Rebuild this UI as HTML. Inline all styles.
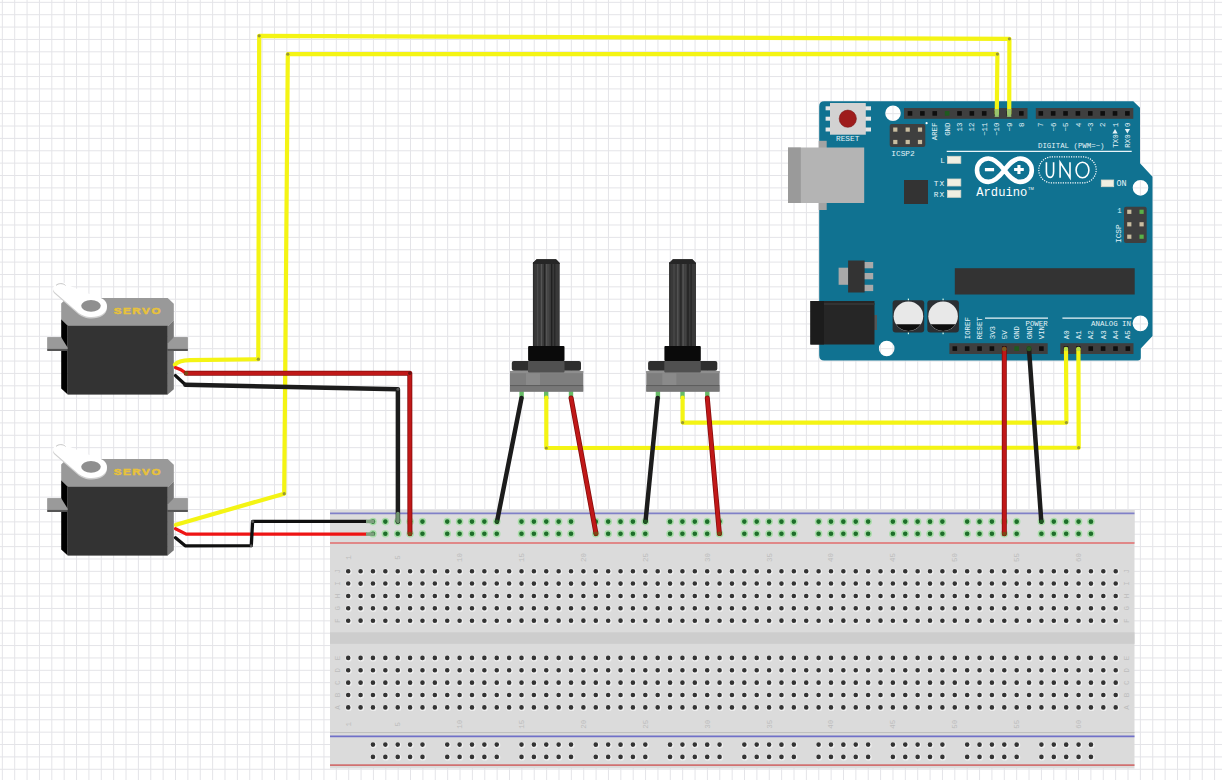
<!DOCTYPE html>
<html><head><meta charset="utf-8"><style>
html,body{margin:0;padding:0;background:#fff;overflow:hidden;}
svg{display:block;font-family:"Liberation Sans",sans-serif;}
</style></head><body>
<svg width="1222" height="780" viewBox="0 0 1222 780">
<rect width="1222" height="780" fill="#ffffff"/>
<path d="M2.33 0V780M14.7 0V780M27.07 0V780M39.44 0V780M51.81 0V780M64.18 0V780M76.55 0V780M88.92 0V780M101.29 0V780M113.66 0V780M126.03 0V780M138.4 0V780M150.77 0V780M163.14 0V780M175.51 0V780M187.88 0V780M200.25 0V780M212.62 0V780M224.99 0V780M237.36 0V780M249.73 0V780M262.1 0V780M274.47 0V780M286.84 0V780M299.21 0V780M311.58 0V780M323.95 0V780M336.32 0V780M348.69 0V780M361.06 0V780M373.43 0V780M385.8 0V780M398.17 0V780M410.54 0V780M422.91 0V780M435.28 0V780M447.65 0V780M460.02 0V780M472.39 0V780M484.76 0V780M497.13 0V780M509.5 0V780M521.87 0V780M534.24 0V780M546.61 0V780M558.98 0V780M571.35 0V780M583.72 0V780M596.09 0V780M608.46 0V780M620.83 0V780M633.2 0V780M645.57 0V780M657.94 0V780M670.31 0V780M682.68 0V780M695.05 0V780M707.42 0V780M719.79 0V780M732.16 0V780M744.53 0V780M756.9 0V780M769.27 0V780M781.64 0V780M794.01 0V780M806.38 0V780M818.75 0V780M831.12 0V780M843.49 0V780M855.86 0V780M868.23 0V780M880.6 0V780M892.97 0V780M905.34 0V780M917.71 0V780M930.08 0V780M942.45 0V780M954.82 0V780M967.19 0V780M979.56 0V780M991.93 0V780M1004.3 0V780M1016.67 0V780M1029.04 0V780M1041.41 0V780M1053.78 0V780M1066.15 0V780M1078.52 0V780M1090.89 0V780M1103.26 0V780M1115.63 0V780M1128 0V780M1140.37 0V780M1152.74 0V780M1165.11 0V780M1177.48 0V780M1189.85 0V780M1202.22 0V780M1214.59 0V780M0 2.33H1222M0 14.7H1222M0 27.07H1222M0 39.44H1222M0 51.81H1222M0 64.18H1222M0 76.55H1222M0 88.92H1222M0 101.29H1222M0 113.66H1222M0 126.03H1222M0 138.4H1222M0 150.77H1222M0 163.14H1222M0 175.51H1222M0 187.88H1222M0 200.25H1222M0 212.62H1222M0 224.99H1222M0 237.36H1222M0 249.73H1222M0 262.1H1222M0 274.47H1222M0 286.84H1222M0 299.21H1222M0 311.58H1222M0 323.95H1222M0 336.32H1222M0 348.69H1222M0 361.06H1222M0 373.43H1222M0 385.8H1222M0 398.17H1222M0 410.54H1222M0 422.91H1222M0 435.28H1222M0 447.65H1222M0 460.02H1222M0 472.39H1222M0 484.76H1222M0 497.13H1222M0 509.5H1222M0 521.87H1222M0 534.24H1222M0 546.61H1222M0 558.98H1222M0 571.35H1222M0 583.72H1222M0 596.09H1222M0 608.46H1222M0 620.83H1222M0 633.2H1222M0 645.57H1222M0 657.94H1222M0 670.31H1222M0 682.68H1222M0 695.05H1222M0 707.42H1222M0 719.79H1222M0 732.16H1222M0 744.53H1222M0 756.9H1222M0 769.27H1222" stroke="#e4e4e8" stroke-width="1" fill="none"/>
<g id="bb">
<rect x="330" y="510" width="804.5" height="258.5" fill="#dbdbdb"/>
<rect x="330" y="510" width="804.5" height="33" fill="#dcdcdc"/>
<path d="M330 513.4H1134.5" stroke="#8080c8" stroke-width="1.6"/>
<path d="M330 543H1134.5" stroke="#e08888" stroke-width="1.8"/>
<rect x="330" y="632.3" width="804.5" height="11.5" fill="#cdcdcd"/>
<path d="M330 732.6H1134.5" stroke="#bcbcbc" stroke-width="1"/>
<path d="M330 736.4H1134.5" stroke="#7070c8" stroke-width="1.6"/>
<path d="M330 765.2H1134.5" stroke="#d07070" stroke-width="1.8"/>
<path d="M345.4 571.7a3.2 3.2 0 1 0 6.4 0a3.2 3.2 0 1 0 -6.4 0zM357.78 571.7a3.2 3.2 0 1 0 6.4 0a3.2 3.2 0 1 0 -6.4 0zM370.16 571.7a3.2 3.2 0 1 0 6.4 0a3.2 3.2 0 1 0 -6.4 0zM382.54 571.7a3.2 3.2 0 1 0 6.4 0a3.2 3.2 0 1 0 -6.4 0zM394.92 571.7a3.2 3.2 0 1 0 6.4 0a3.2 3.2 0 1 0 -6.4 0zM407.29 571.7a3.2 3.2 0 1 0 6.4 0a3.2 3.2 0 1 0 -6.4 0zM419.67 571.7a3.2 3.2 0 1 0 6.4 0a3.2 3.2 0 1 0 -6.4 0zM432.05 571.7a3.2 3.2 0 1 0 6.4 0a3.2 3.2 0 1 0 -6.4 0zM444.43 571.7a3.2 3.2 0 1 0 6.4 0a3.2 3.2 0 1 0 -6.4 0zM456.81 571.7a3.2 3.2 0 1 0 6.4 0a3.2 3.2 0 1 0 -6.4 0zM469.19 571.7a3.2 3.2 0 1 0 6.4 0a3.2 3.2 0 1 0 -6.4 0zM481.57 571.7a3.2 3.2 0 1 0 6.4 0a3.2 3.2 0 1 0 -6.4 0zM493.95 571.7a3.2 3.2 0 1 0 6.4 0a3.2 3.2 0 1 0 -6.4 0zM506.33 571.7a3.2 3.2 0 1 0 6.4 0a3.2 3.2 0 1 0 -6.4 0zM518.71 571.7a3.2 3.2 0 1 0 6.4 0a3.2 3.2 0 1 0 -6.4 0zM531.08 571.7a3.2 3.2 0 1 0 6.4 0a3.2 3.2 0 1 0 -6.4 0zM543.46 571.7a3.2 3.2 0 1 0 6.4 0a3.2 3.2 0 1 0 -6.4 0zM555.84 571.7a3.2 3.2 0 1 0 6.4 0a3.2 3.2 0 1 0 -6.4 0zM568.22 571.7a3.2 3.2 0 1 0 6.4 0a3.2 3.2 0 1 0 -6.4 0zM580.6 571.7a3.2 3.2 0 1 0 6.4 0a3.2 3.2 0 1 0 -6.4 0zM592.98 571.7a3.2 3.2 0 1 0 6.4 0a3.2 3.2 0 1 0 -6.4 0zM605.36 571.7a3.2 3.2 0 1 0 6.4 0a3.2 3.2 0 1 0 -6.4 0zM617.74 571.7a3.2 3.2 0 1 0 6.4 0a3.2 3.2 0 1 0 -6.4 0zM630.12 571.7a3.2 3.2 0 1 0 6.4 0a3.2 3.2 0 1 0 -6.4 0zM642.5 571.7a3.2 3.2 0 1 0 6.4 0a3.2 3.2 0 1 0 -6.4 0zM654.87 571.7a3.2 3.2 0 1 0 6.4 0a3.2 3.2 0 1 0 -6.4 0zM667.25 571.7a3.2 3.2 0 1 0 6.4 0a3.2 3.2 0 1 0 -6.4 0zM679.63 571.7a3.2 3.2 0 1 0 6.4 0a3.2 3.2 0 1 0 -6.4 0zM692.01 571.7a3.2 3.2 0 1 0 6.4 0a3.2 3.2 0 1 0 -6.4 0zM704.39 571.7a3.2 3.2 0 1 0 6.4 0a3.2 3.2 0 1 0 -6.4 0zM716.77 571.7a3.2 3.2 0 1 0 6.4 0a3.2 3.2 0 1 0 -6.4 0zM729.15 571.7a3.2 3.2 0 1 0 6.4 0a3.2 3.2 0 1 0 -6.4 0zM741.53 571.7a3.2 3.2 0 1 0 6.4 0a3.2 3.2 0 1 0 -6.4 0zM753.91 571.7a3.2 3.2 0 1 0 6.4 0a3.2 3.2 0 1 0 -6.4 0zM766.29 571.7a3.2 3.2 0 1 0 6.4 0a3.2 3.2 0 1 0 -6.4 0zM778.66 571.7a3.2 3.2 0 1 0 6.4 0a3.2 3.2 0 1 0 -6.4 0zM791.04 571.7a3.2 3.2 0 1 0 6.4 0a3.2 3.2 0 1 0 -6.4 0zM803.42 571.7a3.2 3.2 0 1 0 6.4 0a3.2 3.2 0 1 0 -6.4 0zM815.8 571.7a3.2 3.2 0 1 0 6.4 0a3.2 3.2 0 1 0 -6.4 0zM828.18 571.7a3.2 3.2 0 1 0 6.4 0a3.2 3.2 0 1 0 -6.4 0zM840.56 571.7a3.2 3.2 0 1 0 6.4 0a3.2 3.2 0 1 0 -6.4 0zM852.94 571.7a3.2 3.2 0 1 0 6.4 0a3.2 3.2 0 1 0 -6.4 0zM865.32 571.7a3.2 3.2 0 1 0 6.4 0a3.2 3.2 0 1 0 -6.4 0zM877.7 571.7a3.2 3.2 0 1 0 6.4 0a3.2 3.2 0 1 0 -6.4 0zM890.08 571.7a3.2 3.2 0 1 0 6.4 0a3.2 3.2 0 1 0 -6.4 0zM902.45 571.7a3.2 3.2 0 1 0 6.4 0a3.2 3.2 0 1 0 -6.4 0zM914.83 571.7a3.2 3.2 0 1 0 6.4 0a3.2 3.2 0 1 0 -6.4 0zM927.21 571.7a3.2 3.2 0 1 0 6.4 0a3.2 3.2 0 1 0 -6.4 0zM939.59 571.7a3.2 3.2 0 1 0 6.4 0a3.2 3.2 0 1 0 -6.4 0zM951.97 571.7a3.2 3.2 0 1 0 6.4 0a3.2 3.2 0 1 0 -6.4 0zM964.35 571.7a3.2 3.2 0 1 0 6.4 0a3.2 3.2 0 1 0 -6.4 0zM976.73 571.7a3.2 3.2 0 1 0 6.4 0a3.2 3.2 0 1 0 -6.4 0zM989.11 571.7a3.2 3.2 0 1 0 6.4 0a3.2 3.2 0 1 0 -6.4 0zM1001.49 571.7a3.2 3.2 0 1 0 6.4 0a3.2 3.2 0 1 0 -6.4 0zM1013.87 571.7a3.2 3.2 0 1 0 6.4 0a3.2 3.2 0 1 0 -6.4 0zM1026.25 571.7a3.2 3.2 0 1 0 6.4 0a3.2 3.2 0 1 0 -6.4 0zM1038.62 571.7a3.2 3.2 0 1 0 6.4 0a3.2 3.2 0 1 0 -6.4 0zM1051 571.7a3.2 3.2 0 1 0 6.4 0a3.2 3.2 0 1 0 -6.4 0zM1063.38 571.7a3.2 3.2 0 1 0 6.4 0a3.2 3.2 0 1 0 -6.4 0zM1075.76 571.7a3.2 3.2 0 1 0 6.4 0a3.2 3.2 0 1 0 -6.4 0zM1088.14 571.7a3.2 3.2 0 1 0 6.4 0a3.2 3.2 0 1 0 -6.4 0zM1100.52 571.7a3.2 3.2 0 1 0 6.4 0a3.2 3.2 0 1 0 -6.4 0zM1112.9 571.7a3.2 3.2 0 1 0 6.4 0a3.2 3.2 0 1 0 -6.4 0zM345.4 584.07a3.2 3.2 0 1 0 6.4 0a3.2 3.2 0 1 0 -6.4 0zM357.78 584.07a3.2 3.2 0 1 0 6.4 0a3.2 3.2 0 1 0 -6.4 0zM370.16 584.07a3.2 3.2 0 1 0 6.4 0a3.2 3.2 0 1 0 -6.4 0zM382.54 584.07a3.2 3.2 0 1 0 6.4 0a3.2 3.2 0 1 0 -6.4 0zM394.92 584.07a3.2 3.2 0 1 0 6.4 0a3.2 3.2 0 1 0 -6.4 0zM407.29 584.07a3.2 3.2 0 1 0 6.4 0a3.2 3.2 0 1 0 -6.4 0zM419.67 584.07a3.2 3.2 0 1 0 6.4 0a3.2 3.2 0 1 0 -6.4 0zM432.05 584.07a3.2 3.2 0 1 0 6.4 0a3.2 3.2 0 1 0 -6.4 0zM444.43 584.07a3.2 3.2 0 1 0 6.4 0a3.2 3.2 0 1 0 -6.4 0zM456.81 584.07a3.2 3.2 0 1 0 6.4 0a3.2 3.2 0 1 0 -6.4 0zM469.19 584.07a3.2 3.2 0 1 0 6.4 0a3.2 3.2 0 1 0 -6.4 0zM481.57 584.07a3.2 3.2 0 1 0 6.4 0a3.2 3.2 0 1 0 -6.4 0zM493.95 584.07a3.2 3.2 0 1 0 6.4 0a3.2 3.2 0 1 0 -6.4 0zM506.33 584.07a3.2 3.2 0 1 0 6.4 0a3.2 3.2 0 1 0 -6.4 0zM518.71 584.07a3.2 3.2 0 1 0 6.4 0a3.2 3.2 0 1 0 -6.4 0zM531.08 584.07a3.2 3.2 0 1 0 6.4 0a3.2 3.2 0 1 0 -6.4 0zM543.46 584.07a3.2 3.2 0 1 0 6.4 0a3.2 3.2 0 1 0 -6.4 0zM555.84 584.07a3.2 3.2 0 1 0 6.4 0a3.2 3.2 0 1 0 -6.4 0zM568.22 584.07a3.2 3.2 0 1 0 6.4 0a3.2 3.2 0 1 0 -6.4 0zM580.6 584.07a3.2 3.2 0 1 0 6.4 0a3.2 3.2 0 1 0 -6.4 0zM592.98 584.07a3.2 3.2 0 1 0 6.4 0a3.2 3.2 0 1 0 -6.4 0zM605.36 584.07a3.2 3.2 0 1 0 6.4 0a3.2 3.2 0 1 0 -6.4 0zM617.74 584.07a3.2 3.2 0 1 0 6.4 0a3.2 3.2 0 1 0 -6.4 0zM630.12 584.07a3.2 3.2 0 1 0 6.4 0a3.2 3.2 0 1 0 -6.4 0zM642.5 584.07a3.2 3.2 0 1 0 6.4 0a3.2 3.2 0 1 0 -6.4 0zM654.87 584.07a3.2 3.2 0 1 0 6.4 0a3.2 3.2 0 1 0 -6.4 0zM667.25 584.07a3.2 3.2 0 1 0 6.4 0a3.2 3.2 0 1 0 -6.4 0zM679.63 584.07a3.2 3.2 0 1 0 6.4 0a3.2 3.2 0 1 0 -6.4 0zM692.01 584.07a3.2 3.2 0 1 0 6.4 0a3.2 3.2 0 1 0 -6.4 0zM704.39 584.07a3.2 3.2 0 1 0 6.4 0a3.2 3.2 0 1 0 -6.4 0zM716.77 584.07a3.2 3.2 0 1 0 6.4 0a3.2 3.2 0 1 0 -6.4 0zM729.15 584.07a3.2 3.2 0 1 0 6.4 0a3.2 3.2 0 1 0 -6.4 0zM741.53 584.07a3.2 3.2 0 1 0 6.4 0a3.2 3.2 0 1 0 -6.4 0zM753.91 584.07a3.2 3.2 0 1 0 6.4 0a3.2 3.2 0 1 0 -6.4 0zM766.29 584.07a3.2 3.2 0 1 0 6.4 0a3.2 3.2 0 1 0 -6.4 0zM778.66 584.07a3.2 3.2 0 1 0 6.4 0a3.2 3.2 0 1 0 -6.4 0zM791.04 584.07a3.2 3.2 0 1 0 6.4 0a3.2 3.2 0 1 0 -6.4 0zM803.42 584.07a3.2 3.2 0 1 0 6.4 0a3.2 3.2 0 1 0 -6.4 0zM815.8 584.07a3.2 3.2 0 1 0 6.4 0a3.2 3.2 0 1 0 -6.4 0zM828.18 584.07a3.2 3.2 0 1 0 6.4 0a3.2 3.2 0 1 0 -6.4 0zM840.56 584.07a3.2 3.2 0 1 0 6.4 0a3.2 3.2 0 1 0 -6.4 0zM852.94 584.07a3.2 3.2 0 1 0 6.4 0a3.2 3.2 0 1 0 -6.4 0zM865.32 584.07a3.2 3.2 0 1 0 6.4 0a3.2 3.2 0 1 0 -6.4 0zM877.7 584.07a3.2 3.2 0 1 0 6.4 0a3.2 3.2 0 1 0 -6.4 0zM890.08 584.07a3.2 3.2 0 1 0 6.4 0a3.2 3.2 0 1 0 -6.4 0zM902.45 584.07a3.2 3.2 0 1 0 6.4 0a3.2 3.2 0 1 0 -6.4 0zM914.83 584.07a3.2 3.2 0 1 0 6.4 0a3.2 3.2 0 1 0 -6.4 0zM927.21 584.07a3.2 3.2 0 1 0 6.4 0a3.2 3.2 0 1 0 -6.4 0zM939.59 584.07a3.2 3.2 0 1 0 6.4 0a3.2 3.2 0 1 0 -6.4 0zM951.97 584.07a3.2 3.2 0 1 0 6.4 0a3.2 3.2 0 1 0 -6.4 0zM964.35 584.07a3.2 3.2 0 1 0 6.4 0a3.2 3.2 0 1 0 -6.4 0zM976.73 584.07a3.2 3.2 0 1 0 6.4 0a3.2 3.2 0 1 0 -6.4 0zM989.11 584.07a3.2 3.2 0 1 0 6.4 0a3.2 3.2 0 1 0 -6.4 0zM1001.49 584.07a3.2 3.2 0 1 0 6.4 0a3.2 3.2 0 1 0 -6.4 0zM1013.87 584.07a3.2 3.2 0 1 0 6.4 0a3.2 3.2 0 1 0 -6.4 0zM1026.25 584.07a3.2 3.2 0 1 0 6.4 0a3.2 3.2 0 1 0 -6.4 0zM1038.62 584.07a3.2 3.2 0 1 0 6.4 0a3.2 3.2 0 1 0 -6.4 0zM1051 584.07a3.2 3.2 0 1 0 6.4 0a3.2 3.2 0 1 0 -6.4 0zM1063.38 584.07a3.2 3.2 0 1 0 6.4 0a3.2 3.2 0 1 0 -6.4 0zM1075.76 584.07a3.2 3.2 0 1 0 6.4 0a3.2 3.2 0 1 0 -6.4 0zM1088.14 584.07a3.2 3.2 0 1 0 6.4 0a3.2 3.2 0 1 0 -6.4 0zM1100.52 584.07a3.2 3.2 0 1 0 6.4 0a3.2 3.2 0 1 0 -6.4 0zM1112.9 584.07a3.2 3.2 0 1 0 6.4 0a3.2 3.2 0 1 0 -6.4 0zM345.4 596.44a3.2 3.2 0 1 0 6.4 0a3.2 3.2 0 1 0 -6.4 0zM357.78 596.44a3.2 3.2 0 1 0 6.4 0a3.2 3.2 0 1 0 -6.4 0zM370.16 596.44a3.2 3.2 0 1 0 6.4 0a3.2 3.2 0 1 0 -6.4 0zM382.54 596.44a3.2 3.2 0 1 0 6.4 0a3.2 3.2 0 1 0 -6.4 0zM394.92 596.44a3.2 3.2 0 1 0 6.4 0a3.2 3.2 0 1 0 -6.4 0zM407.29 596.44a3.2 3.2 0 1 0 6.4 0a3.2 3.2 0 1 0 -6.4 0zM419.67 596.44a3.2 3.2 0 1 0 6.4 0a3.2 3.2 0 1 0 -6.4 0zM432.05 596.44a3.2 3.2 0 1 0 6.4 0a3.2 3.2 0 1 0 -6.4 0zM444.43 596.44a3.2 3.2 0 1 0 6.4 0a3.2 3.2 0 1 0 -6.4 0zM456.81 596.44a3.2 3.2 0 1 0 6.4 0a3.2 3.2 0 1 0 -6.4 0zM469.19 596.44a3.2 3.2 0 1 0 6.4 0a3.2 3.2 0 1 0 -6.4 0zM481.57 596.44a3.2 3.2 0 1 0 6.4 0a3.2 3.2 0 1 0 -6.4 0zM493.95 596.44a3.2 3.2 0 1 0 6.4 0a3.2 3.2 0 1 0 -6.4 0zM506.33 596.44a3.2 3.2 0 1 0 6.4 0a3.2 3.2 0 1 0 -6.4 0zM518.71 596.44a3.2 3.2 0 1 0 6.4 0a3.2 3.2 0 1 0 -6.4 0zM531.08 596.44a3.2 3.2 0 1 0 6.4 0a3.2 3.2 0 1 0 -6.4 0zM543.46 596.44a3.2 3.2 0 1 0 6.4 0a3.2 3.2 0 1 0 -6.4 0zM555.84 596.44a3.2 3.2 0 1 0 6.4 0a3.2 3.2 0 1 0 -6.4 0zM568.22 596.44a3.2 3.2 0 1 0 6.4 0a3.2 3.2 0 1 0 -6.4 0zM580.6 596.44a3.2 3.2 0 1 0 6.4 0a3.2 3.2 0 1 0 -6.4 0zM592.98 596.44a3.2 3.2 0 1 0 6.4 0a3.2 3.2 0 1 0 -6.4 0zM605.36 596.44a3.2 3.2 0 1 0 6.4 0a3.2 3.2 0 1 0 -6.4 0zM617.74 596.44a3.2 3.2 0 1 0 6.4 0a3.2 3.2 0 1 0 -6.4 0zM630.12 596.44a3.2 3.2 0 1 0 6.4 0a3.2 3.2 0 1 0 -6.4 0zM642.5 596.44a3.2 3.2 0 1 0 6.4 0a3.2 3.2 0 1 0 -6.4 0zM654.87 596.44a3.2 3.2 0 1 0 6.4 0a3.2 3.2 0 1 0 -6.4 0zM667.25 596.44a3.2 3.2 0 1 0 6.4 0a3.2 3.2 0 1 0 -6.4 0zM679.63 596.44a3.2 3.2 0 1 0 6.4 0a3.2 3.2 0 1 0 -6.4 0zM692.01 596.44a3.2 3.2 0 1 0 6.4 0a3.2 3.2 0 1 0 -6.4 0zM704.39 596.44a3.2 3.2 0 1 0 6.4 0a3.2 3.2 0 1 0 -6.4 0zM716.77 596.44a3.2 3.2 0 1 0 6.4 0a3.2 3.2 0 1 0 -6.4 0zM729.15 596.44a3.2 3.2 0 1 0 6.4 0a3.2 3.2 0 1 0 -6.4 0zM741.53 596.44a3.2 3.2 0 1 0 6.4 0a3.2 3.2 0 1 0 -6.4 0zM753.91 596.44a3.2 3.2 0 1 0 6.4 0a3.2 3.2 0 1 0 -6.4 0zM766.29 596.44a3.2 3.2 0 1 0 6.4 0a3.2 3.2 0 1 0 -6.4 0zM778.66 596.44a3.2 3.2 0 1 0 6.4 0a3.2 3.2 0 1 0 -6.4 0zM791.04 596.44a3.2 3.2 0 1 0 6.4 0a3.2 3.2 0 1 0 -6.4 0zM803.42 596.44a3.2 3.2 0 1 0 6.4 0a3.2 3.2 0 1 0 -6.4 0zM815.8 596.44a3.2 3.2 0 1 0 6.4 0a3.2 3.2 0 1 0 -6.4 0zM828.18 596.44a3.2 3.2 0 1 0 6.4 0a3.2 3.2 0 1 0 -6.4 0zM840.56 596.44a3.2 3.2 0 1 0 6.4 0a3.2 3.2 0 1 0 -6.4 0zM852.94 596.44a3.2 3.2 0 1 0 6.4 0a3.2 3.2 0 1 0 -6.4 0zM865.32 596.44a3.2 3.2 0 1 0 6.4 0a3.2 3.2 0 1 0 -6.4 0zM877.7 596.44a3.2 3.2 0 1 0 6.4 0a3.2 3.2 0 1 0 -6.4 0zM890.08 596.44a3.2 3.2 0 1 0 6.4 0a3.2 3.2 0 1 0 -6.4 0zM902.45 596.44a3.2 3.2 0 1 0 6.4 0a3.2 3.2 0 1 0 -6.4 0zM914.83 596.44a3.2 3.2 0 1 0 6.4 0a3.2 3.2 0 1 0 -6.4 0zM927.21 596.44a3.2 3.2 0 1 0 6.4 0a3.2 3.2 0 1 0 -6.4 0zM939.59 596.44a3.2 3.2 0 1 0 6.4 0a3.2 3.2 0 1 0 -6.4 0zM951.97 596.44a3.2 3.2 0 1 0 6.4 0a3.2 3.2 0 1 0 -6.4 0zM964.35 596.44a3.2 3.2 0 1 0 6.4 0a3.2 3.2 0 1 0 -6.4 0zM976.73 596.44a3.2 3.2 0 1 0 6.4 0a3.2 3.2 0 1 0 -6.4 0zM989.11 596.44a3.2 3.2 0 1 0 6.4 0a3.2 3.2 0 1 0 -6.4 0zM1001.49 596.44a3.2 3.2 0 1 0 6.4 0a3.2 3.2 0 1 0 -6.4 0zM1013.87 596.44a3.2 3.2 0 1 0 6.4 0a3.2 3.2 0 1 0 -6.4 0zM1026.25 596.44a3.2 3.2 0 1 0 6.4 0a3.2 3.2 0 1 0 -6.4 0zM1038.62 596.44a3.2 3.2 0 1 0 6.4 0a3.2 3.2 0 1 0 -6.4 0zM1051 596.44a3.2 3.2 0 1 0 6.4 0a3.2 3.2 0 1 0 -6.4 0zM1063.38 596.44a3.2 3.2 0 1 0 6.4 0a3.2 3.2 0 1 0 -6.4 0zM1075.76 596.44a3.2 3.2 0 1 0 6.4 0a3.2 3.2 0 1 0 -6.4 0zM1088.14 596.44a3.2 3.2 0 1 0 6.4 0a3.2 3.2 0 1 0 -6.4 0zM1100.52 596.44a3.2 3.2 0 1 0 6.4 0a3.2 3.2 0 1 0 -6.4 0zM1112.9 596.44a3.2 3.2 0 1 0 6.4 0a3.2 3.2 0 1 0 -6.4 0zM345.4 608.81a3.2 3.2 0 1 0 6.4 0a3.2 3.2 0 1 0 -6.4 0zM357.78 608.81a3.2 3.2 0 1 0 6.4 0a3.2 3.2 0 1 0 -6.4 0zM370.16 608.81a3.2 3.2 0 1 0 6.4 0a3.2 3.2 0 1 0 -6.4 0zM382.54 608.81a3.2 3.2 0 1 0 6.4 0a3.2 3.2 0 1 0 -6.4 0zM394.92 608.81a3.2 3.2 0 1 0 6.4 0a3.2 3.2 0 1 0 -6.4 0zM407.29 608.81a3.2 3.2 0 1 0 6.4 0a3.2 3.2 0 1 0 -6.4 0zM419.67 608.81a3.2 3.2 0 1 0 6.4 0a3.2 3.2 0 1 0 -6.4 0zM432.05 608.81a3.2 3.2 0 1 0 6.4 0a3.2 3.2 0 1 0 -6.4 0zM444.43 608.81a3.2 3.2 0 1 0 6.4 0a3.2 3.2 0 1 0 -6.4 0zM456.81 608.81a3.2 3.2 0 1 0 6.4 0a3.2 3.2 0 1 0 -6.4 0zM469.19 608.81a3.2 3.2 0 1 0 6.4 0a3.2 3.2 0 1 0 -6.4 0zM481.57 608.81a3.2 3.2 0 1 0 6.4 0a3.2 3.2 0 1 0 -6.4 0zM493.95 608.81a3.2 3.2 0 1 0 6.4 0a3.2 3.2 0 1 0 -6.4 0zM506.33 608.81a3.2 3.2 0 1 0 6.4 0a3.2 3.2 0 1 0 -6.4 0zM518.71 608.81a3.2 3.2 0 1 0 6.4 0a3.2 3.2 0 1 0 -6.4 0zM531.08 608.81a3.2 3.2 0 1 0 6.4 0a3.2 3.2 0 1 0 -6.4 0zM543.46 608.81a3.2 3.2 0 1 0 6.4 0a3.2 3.2 0 1 0 -6.4 0zM555.84 608.81a3.2 3.2 0 1 0 6.4 0a3.2 3.2 0 1 0 -6.4 0zM568.22 608.81a3.2 3.2 0 1 0 6.4 0a3.2 3.2 0 1 0 -6.4 0zM580.6 608.81a3.2 3.2 0 1 0 6.4 0a3.2 3.2 0 1 0 -6.4 0zM592.98 608.81a3.2 3.2 0 1 0 6.4 0a3.2 3.2 0 1 0 -6.4 0zM605.36 608.81a3.2 3.2 0 1 0 6.4 0a3.2 3.2 0 1 0 -6.4 0zM617.74 608.81a3.2 3.2 0 1 0 6.4 0a3.2 3.2 0 1 0 -6.4 0zM630.12 608.81a3.2 3.2 0 1 0 6.4 0a3.2 3.2 0 1 0 -6.4 0zM642.5 608.81a3.2 3.2 0 1 0 6.4 0a3.2 3.2 0 1 0 -6.4 0zM654.87 608.81a3.2 3.2 0 1 0 6.4 0a3.2 3.2 0 1 0 -6.4 0zM667.25 608.81a3.2 3.2 0 1 0 6.4 0a3.2 3.2 0 1 0 -6.4 0zM679.63 608.81a3.2 3.2 0 1 0 6.4 0a3.2 3.2 0 1 0 -6.4 0zM692.01 608.81a3.2 3.2 0 1 0 6.4 0a3.2 3.2 0 1 0 -6.4 0zM704.39 608.81a3.2 3.2 0 1 0 6.4 0a3.2 3.2 0 1 0 -6.4 0zM716.77 608.81a3.2 3.2 0 1 0 6.4 0a3.2 3.2 0 1 0 -6.4 0zM729.15 608.81a3.2 3.2 0 1 0 6.4 0a3.2 3.2 0 1 0 -6.4 0zM741.53 608.81a3.2 3.2 0 1 0 6.4 0a3.2 3.2 0 1 0 -6.4 0zM753.91 608.81a3.2 3.2 0 1 0 6.4 0a3.2 3.2 0 1 0 -6.4 0zM766.29 608.81a3.2 3.2 0 1 0 6.4 0a3.2 3.2 0 1 0 -6.4 0zM778.66 608.81a3.2 3.2 0 1 0 6.4 0a3.2 3.2 0 1 0 -6.4 0zM791.04 608.81a3.2 3.2 0 1 0 6.4 0a3.2 3.2 0 1 0 -6.4 0zM803.42 608.81a3.2 3.2 0 1 0 6.4 0a3.2 3.2 0 1 0 -6.4 0zM815.8 608.81a3.2 3.2 0 1 0 6.4 0a3.2 3.2 0 1 0 -6.4 0zM828.18 608.81a3.2 3.2 0 1 0 6.4 0a3.2 3.2 0 1 0 -6.4 0zM840.56 608.81a3.2 3.2 0 1 0 6.4 0a3.2 3.2 0 1 0 -6.4 0zM852.94 608.81a3.2 3.2 0 1 0 6.4 0a3.2 3.2 0 1 0 -6.4 0zM865.32 608.81a3.2 3.2 0 1 0 6.4 0a3.2 3.2 0 1 0 -6.4 0zM877.7 608.81a3.2 3.2 0 1 0 6.4 0a3.2 3.2 0 1 0 -6.4 0zM890.08 608.81a3.2 3.2 0 1 0 6.4 0a3.2 3.2 0 1 0 -6.4 0zM902.45 608.81a3.2 3.2 0 1 0 6.4 0a3.2 3.2 0 1 0 -6.4 0zM914.83 608.81a3.2 3.2 0 1 0 6.4 0a3.2 3.2 0 1 0 -6.4 0zM927.21 608.81a3.2 3.2 0 1 0 6.4 0a3.2 3.2 0 1 0 -6.4 0zM939.59 608.81a3.2 3.2 0 1 0 6.4 0a3.2 3.2 0 1 0 -6.4 0zM951.97 608.81a3.2 3.2 0 1 0 6.4 0a3.2 3.2 0 1 0 -6.4 0zM964.35 608.81a3.2 3.2 0 1 0 6.4 0a3.2 3.2 0 1 0 -6.4 0zM976.73 608.81a3.2 3.2 0 1 0 6.4 0a3.2 3.2 0 1 0 -6.4 0zM989.11 608.81a3.2 3.2 0 1 0 6.4 0a3.2 3.2 0 1 0 -6.4 0zM1001.49 608.81a3.2 3.2 0 1 0 6.4 0a3.2 3.2 0 1 0 -6.4 0zM1013.87 608.81a3.2 3.2 0 1 0 6.4 0a3.2 3.2 0 1 0 -6.4 0zM1026.25 608.81a3.2 3.2 0 1 0 6.4 0a3.2 3.2 0 1 0 -6.4 0zM1038.62 608.81a3.2 3.2 0 1 0 6.4 0a3.2 3.2 0 1 0 -6.4 0zM1051 608.81a3.2 3.2 0 1 0 6.4 0a3.2 3.2 0 1 0 -6.4 0zM1063.38 608.81a3.2 3.2 0 1 0 6.4 0a3.2 3.2 0 1 0 -6.4 0zM1075.76 608.81a3.2 3.2 0 1 0 6.4 0a3.2 3.2 0 1 0 -6.4 0zM1088.14 608.81a3.2 3.2 0 1 0 6.4 0a3.2 3.2 0 1 0 -6.4 0zM1100.52 608.81a3.2 3.2 0 1 0 6.4 0a3.2 3.2 0 1 0 -6.4 0zM1112.9 608.81a3.2 3.2 0 1 0 6.4 0a3.2 3.2 0 1 0 -6.4 0zM345.4 621.18a3.2 3.2 0 1 0 6.4 0a3.2 3.2 0 1 0 -6.4 0zM357.78 621.18a3.2 3.2 0 1 0 6.4 0a3.2 3.2 0 1 0 -6.4 0zM370.16 621.18a3.2 3.2 0 1 0 6.4 0a3.2 3.2 0 1 0 -6.4 0zM382.54 621.18a3.2 3.2 0 1 0 6.4 0a3.2 3.2 0 1 0 -6.4 0zM394.92 621.18a3.2 3.2 0 1 0 6.4 0a3.2 3.2 0 1 0 -6.4 0zM407.29 621.18a3.2 3.2 0 1 0 6.4 0a3.2 3.2 0 1 0 -6.4 0zM419.67 621.18a3.2 3.2 0 1 0 6.4 0a3.2 3.2 0 1 0 -6.4 0zM432.05 621.18a3.2 3.2 0 1 0 6.4 0a3.2 3.2 0 1 0 -6.4 0zM444.43 621.18a3.2 3.2 0 1 0 6.4 0a3.2 3.2 0 1 0 -6.4 0zM456.81 621.18a3.2 3.2 0 1 0 6.4 0a3.2 3.2 0 1 0 -6.4 0zM469.19 621.18a3.2 3.2 0 1 0 6.4 0a3.2 3.2 0 1 0 -6.4 0zM481.57 621.18a3.2 3.2 0 1 0 6.4 0a3.2 3.2 0 1 0 -6.4 0zM493.95 621.18a3.2 3.2 0 1 0 6.4 0a3.2 3.2 0 1 0 -6.4 0zM506.33 621.18a3.2 3.2 0 1 0 6.4 0a3.2 3.2 0 1 0 -6.4 0zM518.71 621.18a3.2 3.2 0 1 0 6.4 0a3.2 3.2 0 1 0 -6.4 0zM531.08 621.18a3.2 3.2 0 1 0 6.4 0a3.2 3.2 0 1 0 -6.4 0zM543.46 621.18a3.2 3.2 0 1 0 6.4 0a3.2 3.2 0 1 0 -6.4 0zM555.84 621.18a3.2 3.2 0 1 0 6.4 0a3.2 3.2 0 1 0 -6.4 0zM568.22 621.18a3.2 3.2 0 1 0 6.4 0a3.2 3.2 0 1 0 -6.4 0zM580.6 621.18a3.2 3.2 0 1 0 6.4 0a3.2 3.2 0 1 0 -6.4 0zM592.98 621.18a3.2 3.2 0 1 0 6.4 0a3.2 3.2 0 1 0 -6.4 0zM605.36 621.18a3.2 3.2 0 1 0 6.4 0a3.2 3.2 0 1 0 -6.4 0zM617.74 621.18a3.2 3.2 0 1 0 6.4 0a3.2 3.2 0 1 0 -6.4 0zM630.12 621.18a3.2 3.2 0 1 0 6.4 0a3.2 3.2 0 1 0 -6.4 0zM642.5 621.18a3.2 3.2 0 1 0 6.4 0a3.2 3.2 0 1 0 -6.4 0zM654.87 621.18a3.2 3.2 0 1 0 6.4 0a3.2 3.2 0 1 0 -6.4 0zM667.25 621.18a3.2 3.2 0 1 0 6.4 0a3.2 3.2 0 1 0 -6.4 0zM679.63 621.18a3.2 3.2 0 1 0 6.4 0a3.2 3.2 0 1 0 -6.4 0zM692.01 621.18a3.2 3.2 0 1 0 6.4 0a3.2 3.2 0 1 0 -6.4 0zM704.39 621.18a3.2 3.2 0 1 0 6.4 0a3.2 3.2 0 1 0 -6.4 0zM716.77 621.18a3.2 3.2 0 1 0 6.4 0a3.2 3.2 0 1 0 -6.4 0zM729.15 621.18a3.2 3.2 0 1 0 6.4 0a3.2 3.2 0 1 0 -6.4 0zM741.53 621.18a3.2 3.2 0 1 0 6.4 0a3.2 3.2 0 1 0 -6.4 0zM753.91 621.18a3.2 3.2 0 1 0 6.4 0a3.2 3.2 0 1 0 -6.4 0zM766.29 621.18a3.2 3.2 0 1 0 6.4 0a3.2 3.2 0 1 0 -6.4 0zM778.66 621.18a3.2 3.2 0 1 0 6.4 0a3.2 3.2 0 1 0 -6.4 0zM791.04 621.18a3.2 3.2 0 1 0 6.4 0a3.2 3.2 0 1 0 -6.4 0zM803.42 621.18a3.2 3.2 0 1 0 6.4 0a3.2 3.2 0 1 0 -6.4 0zM815.8 621.18a3.2 3.2 0 1 0 6.4 0a3.2 3.2 0 1 0 -6.4 0zM828.18 621.18a3.2 3.2 0 1 0 6.4 0a3.2 3.2 0 1 0 -6.4 0zM840.56 621.18a3.2 3.2 0 1 0 6.4 0a3.2 3.2 0 1 0 -6.4 0zM852.94 621.18a3.2 3.2 0 1 0 6.4 0a3.2 3.2 0 1 0 -6.4 0zM865.32 621.18a3.2 3.2 0 1 0 6.4 0a3.2 3.2 0 1 0 -6.4 0zM877.7 621.18a3.2 3.2 0 1 0 6.4 0a3.2 3.2 0 1 0 -6.4 0zM890.08 621.18a3.2 3.2 0 1 0 6.4 0a3.2 3.2 0 1 0 -6.4 0zM902.45 621.18a3.2 3.2 0 1 0 6.4 0a3.2 3.2 0 1 0 -6.4 0zM914.83 621.18a3.2 3.2 0 1 0 6.4 0a3.2 3.2 0 1 0 -6.4 0zM927.21 621.18a3.2 3.2 0 1 0 6.4 0a3.2 3.2 0 1 0 -6.4 0zM939.59 621.18a3.2 3.2 0 1 0 6.4 0a3.2 3.2 0 1 0 -6.4 0zM951.97 621.18a3.2 3.2 0 1 0 6.4 0a3.2 3.2 0 1 0 -6.4 0zM964.35 621.18a3.2 3.2 0 1 0 6.4 0a3.2 3.2 0 1 0 -6.4 0zM976.73 621.18a3.2 3.2 0 1 0 6.4 0a3.2 3.2 0 1 0 -6.4 0zM989.11 621.18a3.2 3.2 0 1 0 6.4 0a3.2 3.2 0 1 0 -6.4 0zM1001.49 621.18a3.2 3.2 0 1 0 6.4 0a3.2 3.2 0 1 0 -6.4 0zM1013.87 621.18a3.2 3.2 0 1 0 6.4 0a3.2 3.2 0 1 0 -6.4 0zM1026.25 621.18a3.2 3.2 0 1 0 6.4 0a3.2 3.2 0 1 0 -6.4 0zM1038.62 621.18a3.2 3.2 0 1 0 6.4 0a3.2 3.2 0 1 0 -6.4 0zM1051 621.18a3.2 3.2 0 1 0 6.4 0a3.2 3.2 0 1 0 -6.4 0zM1063.38 621.18a3.2 3.2 0 1 0 6.4 0a3.2 3.2 0 1 0 -6.4 0zM1075.76 621.18a3.2 3.2 0 1 0 6.4 0a3.2 3.2 0 1 0 -6.4 0zM1088.14 621.18a3.2 3.2 0 1 0 6.4 0a3.2 3.2 0 1 0 -6.4 0zM1100.52 621.18a3.2 3.2 0 1 0 6.4 0a3.2 3.2 0 1 0 -6.4 0zM1112.9 621.18a3.2 3.2 0 1 0 6.4 0a3.2 3.2 0 1 0 -6.4 0zM345.4 658.4a3.2 3.2 0 1 0 6.4 0a3.2 3.2 0 1 0 -6.4 0zM357.78 658.4a3.2 3.2 0 1 0 6.4 0a3.2 3.2 0 1 0 -6.4 0zM370.16 658.4a3.2 3.2 0 1 0 6.4 0a3.2 3.2 0 1 0 -6.4 0zM382.54 658.4a3.2 3.2 0 1 0 6.4 0a3.2 3.2 0 1 0 -6.4 0zM394.92 658.4a3.2 3.2 0 1 0 6.4 0a3.2 3.2 0 1 0 -6.4 0zM407.29 658.4a3.2 3.2 0 1 0 6.4 0a3.2 3.2 0 1 0 -6.4 0zM419.67 658.4a3.2 3.2 0 1 0 6.4 0a3.2 3.2 0 1 0 -6.4 0zM432.05 658.4a3.2 3.2 0 1 0 6.4 0a3.2 3.2 0 1 0 -6.4 0zM444.43 658.4a3.2 3.2 0 1 0 6.4 0a3.2 3.2 0 1 0 -6.4 0zM456.81 658.4a3.2 3.2 0 1 0 6.4 0a3.2 3.2 0 1 0 -6.4 0zM469.19 658.4a3.2 3.2 0 1 0 6.4 0a3.2 3.2 0 1 0 -6.4 0zM481.57 658.4a3.2 3.2 0 1 0 6.4 0a3.2 3.2 0 1 0 -6.4 0zM493.95 658.4a3.2 3.2 0 1 0 6.4 0a3.2 3.2 0 1 0 -6.4 0zM506.33 658.4a3.2 3.2 0 1 0 6.4 0a3.2 3.2 0 1 0 -6.4 0zM518.71 658.4a3.2 3.2 0 1 0 6.4 0a3.2 3.2 0 1 0 -6.4 0zM531.08 658.4a3.2 3.2 0 1 0 6.4 0a3.2 3.2 0 1 0 -6.4 0zM543.46 658.4a3.2 3.2 0 1 0 6.4 0a3.2 3.2 0 1 0 -6.4 0zM555.84 658.4a3.2 3.2 0 1 0 6.4 0a3.2 3.2 0 1 0 -6.4 0zM568.22 658.4a3.2 3.2 0 1 0 6.4 0a3.2 3.2 0 1 0 -6.4 0zM580.6 658.4a3.2 3.2 0 1 0 6.4 0a3.2 3.2 0 1 0 -6.4 0zM592.98 658.4a3.2 3.2 0 1 0 6.4 0a3.2 3.2 0 1 0 -6.4 0zM605.36 658.4a3.2 3.2 0 1 0 6.4 0a3.2 3.2 0 1 0 -6.4 0zM617.74 658.4a3.2 3.2 0 1 0 6.4 0a3.2 3.2 0 1 0 -6.4 0zM630.12 658.4a3.2 3.2 0 1 0 6.4 0a3.2 3.2 0 1 0 -6.4 0zM642.5 658.4a3.2 3.2 0 1 0 6.4 0a3.2 3.2 0 1 0 -6.4 0zM654.87 658.4a3.2 3.2 0 1 0 6.4 0a3.2 3.2 0 1 0 -6.4 0zM667.25 658.4a3.2 3.2 0 1 0 6.4 0a3.2 3.2 0 1 0 -6.4 0zM679.63 658.4a3.2 3.2 0 1 0 6.4 0a3.2 3.2 0 1 0 -6.4 0zM692.01 658.4a3.2 3.2 0 1 0 6.4 0a3.2 3.2 0 1 0 -6.4 0zM704.39 658.4a3.2 3.2 0 1 0 6.4 0a3.2 3.2 0 1 0 -6.4 0zM716.77 658.4a3.2 3.2 0 1 0 6.4 0a3.2 3.2 0 1 0 -6.4 0zM729.15 658.4a3.2 3.2 0 1 0 6.4 0a3.2 3.2 0 1 0 -6.4 0zM741.53 658.4a3.2 3.2 0 1 0 6.4 0a3.2 3.2 0 1 0 -6.4 0zM753.91 658.4a3.2 3.2 0 1 0 6.4 0a3.2 3.2 0 1 0 -6.4 0zM766.29 658.4a3.2 3.2 0 1 0 6.4 0a3.2 3.2 0 1 0 -6.4 0zM778.66 658.4a3.2 3.2 0 1 0 6.4 0a3.2 3.2 0 1 0 -6.4 0zM791.04 658.4a3.2 3.2 0 1 0 6.4 0a3.2 3.2 0 1 0 -6.4 0zM803.42 658.4a3.2 3.2 0 1 0 6.4 0a3.2 3.2 0 1 0 -6.4 0zM815.8 658.4a3.2 3.2 0 1 0 6.4 0a3.2 3.2 0 1 0 -6.4 0zM828.18 658.4a3.2 3.2 0 1 0 6.4 0a3.2 3.2 0 1 0 -6.4 0zM840.56 658.4a3.2 3.2 0 1 0 6.4 0a3.2 3.2 0 1 0 -6.4 0zM852.94 658.4a3.2 3.2 0 1 0 6.4 0a3.2 3.2 0 1 0 -6.4 0zM865.32 658.4a3.2 3.2 0 1 0 6.4 0a3.2 3.2 0 1 0 -6.4 0zM877.7 658.4a3.2 3.2 0 1 0 6.4 0a3.2 3.2 0 1 0 -6.4 0zM890.08 658.4a3.2 3.2 0 1 0 6.4 0a3.2 3.2 0 1 0 -6.4 0zM902.45 658.4a3.2 3.2 0 1 0 6.4 0a3.2 3.2 0 1 0 -6.4 0zM914.83 658.4a3.2 3.2 0 1 0 6.4 0a3.2 3.2 0 1 0 -6.4 0zM927.21 658.4a3.2 3.2 0 1 0 6.4 0a3.2 3.2 0 1 0 -6.4 0zM939.59 658.4a3.2 3.2 0 1 0 6.4 0a3.2 3.2 0 1 0 -6.4 0zM951.97 658.4a3.2 3.2 0 1 0 6.4 0a3.2 3.2 0 1 0 -6.4 0zM964.35 658.4a3.2 3.2 0 1 0 6.4 0a3.2 3.2 0 1 0 -6.4 0zM976.73 658.4a3.2 3.2 0 1 0 6.4 0a3.2 3.2 0 1 0 -6.4 0zM989.11 658.4a3.2 3.2 0 1 0 6.4 0a3.2 3.2 0 1 0 -6.4 0zM1001.49 658.4a3.2 3.2 0 1 0 6.4 0a3.2 3.2 0 1 0 -6.4 0zM1013.87 658.4a3.2 3.2 0 1 0 6.4 0a3.2 3.2 0 1 0 -6.4 0zM1026.25 658.4a3.2 3.2 0 1 0 6.4 0a3.2 3.2 0 1 0 -6.4 0zM1038.62 658.4a3.2 3.2 0 1 0 6.4 0a3.2 3.2 0 1 0 -6.4 0zM1051 658.4a3.2 3.2 0 1 0 6.4 0a3.2 3.2 0 1 0 -6.4 0zM1063.38 658.4a3.2 3.2 0 1 0 6.4 0a3.2 3.2 0 1 0 -6.4 0zM1075.76 658.4a3.2 3.2 0 1 0 6.4 0a3.2 3.2 0 1 0 -6.4 0zM1088.14 658.4a3.2 3.2 0 1 0 6.4 0a3.2 3.2 0 1 0 -6.4 0zM1100.52 658.4a3.2 3.2 0 1 0 6.4 0a3.2 3.2 0 1 0 -6.4 0zM1112.9 658.4a3.2 3.2 0 1 0 6.4 0a3.2 3.2 0 1 0 -6.4 0zM345.4 670.77a3.2 3.2 0 1 0 6.4 0a3.2 3.2 0 1 0 -6.4 0zM357.78 670.77a3.2 3.2 0 1 0 6.4 0a3.2 3.2 0 1 0 -6.4 0zM370.16 670.77a3.2 3.2 0 1 0 6.4 0a3.2 3.2 0 1 0 -6.4 0zM382.54 670.77a3.2 3.2 0 1 0 6.4 0a3.2 3.2 0 1 0 -6.4 0zM394.92 670.77a3.2 3.2 0 1 0 6.4 0a3.2 3.2 0 1 0 -6.4 0zM407.29 670.77a3.2 3.2 0 1 0 6.4 0a3.2 3.2 0 1 0 -6.4 0zM419.67 670.77a3.2 3.2 0 1 0 6.4 0a3.2 3.2 0 1 0 -6.4 0zM432.05 670.77a3.2 3.2 0 1 0 6.4 0a3.2 3.2 0 1 0 -6.4 0zM444.43 670.77a3.2 3.2 0 1 0 6.4 0a3.2 3.2 0 1 0 -6.4 0zM456.81 670.77a3.2 3.2 0 1 0 6.4 0a3.2 3.2 0 1 0 -6.4 0zM469.19 670.77a3.2 3.2 0 1 0 6.4 0a3.2 3.2 0 1 0 -6.4 0zM481.57 670.77a3.2 3.2 0 1 0 6.4 0a3.2 3.2 0 1 0 -6.4 0zM493.95 670.77a3.2 3.2 0 1 0 6.4 0a3.2 3.2 0 1 0 -6.4 0zM506.33 670.77a3.2 3.2 0 1 0 6.4 0a3.2 3.2 0 1 0 -6.4 0zM518.71 670.77a3.2 3.2 0 1 0 6.4 0a3.2 3.2 0 1 0 -6.4 0zM531.08 670.77a3.2 3.2 0 1 0 6.4 0a3.2 3.2 0 1 0 -6.4 0zM543.46 670.77a3.2 3.2 0 1 0 6.4 0a3.2 3.2 0 1 0 -6.4 0zM555.84 670.77a3.2 3.2 0 1 0 6.4 0a3.2 3.2 0 1 0 -6.4 0zM568.22 670.77a3.2 3.2 0 1 0 6.4 0a3.2 3.2 0 1 0 -6.4 0zM580.6 670.77a3.2 3.2 0 1 0 6.4 0a3.2 3.2 0 1 0 -6.4 0zM592.98 670.77a3.2 3.2 0 1 0 6.4 0a3.2 3.2 0 1 0 -6.4 0zM605.36 670.77a3.2 3.2 0 1 0 6.4 0a3.2 3.2 0 1 0 -6.4 0zM617.74 670.77a3.2 3.2 0 1 0 6.4 0a3.2 3.2 0 1 0 -6.4 0zM630.12 670.77a3.2 3.2 0 1 0 6.4 0a3.2 3.2 0 1 0 -6.4 0zM642.5 670.77a3.2 3.2 0 1 0 6.4 0a3.2 3.2 0 1 0 -6.4 0zM654.87 670.77a3.2 3.2 0 1 0 6.4 0a3.2 3.2 0 1 0 -6.4 0zM667.25 670.77a3.2 3.2 0 1 0 6.4 0a3.2 3.2 0 1 0 -6.4 0zM679.63 670.77a3.2 3.2 0 1 0 6.4 0a3.2 3.2 0 1 0 -6.4 0zM692.01 670.77a3.2 3.2 0 1 0 6.4 0a3.2 3.2 0 1 0 -6.4 0zM704.39 670.77a3.2 3.2 0 1 0 6.4 0a3.2 3.2 0 1 0 -6.4 0zM716.77 670.77a3.2 3.2 0 1 0 6.4 0a3.2 3.2 0 1 0 -6.4 0zM729.15 670.77a3.2 3.2 0 1 0 6.4 0a3.2 3.2 0 1 0 -6.4 0zM741.53 670.77a3.2 3.2 0 1 0 6.4 0a3.2 3.2 0 1 0 -6.4 0zM753.91 670.77a3.2 3.2 0 1 0 6.4 0a3.2 3.2 0 1 0 -6.4 0zM766.29 670.77a3.2 3.2 0 1 0 6.4 0a3.2 3.2 0 1 0 -6.4 0zM778.66 670.77a3.2 3.2 0 1 0 6.4 0a3.2 3.2 0 1 0 -6.4 0zM791.04 670.77a3.2 3.2 0 1 0 6.4 0a3.2 3.2 0 1 0 -6.4 0zM803.42 670.77a3.2 3.2 0 1 0 6.4 0a3.2 3.2 0 1 0 -6.4 0zM815.8 670.77a3.2 3.2 0 1 0 6.4 0a3.2 3.2 0 1 0 -6.4 0zM828.18 670.77a3.2 3.2 0 1 0 6.4 0a3.2 3.2 0 1 0 -6.4 0zM840.56 670.77a3.2 3.2 0 1 0 6.4 0a3.2 3.2 0 1 0 -6.4 0zM852.94 670.77a3.2 3.2 0 1 0 6.4 0a3.2 3.2 0 1 0 -6.4 0zM865.32 670.77a3.2 3.2 0 1 0 6.4 0a3.2 3.2 0 1 0 -6.4 0zM877.7 670.77a3.2 3.2 0 1 0 6.4 0a3.2 3.2 0 1 0 -6.4 0zM890.08 670.77a3.2 3.2 0 1 0 6.4 0a3.2 3.2 0 1 0 -6.4 0zM902.45 670.77a3.2 3.2 0 1 0 6.4 0a3.2 3.2 0 1 0 -6.4 0zM914.83 670.77a3.2 3.2 0 1 0 6.4 0a3.2 3.2 0 1 0 -6.4 0zM927.21 670.77a3.2 3.2 0 1 0 6.4 0a3.2 3.2 0 1 0 -6.4 0zM939.59 670.77a3.2 3.2 0 1 0 6.4 0a3.2 3.2 0 1 0 -6.4 0zM951.97 670.77a3.2 3.2 0 1 0 6.4 0a3.2 3.2 0 1 0 -6.4 0zM964.35 670.77a3.2 3.2 0 1 0 6.4 0a3.2 3.2 0 1 0 -6.4 0zM976.73 670.77a3.2 3.2 0 1 0 6.4 0a3.2 3.2 0 1 0 -6.4 0zM989.11 670.77a3.2 3.2 0 1 0 6.4 0a3.2 3.2 0 1 0 -6.4 0zM1001.49 670.77a3.2 3.2 0 1 0 6.4 0a3.2 3.2 0 1 0 -6.4 0zM1013.87 670.77a3.2 3.2 0 1 0 6.4 0a3.2 3.2 0 1 0 -6.4 0zM1026.25 670.77a3.2 3.2 0 1 0 6.4 0a3.2 3.2 0 1 0 -6.4 0zM1038.62 670.77a3.2 3.2 0 1 0 6.4 0a3.2 3.2 0 1 0 -6.4 0zM1051 670.77a3.2 3.2 0 1 0 6.4 0a3.2 3.2 0 1 0 -6.4 0zM1063.38 670.77a3.2 3.2 0 1 0 6.4 0a3.2 3.2 0 1 0 -6.4 0zM1075.76 670.77a3.2 3.2 0 1 0 6.4 0a3.2 3.2 0 1 0 -6.4 0zM1088.14 670.77a3.2 3.2 0 1 0 6.4 0a3.2 3.2 0 1 0 -6.4 0zM1100.52 670.77a3.2 3.2 0 1 0 6.4 0a3.2 3.2 0 1 0 -6.4 0zM1112.9 670.77a3.2 3.2 0 1 0 6.4 0a3.2 3.2 0 1 0 -6.4 0zM345.4 683.14a3.2 3.2 0 1 0 6.4 0a3.2 3.2 0 1 0 -6.4 0zM357.78 683.14a3.2 3.2 0 1 0 6.4 0a3.2 3.2 0 1 0 -6.4 0zM370.16 683.14a3.2 3.2 0 1 0 6.4 0a3.2 3.2 0 1 0 -6.4 0zM382.54 683.14a3.2 3.2 0 1 0 6.4 0a3.2 3.2 0 1 0 -6.4 0zM394.92 683.14a3.2 3.2 0 1 0 6.4 0a3.2 3.2 0 1 0 -6.4 0zM407.29 683.14a3.2 3.2 0 1 0 6.4 0a3.2 3.2 0 1 0 -6.4 0zM419.67 683.14a3.2 3.2 0 1 0 6.4 0a3.2 3.2 0 1 0 -6.4 0zM432.05 683.14a3.2 3.2 0 1 0 6.4 0a3.2 3.2 0 1 0 -6.4 0zM444.43 683.14a3.2 3.2 0 1 0 6.4 0a3.2 3.2 0 1 0 -6.4 0zM456.81 683.14a3.2 3.2 0 1 0 6.4 0a3.2 3.2 0 1 0 -6.4 0zM469.19 683.14a3.2 3.2 0 1 0 6.4 0a3.2 3.2 0 1 0 -6.4 0zM481.57 683.14a3.2 3.2 0 1 0 6.4 0a3.2 3.2 0 1 0 -6.4 0zM493.95 683.14a3.2 3.2 0 1 0 6.4 0a3.2 3.2 0 1 0 -6.4 0zM506.33 683.14a3.2 3.2 0 1 0 6.4 0a3.2 3.2 0 1 0 -6.4 0zM518.71 683.14a3.2 3.2 0 1 0 6.4 0a3.2 3.2 0 1 0 -6.4 0zM531.08 683.14a3.2 3.2 0 1 0 6.4 0a3.2 3.2 0 1 0 -6.4 0zM543.46 683.14a3.2 3.2 0 1 0 6.4 0a3.2 3.2 0 1 0 -6.4 0zM555.84 683.14a3.2 3.2 0 1 0 6.4 0a3.2 3.2 0 1 0 -6.4 0zM568.22 683.14a3.2 3.2 0 1 0 6.4 0a3.2 3.2 0 1 0 -6.4 0zM580.6 683.14a3.2 3.2 0 1 0 6.4 0a3.2 3.2 0 1 0 -6.4 0zM592.98 683.14a3.2 3.2 0 1 0 6.4 0a3.2 3.2 0 1 0 -6.4 0zM605.36 683.14a3.2 3.2 0 1 0 6.4 0a3.2 3.2 0 1 0 -6.4 0zM617.74 683.14a3.2 3.2 0 1 0 6.4 0a3.2 3.2 0 1 0 -6.4 0zM630.12 683.14a3.2 3.2 0 1 0 6.4 0a3.2 3.2 0 1 0 -6.4 0zM642.5 683.14a3.2 3.2 0 1 0 6.4 0a3.2 3.2 0 1 0 -6.4 0zM654.87 683.14a3.2 3.2 0 1 0 6.4 0a3.2 3.2 0 1 0 -6.4 0zM667.25 683.14a3.2 3.2 0 1 0 6.4 0a3.2 3.2 0 1 0 -6.4 0zM679.63 683.14a3.2 3.2 0 1 0 6.4 0a3.2 3.2 0 1 0 -6.4 0zM692.01 683.14a3.2 3.2 0 1 0 6.4 0a3.2 3.2 0 1 0 -6.4 0zM704.39 683.14a3.2 3.2 0 1 0 6.4 0a3.2 3.2 0 1 0 -6.4 0zM716.77 683.14a3.2 3.2 0 1 0 6.4 0a3.2 3.2 0 1 0 -6.4 0zM729.15 683.14a3.2 3.2 0 1 0 6.4 0a3.2 3.2 0 1 0 -6.4 0zM741.53 683.14a3.2 3.2 0 1 0 6.4 0a3.2 3.2 0 1 0 -6.4 0zM753.91 683.14a3.2 3.2 0 1 0 6.4 0a3.2 3.2 0 1 0 -6.4 0zM766.29 683.14a3.2 3.2 0 1 0 6.4 0a3.2 3.2 0 1 0 -6.4 0zM778.66 683.14a3.2 3.2 0 1 0 6.4 0a3.2 3.2 0 1 0 -6.4 0zM791.04 683.14a3.2 3.2 0 1 0 6.4 0a3.2 3.2 0 1 0 -6.4 0zM803.42 683.14a3.2 3.2 0 1 0 6.4 0a3.2 3.2 0 1 0 -6.4 0zM815.8 683.14a3.2 3.2 0 1 0 6.4 0a3.2 3.2 0 1 0 -6.4 0zM828.18 683.14a3.2 3.2 0 1 0 6.4 0a3.2 3.2 0 1 0 -6.4 0zM840.56 683.14a3.2 3.2 0 1 0 6.4 0a3.2 3.2 0 1 0 -6.4 0zM852.94 683.14a3.2 3.2 0 1 0 6.4 0a3.2 3.2 0 1 0 -6.4 0zM865.32 683.14a3.2 3.2 0 1 0 6.4 0a3.2 3.2 0 1 0 -6.4 0zM877.7 683.14a3.2 3.2 0 1 0 6.4 0a3.2 3.2 0 1 0 -6.4 0zM890.08 683.14a3.2 3.2 0 1 0 6.4 0a3.2 3.2 0 1 0 -6.4 0zM902.45 683.14a3.2 3.2 0 1 0 6.4 0a3.2 3.2 0 1 0 -6.4 0zM914.83 683.14a3.2 3.2 0 1 0 6.4 0a3.2 3.2 0 1 0 -6.4 0zM927.21 683.14a3.2 3.2 0 1 0 6.4 0a3.2 3.2 0 1 0 -6.4 0zM939.59 683.14a3.2 3.2 0 1 0 6.4 0a3.2 3.2 0 1 0 -6.4 0zM951.97 683.14a3.2 3.2 0 1 0 6.4 0a3.2 3.2 0 1 0 -6.4 0zM964.35 683.14a3.2 3.2 0 1 0 6.4 0a3.2 3.2 0 1 0 -6.4 0zM976.73 683.14a3.2 3.2 0 1 0 6.4 0a3.2 3.2 0 1 0 -6.4 0zM989.11 683.14a3.2 3.2 0 1 0 6.4 0a3.2 3.2 0 1 0 -6.4 0zM1001.49 683.14a3.2 3.2 0 1 0 6.4 0a3.2 3.2 0 1 0 -6.4 0zM1013.87 683.14a3.2 3.2 0 1 0 6.4 0a3.2 3.2 0 1 0 -6.4 0zM1026.25 683.14a3.2 3.2 0 1 0 6.4 0a3.2 3.2 0 1 0 -6.4 0zM1038.62 683.14a3.2 3.2 0 1 0 6.4 0a3.2 3.2 0 1 0 -6.4 0zM1051 683.14a3.2 3.2 0 1 0 6.4 0a3.2 3.2 0 1 0 -6.4 0zM1063.38 683.14a3.2 3.2 0 1 0 6.4 0a3.2 3.2 0 1 0 -6.4 0zM1075.76 683.14a3.2 3.2 0 1 0 6.4 0a3.2 3.2 0 1 0 -6.4 0zM1088.14 683.14a3.2 3.2 0 1 0 6.4 0a3.2 3.2 0 1 0 -6.4 0zM1100.52 683.14a3.2 3.2 0 1 0 6.4 0a3.2 3.2 0 1 0 -6.4 0zM1112.9 683.14a3.2 3.2 0 1 0 6.4 0a3.2 3.2 0 1 0 -6.4 0zM345.4 695.51a3.2 3.2 0 1 0 6.4 0a3.2 3.2 0 1 0 -6.4 0zM357.78 695.51a3.2 3.2 0 1 0 6.4 0a3.2 3.2 0 1 0 -6.4 0zM370.16 695.51a3.2 3.2 0 1 0 6.4 0a3.2 3.2 0 1 0 -6.4 0zM382.54 695.51a3.2 3.2 0 1 0 6.4 0a3.2 3.2 0 1 0 -6.4 0zM394.92 695.51a3.2 3.2 0 1 0 6.4 0a3.2 3.2 0 1 0 -6.4 0zM407.29 695.51a3.2 3.2 0 1 0 6.4 0a3.2 3.2 0 1 0 -6.4 0zM419.67 695.51a3.2 3.2 0 1 0 6.4 0a3.2 3.2 0 1 0 -6.4 0zM432.05 695.51a3.2 3.2 0 1 0 6.4 0a3.2 3.2 0 1 0 -6.4 0zM444.43 695.51a3.2 3.2 0 1 0 6.4 0a3.2 3.2 0 1 0 -6.4 0zM456.81 695.51a3.2 3.2 0 1 0 6.4 0a3.2 3.2 0 1 0 -6.4 0zM469.19 695.51a3.2 3.2 0 1 0 6.4 0a3.2 3.2 0 1 0 -6.4 0zM481.57 695.51a3.2 3.2 0 1 0 6.4 0a3.2 3.2 0 1 0 -6.4 0zM493.95 695.51a3.2 3.2 0 1 0 6.4 0a3.2 3.2 0 1 0 -6.4 0zM506.33 695.51a3.2 3.2 0 1 0 6.4 0a3.2 3.2 0 1 0 -6.4 0zM518.71 695.51a3.2 3.2 0 1 0 6.4 0a3.2 3.2 0 1 0 -6.4 0zM531.08 695.51a3.2 3.2 0 1 0 6.4 0a3.2 3.2 0 1 0 -6.4 0zM543.46 695.51a3.2 3.2 0 1 0 6.4 0a3.2 3.2 0 1 0 -6.4 0zM555.84 695.51a3.2 3.2 0 1 0 6.4 0a3.2 3.2 0 1 0 -6.4 0zM568.22 695.51a3.2 3.2 0 1 0 6.4 0a3.2 3.2 0 1 0 -6.4 0zM580.6 695.51a3.2 3.2 0 1 0 6.4 0a3.2 3.2 0 1 0 -6.4 0zM592.98 695.51a3.2 3.2 0 1 0 6.4 0a3.2 3.2 0 1 0 -6.4 0zM605.36 695.51a3.2 3.2 0 1 0 6.4 0a3.2 3.2 0 1 0 -6.4 0zM617.74 695.51a3.2 3.2 0 1 0 6.4 0a3.2 3.2 0 1 0 -6.4 0zM630.12 695.51a3.2 3.2 0 1 0 6.4 0a3.2 3.2 0 1 0 -6.4 0zM642.5 695.51a3.2 3.2 0 1 0 6.4 0a3.2 3.2 0 1 0 -6.4 0zM654.87 695.51a3.2 3.2 0 1 0 6.4 0a3.2 3.2 0 1 0 -6.4 0zM667.25 695.51a3.2 3.2 0 1 0 6.4 0a3.2 3.2 0 1 0 -6.4 0zM679.63 695.51a3.2 3.2 0 1 0 6.4 0a3.2 3.2 0 1 0 -6.4 0zM692.01 695.51a3.2 3.2 0 1 0 6.4 0a3.2 3.2 0 1 0 -6.4 0zM704.39 695.51a3.2 3.2 0 1 0 6.4 0a3.2 3.2 0 1 0 -6.4 0zM716.77 695.51a3.2 3.2 0 1 0 6.4 0a3.2 3.2 0 1 0 -6.4 0zM729.15 695.51a3.2 3.2 0 1 0 6.4 0a3.2 3.2 0 1 0 -6.4 0zM741.53 695.51a3.2 3.2 0 1 0 6.4 0a3.2 3.2 0 1 0 -6.4 0zM753.91 695.51a3.2 3.2 0 1 0 6.4 0a3.2 3.2 0 1 0 -6.4 0zM766.29 695.51a3.2 3.2 0 1 0 6.4 0a3.2 3.2 0 1 0 -6.4 0zM778.66 695.51a3.2 3.2 0 1 0 6.4 0a3.2 3.2 0 1 0 -6.4 0zM791.04 695.51a3.2 3.2 0 1 0 6.4 0a3.2 3.2 0 1 0 -6.4 0zM803.42 695.51a3.2 3.2 0 1 0 6.4 0a3.2 3.2 0 1 0 -6.4 0zM815.8 695.51a3.2 3.2 0 1 0 6.4 0a3.2 3.2 0 1 0 -6.4 0zM828.18 695.51a3.2 3.2 0 1 0 6.4 0a3.2 3.2 0 1 0 -6.4 0zM840.56 695.51a3.2 3.2 0 1 0 6.4 0a3.2 3.2 0 1 0 -6.4 0zM852.94 695.51a3.2 3.2 0 1 0 6.4 0a3.2 3.2 0 1 0 -6.4 0zM865.32 695.51a3.2 3.2 0 1 0 6.4 0a3.2 3.2 0 1 0 -6.4 0zM877.7 695.51a3.2 3.2 0 1 0 6.4 0a3.2 3.2 0 1 0 -6.4 0zM890.08 695.51a3.2 3.2 0 1 0 6.4 0a3.2 3.2 0 1 0 -6.4 0zM902.45 695.51a3.2 3.2 0 1 0 6.4 0a3.2 3.2 0 1 0 -6.4 0zM914.83 695.51a3.2 3.2 0 1 0 6.4 0a3.2 3.2 0 1 0 -6.4 0zM927.21 695.51a3.2 3.2 0 1 0 6.4 0a3.2 3.2 0 1 0 -6.4 0zM939.59 695.51a3.2 3.2 0 1 0 6.4 0a3.2 3.2 0 1 0 -6.4 0zM951.97 695.51a3.2 3.2 0 1 0 6.4 0a3.2 3.2 0 1 0 -6.4 0zM964.35 695.51a3.2 3.2 0 1 0 6.4 0a3.2 3.2 0 1 0 -6.4 0zM976.73 695.51a3.2 3.2 0 1 0 6.4 0a3.2 3.2 0 1 0 -6.4 0zM989.11 695.51a3.2 3.2 0 1 0 6.4 0a3.2 3.2 0 1 0 -6.4 0zM1001.49 695.51a3.2 3.2 0 1 0 6.4 0a3.2 3.2 0 1 0 -6.4 0zM1013.87 695.51a3.2 3.2 0 1 0 6.4 0a3.2 3.2 0 1 0 -6.4 0zM1026.25 695.51a3.2 3.2 0 1 0 6.4 0a3.2 3.2 0 1 0 -6.4 0zM1038.62 695.51a3.2 3.2 0 1 0 6.4 0a3.2 3.2 0 1 0 -6.4 0zM1051 695.51a3.2 3.2 0 1 0 6.4 0a3.2 3.2 0 1 0 -6.4 0zM1063.38 695.51a3.2 3.2 0 1 0 6.4 0a3.2 3.2 0 1 0 -6.4 0zM1075.76 695.51a3.2 3.2 0 1 0 6.4 0a3.2 3.2 0 1 0 -6.4 0zM1088.14 695.51a3.2 3.2 0 1 0 6.4 0a3.2 3.2 0 1 0 -6.4 0zM1100.52 695.51a3.2 3.2 0 1 0 6.4 0a3.2 3.2 0 1 0 -6.4 0zM1112.9 695.51a3.2 3.2 0 1 0 6.4 0a3.2 3.2 0 1 0 -6.4 0zM345.4 707.88a3.2 3.2 0 1 0 6.4 0a3.2 3.2 0 1 0 -6.4 0zM357.78 707.88a3.2 3.2 0 1 0 6.4 0a3.2 3.2 0 1 0 -6.4 0zM370.16 707.88a3.2 3.2 0 1 0 6.4 0a3.2 3.2 0 1 0 -6.4 0zM382.54 707.88a3.2 3.2 0 1 0 6.4 0a3.2 3.2 0 1 0 -6.4 0zM394.92 707.88a3.2 3.2 0 1 0 6.4 0a3.2 3.2 0 1 0 -6.4 0zM407.29 707.88a3.2 3.2 0 1 0 6.4 0a3.2 3.2 0 1 0 -6.4 0zM419.67 707.88a3.2 3.2 0 1 0 6.4 0a3.2 3.2 0 1 0 -6.4 0zM432.05 707.88a3.2 3.2 0 1 0 6.4 0a3.2 3.2 0 1 0 -6.4 0zM444.43 707.88a3.2 3.2 0 1 0 6.4 0a3.2 3.2 0 1 0 -6.4 0zM456.81 707.88a3.2 3.2 0 1 0 6.4 0a3.2 3.2 0 1 0 -6.4 0zM469.19 707.88a3.2 3.2 0 1 0 6.4 0a3.2 3.2 0 1 0 -6.4 0zM481.57 707.88a3.2 3.2 0 1 0 6.4 0a3.2 3.2 0 1 0 -6.4 0zM493.95 707.88a3.2 3.2 0 1 0 6.4 0a3.2 3.2 0 1 0 -6.4 0zM506.33 707.88a3.2 3.2 0 1 0 6.4 0a3.2 3.2 0 1 0 -6.4 0zM518.71 707.88a3.2 3.2 0 1 0 6.4 0a3.2 3.2 0 1 0 -6.4 0zM531.08 707.88a3.2 3.2 0 1 0 6.4 0a3.2 3.2 0 1 0 -6.4 0zM543.46 707.88a3.2 3.2 0 1 0 6.4 0a3.2 3.2 0 1 0 -6.4 0zM555.84 707.88a3.2 3.2 0 1 0 6.4 0a3.2 3.2 0 1 0 -6.4 0zM568.22 707.88a3.2 3.2 0 1 0 6.4 0a3.2 3.2 0 1 0 -6.4 0zM580.6 707.88a3.2 3.2 0 1 0 6.4 0a3.2 3.2 0 1 0 -6.4 0zM592.98 707.88a3.2 3.2 0 1 0 6.4 0a3.2 3.2 0 1 0 -6.4 0zM605.36 707.88a3.2 3.2 0 1 0 6.4 0a3.2 3.2 0 1 0 -6.4 0zM617.74 707.88a3.2 3.2 0 1 0 6.4 0a3.2 3.2 0 1 0 -6.4 0zM630.12 707.88a3.2 3.2 0 1 0 6.4 0a3.2 3.2 0 1 0 -6.4 0zM642.5 707.88a3.2 3.2 0 1 0 6.4 0a3.2 3.2 0 1 0 -6.4 0zM654.87 707.88a3.2 3.2 0 1 0 6.4 0a3.2 3.2 0 1 0 -6.4 0zM667.25 707.88a3.2 3.2 0 1 0 6.4 0a3.2 3.2 0 1 0 -6.4 0zM679.63 707.88a3.2 3.2 0 1 0 6.4 0a3.2 3.2 0 1 0 -6.4 0zM692.01 707.88a3.2 3.2 0 1 0 6.4 0a3.2 3.2 0 1 0 -6.4 0zM704.39 707.88a3.2 3.2 0 1 0 6.4 0a3.2 3.2 0 1 0 -6.4 0zM716.77 707.88a3.2 3.2 0 1 0 6.4 0a3.2 3.2 0 1 0 -6.4 0zM729.15 707.88a3.2 3.2 0 1 0 6.4 0a3.2 3.2 0 1 0 -6.4 0zM741.53 707.88a3.2 3.2 0 1 0 6.4 0a3.2 3.2 0 1 0 -6.4 0zM753.91 707.88a3.2 3.2 0 1 0 6.4 0a3.2 3.2 0 1 0 -6.4 0zM766.29 707.88a3.2 3.2 0 1 0 6.4 0a3.2 3.2 0 1 0 -6.4 0zM778.66 707.88a3.2 3.2 0 1 0 6.4 0a3.2 3.2 0 1 0 -6.4 0zM791.04 707.88a3.2 3.2 0 1 0 6.4 0a3.2 3.2 0 1 0 -6.4 0zM803.42 707.88a3.2 3.2 0 1 0 6.4 0a3.2 3.2 0 1 0 -6.4 0zM815.8 707.88a3.2 3.2 0 1 0 6.4 0a3.2 3.2 0 1 0 -6.4 0zM828.18 707.88a3.2 3.2 0 1 0 6.4 0a3.2 3.2 0 1 0 -6.4 0zM840.56 707.88a3.2 3.2 0 1 0 6.4 0a3.2 3.2 0 1 0 -6.4 0zM852.94 707.88a3.2 3.2 0 1 0 6.4 0a3.2 3.2 0 1 0 -6.4 0zM865.32 707.88a3.2 3.2 0 1 0 6.4 0a3.2 3.2 0 1 0 -6.4 0zM877.7 707.88a3.2 3.2 0 1 0 6.4 0a3.2 3.2 0 1 0 -6.4 0zM890.08 707.88a3.2 3.2 0 1 0 6.4 0a3.2 3.2 0 1 0 -6.4 0zM902.45 707.88a3.2 3.2 0 1 0 6.4 0a3.2 3.2 0 1 0 -6.4 0zM914.83 707.88a3.2 3.2 0 1 0 6.4 0a3.2 3.2 0 1 0 -6.4 0zM927.21 707.88a3.2 3.2 0 1 0 6.4 0a3.2 3.2 0 1 0 -6.4 0zM939.59 707.88a3.2 3.2 0 1 0 6.4 0a3.2 3.2 0 1 0 -6.4 0zM951.97 707.88a3.2 3.2 0 1 0 6.4 0a3.2 3.2 0 1 0 -6.4 0zM964.35 707.88a3.2 3.2 0 1 0 6.4 0a3.2 3.2 0 1 0 -6.4 0zM976.73 707.88a3.2 3.2 0 1 0 6.4 0a3.2 3.2 0 1 0 -6.4 0zM989.11 707.88a3.2 3.2 0 1 0 6.4 0a3.2 3.2 0 1 0 -6.4 0zM1001.49 707.88a3.2 3.2 0 1 0 6.4 0a3.2 3.2 0 1 0 -6.4 0zM1013.87 707.88a3.2 3.2 0 1 0 6.4 0a3.2 3.2 0 1 0 -6.4 0zM1026.25 707.88a3.2 3.2 0 1 0 6.4 0a3.2 3.2 0 1 0 -6.4 0zM1038.62 707.88a3.2 3.2 0 1 0 6.4 0a3.2 3.2 0 1 0 -6.4 0zM1051 707.88a3.2 3.2 0 1 0 6.4 0a3.2 3.2 0 1 0 -6.4 0zM1063.38 707.88a3.2 3.2 0 1 0 6.4 0a3.2 3.2 0 1 0 -6.4 0zM1075.76 707.88a3.2 3.2 0 1 0 6.4 0a3.2 3.2 0 1 0 -6.4 0zM1088.14 707.88a3.2 3.2 0 1 0 6.4 0a3.2 3.2 0 1 0 -6.4 0zM1100.52 707.88a3.2 3.2 0 1 0 6.4 0a3.2 3.2 0 1 0 -6.4 0zM1112.9 707.88a3.2 3.2 0 1 0 6.4 0a3.2 3.2 0 1 0 -6.4 0zM370.16 745.1a3.2 3.2 0 1 0 6.4 0a3.2 3.2 0 1 0 -6.4 0zM382.54 745.1a3.2 3.2 0 1 0 6.4 0a3.2 3.2 0 1 0 -6.4 0zM394.92 745.1a3.2 3.2 0 1 0 6.4 0a3.2 3.2 0 1 0 -6.4 0zM407.29 745.1a3.2 3.2 0 1 0 6.4 0a3.2 3.2 0 1 0 -6.4 0zM419.67 745.1a3.2 3.2 0 1 0 6.4 0a3.2 3.2 0 1 0 -6.4 0zM444.43 745.1a3.2 3.2 0 1 0 6.4 0a3.2 3.2 0 1 0 -6.4 0zM456.81 745.1a3.2 3.2 0 1 0 6.4 0a3.2 3.2 0 1 0 -6.4 0zM469.19 745.1a3.2 3.2 0 1 0 6.4 0a3.2 3.2 0 1 0 -6.4 0zM481.57 745.1a3.2 3.2 0 1 0 6.4 0a3.2 3.2 0 1 0 -6.4 0zM493.95 745.1a3.2 3.2 0 1 0 6.4 0a3.2 3.2 0 1 0 -6.4 0zM518.71 745.1a3.2 3.2 0 1 0 6.4 0a3.2 3.2 0 1 0 -6.4 0zM531.08 745.1a3.2 3.2 0 1 0 6.4 0a3.2 3.2 0 1 0 -6.4 0zM543.46 745.1a3.2 3.2 0 1 0 6.4 0a3.2 3.2 0 1 0 -6.4 0zM555.84 745.1a3.2 3.2 0 1 0 6.4 0a3.2 3.2 0 1 0 -6.4 0zM568.22 745.1a3.2 3.2 0 1 0 6.4 0a3.2 3.2 0 1 0 -6.4 0zM592.98 745.1a3.2 3.2 0 1 0 6.4 0a3.2 3.2 0 1 0 -6.4 0zM605.36 745.1a3.2 3.2 0 1 0 6.4 0a3.2 3.2 0 1 0 -6.4 0zM617.74 745.1a3.2 3.2 0 1 0 6.4 0a3.2 3.2 0 1 0 -6.4 0zM630.12 745.1a3.2 3.2 0 1 0 6.4 0a3.2 3.2 0 1 0 -6.4 0zM642.5 745.1a3.2 3.2 0 1 0 6.4 0a3.2 3.2 0 1 0 -6.4 0zM667.25 745.1a3.2 3.2 0 1 0 6.4 0a3.2 3.2 0 1 0 -6.4 0zM679.63 745.1a3.2 3.2 0 1 0 6.4 0a3.2 3.2 0 1 0 -6.4 0zM692.01 745.1a3.2 3.2 0 1 0 6.4 0a3.2 3.2 0 1 0 -6.4 0zM704.39 745.1a3.2 3.2 0 1 0 6.4 0a3.2 3.2 0 1 0 -6.4 0zM716.77 745.1a3.2 3.2 0 1 0 6.4 0a3.2 3.2 0 1 0 -6.4 0zM741.53 745.1a3.2 3.2 0 1 0 6.4 0a3.2 3.2 0 1 0 -6.4 0zM753.91 745.1a3.2 3.2 0 1 0 6.4 0a3.2 3.2 0 1 0 -6.4 0zM766.29 745.1a3.2 3.2 0 1 0 6.4 0a3.2 3.2 0 1 0 -6.4 0zM778.66 745.1a3.2 3.2 0 1 0 6.4 0a3.2 3.2 0 1 0 -6.4 0zM791.04 745.1a3.2 3.2 0 1 0 6.4 0a3.2 3.2 0 1 0 -6.4 0zM815.8 745.1a3.2 3.2 0 1 0 6.4 0a3.2 3.2 0 1 0 -6.4 0zM828.18 745.1a3.2 3.2 0 1 0 6.4 0a3.2 3.2 0 1 0 -6.4 0zM840.56 745.1a3.2 3.2 0 1 0 6.4 0a3.2 3.2 0 1 0 -6.4 0zM852.94 745.1a3.2 3.2 0 1 0 6.4 0a3.2 3.2 0 1 0 -6.4 0zM865.32 745.1a3.2 3.2 0 1 0 6.4 0a3.2 3.2 0 1 0 -6.4 0zM890.08 745.1a3.2 3.2 0 1 0 6.4 0a3.2 3.2 0 1 0 -6.4 0zM902.45 745.1a3.2 3.2 0 1 0 6.4 0a3.2 3.2 0 1 0 -6.4 0zM914.83 745.1a3.2 3.2 0 1 0 6.4 0a3.2 3.2 0 1 0 -6.4 0zM927.21 745.1a3.2 3.2 0 1 0 6.4 0a3.2 3.2 0 1 0 -6.4 0zM939.59 745.1a3.2 3.2 0 1 0 6.4 0a3.2 3.2 0 1 0 -6.4 0zM964.35 745.1a3.2 3.2 0 1 0 6.4 0a3.2 3.2 0 1 0 -6.4 0zM976.73 745.1a3.2 3.2 0 1 0 6.4 0a3.2 3.2 0 1 0 -6.4 0zM989.11 745.1a3.2 3.2 0 1 0 6.4 0a3.2 3.2 0 1 0 -6.4 0zM1001.49 745.1a3.2 3.2 0 1 0 6.4 0a3.2 3.2 0 1 0 -6.4 0zM1013.87 745.1a3.2 3.2 0 1 0 6.4 0a3.2 3.2 0 1 0 -6.4 0zM1038.62 745.1a3.2 3.2 0 1 0 6.4 0a3.2 3.2 0 1 0 -6.4 0zM1051 745.1a3.2 3.2 0 1 0 6.4 0a3.2 3.2 0 1 0 -6.4 0zM1063.38 745.1a3.2 3.2 0 1 0 6.4 0a3.2 3.2 0 1 0 -6.4 0zM1075.76 745.1a3.2 3.2 0 1 0 6.4 0a3.2 3.2 0 1 0 -6.4 0zM1088.14 745.1a3.2 3.2 0 1 0 6.4 0a3.2 3.2 0 1 0 -6.4 0zM370.16 757.4a3.2 3.2 0 1 0 6.4 0a3.2 3.2 0 1 0 -6.4 0zM382.54 757.4a3.2 3.2 0 1 0 6.4 0a3.2 3.2 0 1 0 -6.4 0zM394.92 757.4a3.2 3.2 0 1 0 6.4 0a3.2 3.2 0 1 0 -6.4 0zM407.29 757.4a3.2 3.2 0 1 0 6.4 0a3.2 3.2 0 1 0 -6.4 0zM419.67 757.4a3.2 3.2 0 1 0 6.4 0a3.2 3.2 0 1 0 -6.4 0zM444.43 757.4a3.2 3.2 0 1 0 6.4 0a3.2 3.2 0 1 0 -6.4 0zM456.81 757.4a3.2 3.2 0 1 0 6.4 0a3.2 3.2 0 1 0 -6.4 0zM469.19 757.4a3.2 3.2 0 1 0 6.4 0a3.2 3.2 0 1 0 -6.4 0zM481.57 757.4a3.2 3.2 0 1 0 6.4 0a3.2 3.2 0 1 0 -6.4 0zM493.95 757.4a3.2 3.2 0 1 0 6.4 0a3.2 3.2 0 1 0 -6.4 0zM518.71 757.4a3.2 3.2 0 1 0 6.4 0a3.2 3.2 0 1 0 -6.4 0zM531.08 757.4a3.2 3.2 0 1 0 6.4 0a3.2 3.2 0 1 0 -6.4 0zM543.46 757.4a3.2 3.2 0 1 0 6.4 0a3.2 3.2 0 1 0 -6.4 0zM555.84 757.4a3.2 3.2 0 1 0 6.4 0a3.2 3.2 0 1 0 -6.4 0zM568.22 757.4a3.2 3.2 0 1 0 6.4 0a3.2 3.2 0 1 0 -6.4 0zM592.98 757.4a3.2 3.2 0 1 0 6.4 0a3.2 3.2 0 1 0 -6.4 0zM605.36 757.4a3.2 3.2 0 1 0 6.4 0a3.2 3.2 0 1 0 -6.4 0zM617.74 757.4a3.2 3.2 0 1 0 6.4 0a3.2 3.2 0 1 0 -6.4 0zM630.12 757.4a3.2 3.2 0 1 0 6.4 0a3.2 3.2 0 1 0 -6.4 0zM642.5 757.4a3.2 3.2 0 1 0 6.4 0a3.2 3.2 0 1 0 -6.4 0zM667.25 757.4a3.2 3.2 0 1 0 6.4 0a3.2 3.2 0 1 0 -6.4 0zM679.63 757.4a3.2 3.2 0 1 0 6.4 0a3.2 3.2 0 1 0 -6.4 0zM692.01 757.4a3.2 3.2 0 1 0 6.4 0a3.2 3.2 0 1 0 -6.4 0zM704.39 757.4a3.2 3.2 0 1 0 6.4 0a3.2 3.2 0 1 0 -6.4 0zM716.77 757.4a3.2 3.2 0 1 0 6.4 0a3.2 3.2 0 1 0 -6.4 0zM741.53 757.4a3.2 3.2 0 1 0 6.4 0a3.2 3.2 0 1 0 -6.4 0zM753.91 757.4a3.2 3.2 0 1 0 6.4 0a3.2 3.2 0 1 0 -6.4 0zM766.29 757.4a3.2 3.2 0 1 0 6.4 0a3.2 3.2 0 1 0 -6.4 0zM778.66 757.4a3.2 3.2 0 1 0 6.4 0a3.2 3.2 0 1 0 -6.4 0zM791.04 757.4a3.2 3.2 0 1 0 6.4 0a3.2 3.2 0 1 0 -6.4 0zM815.8 757.4a3.2 3.2 0 1 0 6.4 0a3.2 3.2 0 1 0 -6.4 0zM828.18 757.4a3.2 3.2 0 1 0 6.4 0a3.2 3.2 0 1 0 -6.4 0zM840.56 757.4a3.2 3.2 0 1 0 6.4 0a3.2 3.2 0 1 0 -6.4 0zM852.94 757.4a3.2 3.2 0 1 0 6.4 0a3.2 3.2 0 1 0 -6.4 0zM865.32 757.4a3.2 3.2 0 1 0 6.4 0a3.2 3.2 0 1 0 -6.4 0zM890.08 757.4a3.2 3.2 0 1 0 6.4 0a3.2 3.2 0 1 0 -6.4 0zM902.45 757.4a3.2 3.2 0 1 0 6.4 0a3.2 3.2 0 1 0 -6.4 0zM914.83 757.4a3.2 3.2 0 1 0 6.4 0a3.2 3.2 0 1 0 -6.4 0zM927.21 757.4a3.2 3.2 0 1 0 6.4 0a3.2 3.2 0 1 0 -6.4 0zM939.59 757.4a3.2 3.2 0 1 0 6.4 0a3.2 3.2 0 1 0 -6.4 0zM964.35 757.4a3.2 3.2 0 1 0 6.4 0a3.2 3.2 0 1 0 -6.4 0zM976.73 757.4a3.2 3.2 0 1 0 6.4 0a3.2 3.2 0 1 0 -6.4 0zM989.11 757.4a3.2 3.2 0 1 0 6.4 0a3.2 3.2 0 1 0 -6.4 0zM1001.49 757.4a3.2 3.2 0 1 0 6.4 0a3.2 3.2 0 1 0 -6.4 0zM1013.87 757.4a3.2 3.2 0 1 0 6.4 0a3.2 3.2 0 1 0 -6.4 0zM1038.62 757.4a3.2 3.2 0 1 0 6.4 0a3.2 3.2 0 1 0 -6.4 0zM1051 757.4a3.2 3.2 0 1 0 6.4 0a3.2 3.2 0 1 0 -6.4 0zM1063.38 757.4a3.2 3.2 0 1 0 6.4 0a3.2 3.2 0 1 0 -6.4 0zM1075.76 757.4a3.2 3.2 0 1 0 6.4 0a3.2 3.2 0 1 0 -6.4 0zM1088.14 757.4a3.2 3.2 0 1 0 6.4 0a3.2 3.2 0 1 0 -6.4 0z" fill="#efefef"/>
<path d="M345.9 571.2a2.3 2.3 0 1 0 4.6 0a2.3 2.3 0 1 0 -4.6 0zM358.28 571.2a2.3 2.3 0 1 0 4.6 0a2.3 2.3 0 1 0 -4.6 0zM370.66 571.2a2.3 2.3 0 1 0 4.6 0a2.3 2.3 0 1 0 -4.6 0zM383.04 571.2a2.3 2.3 0 1 0 4.6 0a2.3 2.3 0 1 0 -4.6 0zM395.42 571.2a2.3 2.3 0 1 0 4.6 0a2.3 2.3 0 1 0 -4.6 0zM407.79 571.2a2.3 2.3 0 1 0 4.6 0a2.3 2.3 0 1 0 -4.6 0zM420.17 571.2a2.3 2.3 0 1 0 4.6 0a2.3 2.3 0 1 0 -4.6 0zM432.55 571.2a2.3 2.3 0 1 0 4.6 0a2.3 2.3 0 1 0 -4.6 0zM444.93 571.2a2.3 2.3 0 1 0 4.6 0a2.3 2.3 0 1 0 -4.6 0zM457.31 571.2a2.3 2.3 0 1 0 4.6 0a2.3 2.3 0 1 0 -4.6 0zM469.69 571.2a2.3 2.3 0 1 0 4.6 0a2.3 2.3 0 1 0 -4.6 0zM482.07 571.2a2.3 2.3 0 1 0 4.6 0a2.3 2.3 0 1 0 -4.6 0zM494.45 571.2a2.3 2.3 0 1 0 4.6 0a2.3 2.3 0 1 0 -4.6 0zM506.83 571.2a2.3 2.3 0 1 0 4.6 0a2.3 2.3 0 1 0 -4.6 0zM519.21 571.2a2.3 2.3 0 1 0 4.6 0a2.3 2.3 0 1 0 -4.6 0zM531.59 571.2a2.3 2.3 0 1 0 4.6 0a2.3 2.3 0 1 0 -4.6 0zM543.96 571.2a2.3 2.3 0 1 0 4.6 0a2.3 2.3 0 1 0 -4.6 0zM556.34 571.2a2.3 2.3 0 1 0 4.6 0a2.3 2.3 0 1 0 -4.6 0zM568.72 571.2a2.3 2.3 0 1 0 4.6 0a2.3 2.3 0 1 0 -4.6 0zM581.1 571.2a2.3 2.3 0 1 0 4.6 0a2.3 2.3 0 1 0 -4.6 0zM593.48 571.2a2.3 2.3 0 1 0 4.6 0a2.3 2.3 0 1 0 -4.6 0zM605.86 571.2a2.3 2.3 0 1 0 4.6 0a2.3 2.3 0 1 0 -4.6 0zM618.24 571.2a2.3 2.3 0 1 0 4.6 0a2.3 2.3 0 1 0 -4.6 0zM630.62 571.2a2.3 2.3 0 1 0 4.6 0a2.3 2.3 0 1 0 -4.6 0zM643 571.2a2.3 2.3 0 1 0 4.6 0a2.3 2.3 0 1 0 -4.6 0zM655.38 571.2a2.3 2.3 0 1 0 4.6 0a2.3 2.3 0 1 0 -4.6 0zM667.75 571.2a2.3 2.3 0 1 0 4.6 0a2.3 2.3 0 1 0 -4.6 0zM680.13 571.2a2.3 2.3 0 1 0 4.6 0a2.3 2.3 0 1 0 -4.6 0zM692.51 571.2a2.3 2.3 0 1 0 4.6 0a2.3 2.3 0 1 0 -4.6 0zM704.89 571.2a2.3 2.3 0 1 0 4.6 0a2.3 2.3 0 1 0 -4.6 0zM717.27 571.2a2.3 2.3 0 1 0 4.6 0a2.3 2.3 0 1 0 -4.6 0zM729.65 571.2a2.3 2.3 0 1 0 4.6 0a2.3 2.3 0 1 0 -4.6 0zM742.03 571.2a2.3 2.3 0 1 0 4.6 0a2.3 2.3 0 1 0 -4.6 0zM754.41 571.2a2.3 2.3 0 1 0 4.6 0a2.3 2.3 0 1 0 -4.6 0zM766.79 571.2a2.3 2.3 0 1 0 4.6 0a2.3 2.3 0 1 0 -4.6 0zM779.16 571.2a2.3 2.3 0 1 0 4.6 0a2.3 2.3 0 1 0 -4.6 0zM791.54 571.2a2.3 2.3 0 1 0 4.6 0a2.3 2.3 0 1 0 -4.6 0zM803.92 571.2a2.3 2.3 0 1 0 4.6 0a2.3 2.3 0 1 0 -4.6 0zM816.3 571.2a2.3 2.3 0 1 0 4.6 0a2.3 2.3 0 1 0 -4.6 0zM828.68 571.2a2.3 2.3 0 1 0 4.6 0a2.3 2.3 0 1 0 -4.6 0zM841.06 571.2a2.3 2.3 0 1 0 4.6 0a2.3 2.3 0 1 0 -4.6 0zM853.44 571.2a2.3 2.3 0 1 0 4.6 0a2.3 2.3 0 1 0 -4.6 0zM865.82 571.2a2.3 2.3 0 1 0 4.6 0a2.3 2.3 0 1 0 -4.6 0zM878.2 571.2a2.3 2.3 0 1 0 4.6 0a2.3 2.3 0 1 0 -4.6 0zM890.58 571.2a2.3 2.3 0 1 0 4.6 0a2.3 2.3 0 1 0 -4.6 0zM902.95 571.2a2.3 2.3 0 1 0 4.6 0a2.3 2.3 0 1 0 -4.6 0zM915.33 571.2a2.3 2.3 0 1 0 4.6 0a2.3 2.3 0 1 0 -4.6 0zM927.71 571.2a2.3 2.3 0 1 0 4.6 0a2.3 2.3 0 1 0 -4.6 0zM940.09 571.2a2.3 2.3 0 1 0 4.6 0a2.3 2.3 0 1 0 -4.6 0zM952.47 571.2a2.3 2.3 0 1 0 4.6 0a2.3 2.3 0 1 0 -4.6 0zM964.85 571.2a2.3 2.3 0 1 0 4.6 0a2.3 2.3 0 1 0 -4.6 0zM977.23 571.2a2.3 2.3 0 1 0 4.6 0a2.3 2.3 0 1 0 -4.6 0zM989.61 571.2a2.3 2.3 0 1 0 4.6 0a2.3 2.3 0 1 0 -4.6 0zM1001.99 571.2a2.3 2.3 0 1 0 4.6 0a2.3 2.3 0 1 0 -4.6 0zM1014.37 571.2a2.3 2.3 0 1 0 4.6 0a2.3 2.3 0 1 0 -4.6 0zM1026.75 571.2a2.3 2.3 0 1 0 4.6 0a2.3 2.3 0 1 0 -4.6 0zM1039.12 571.2a2.3 2.3 0 1 0 4.6 0a2.3 2.3 0 1 0 -4.6 0zM1051.5 571.2a2.3 2.3 0 1 0 4.6 0a2.3 2.3 0 1 0 -4.6 0zM1063.88 571.2a2.3 2.3 0 1 0 4.6 0a2.3 2.3 0 1 0 -4.6 0zM1076.26 571.2a2.3 2.3 0 1 0 4.6 0a2.3 2.3 0 1 0 -4.6 0zM1088.64 571.2a2.3 2.3 0 1 0 4.6 0a2.3 2.3 0 1 0 -4.6 0zM1101.02 571.2a2.3 2.3 0 1 0 4.6 0a2.3 2.3 0 1 0 -4.6 0zM1113.4 571.2a2.3 2.3 0 1 0 4.6 0a2.3 2.3 0 1 0 -4.6 0zM345.9 583.57a2.3 2.3 0 1 0 4.6 0a2.3 2.3 0 1 0 -4.6 0zM358.28 583.57a2.3 2.3 0 1 0 4.6 0a2.3 2.3 0 1 0 -4.6 0zM370.66 583.57a2.3 2.3 0 1 0 4.6 0a2.3 2.3 0 1 0 -4.6 0zM383.04 583.57a2.3 2.3 0 1 0 4.6 0a2.3 2.3 0 1 0 -4.6 0zM395.42 583.57a2.3 2.3 0 1 0 4.6 0a2.3 2.3 0 1 0 -4.6 0zM407.79 583.57a2.3 2.3 0 1 0 4.6 0a2.3 2.3 0 1 0 -4.6 0zM420.17 583.57a2.3 2.3 0 1 0 4.6 0a2.3 2.3 0 1 0 -4.6 0zM432.55 583.57a2.3 2.3 0 1 0 4.6 0a2.3 2.3 0 1 0 -4.6 0zM444.93 583.57a2.3 2.3 0 1 0 4.6 0a2.3 2.3 0 1 0 -4.6 0zM457.31 583.57a2.3 2.3 0 1 0 4.6 0a2.3 2.3 0 1 0 -4.6 0zM469.69 583.57a2.3 2.3 0 1 0 4.6 0a2.3 2.3 0 1 0 -4.6 0zM482.07 583.57a2.3 2.3 0 1 0 4.6 0a2.3 2.3 0 1 0 -4.6 0zM494.45 583.57a2.3 2.3 0 1 0 4.6 0a2.3 2.3 0 1 0 -4.6 0zM506.83 583.57a2.3 2.3 0 1 0 4.6 0a2.3 2.3 0 1 0 -4.6 0zM519.21 583.57a2.3 2.3 0 1 0 4.6 0a2.3 2.3 0 1 0 -4.6 0zM531.59 583.57a2.3 2.3 0 1 0 4.6 0a2.3 2.3 0 1 0 -4.6 0zM543.96 583.57a2.3 2.3 0 1 0 4.6 0a2.3 2.3 0 1 0 -4.6 0zM556.34 583.57a2.3 2.3 0 1 0 4.6 0a2.3 2.3 0 1 0 -4.6 0zM568.72 583.57a2.3 2.3 0 1 0 4.6 0a2.3 2.3 0 1 0 -4.6 0zM581.1 583.57a2.3 2.3 0 1 0 4.6 0a2.3 2.3 0 1 0 -4.6 0zM593.48 583.57a2.3 2.3 0 1 0 4.6 0a2.3 2.3 0 1 0 -4.6 0zM605.86 583.57a2.3 2.3 0 1 0 4.6 0a2.3 2.3 0 1 0 -4.6 0zM618.24 583.57a2.3 2.3 0 1 0 4.6 0a2.3 2.3 0 1 0 -4.6 0zM630.62 583.57a2.3 2.3 0 1 0 4.6 0a2.3 2.3 0 1 0 -4.6 0zM643 583.57a2.3 2.3 0 1 0 4.6 0a2.3 2.3 0 1 0 -4.6 0zM655.38 583.57a2.3 2.3 0 1 0 4.6 0a2.3 2.3 0 1 0 -4.6 0zM667.75 583.57a2.3 2.3 0 1 0 4.6 0a2.3 2.3 0 1 0 -4.6 0zM680.13 583.57a2.3 2.3 0 1 0 4.6 0a2.3 2.3 0 1 0 -4.6 0zM692.51 583.57a2.3 2.3 0 1 0 4.6 0a2.3 2.3 0 1 0 -4.6 0zM704.89 583.57a2.3 2.3 0 1 0 4.6 0a2.3 2.3 0 1 0 -4.6 0zM717.27 583.57a2.3 2.3 0 1 0 4.6 0a2.3 2.3 0 1 0 -4.6 0zM729.65 583.57a2.3 2.3 0 1 0 4.6 0a2.3 2.3 0 1 0 -4.6 0zM742.03 583.57a2.3 2.3 0 1 0 4.6 0a2.3 2.3 0 1 0 -4.6 0zM754.41 583.57a2.3 2.3 0 1 0 4.6 0a2.3 2.3 0 1 0 -4.6 0zM766.79 583.57a2.3 2.3 0 1 0 4.6 0a2.3 2.3 0 1 0 -4.6 0zM779.16 583.57a2.3 2.3 0 1 0 4.6 0a2.3 2.3 0 1 0 -4.6 0zM791.54 583.57a2.3 2.3 0 1 0 4.6 0a2.3 2.3 0 1 0 -4.6 0zM803.92 583.57a2.3 2.3 0 1 0 4.6 0a2.3 2.3 0 1 0 -4.6 0zM816.3 583.57a2.3 2.3 0 1 0 4.6 0a2.3 2.3 0 1 0 -4.6 0zM828.68 583.57a2.3 2.3 0 1 0 4.6 0a2.3 2.3 0 1 0 -4.6 0zM841.06 583.57a2.3 2.3 0 1 0 4.6 0a2.3 2.3 0 1 0 -4.6 0zM853.44 583.57a2.3 2.3 0 1 0 4.6 0a2.3 2.3 0 1 0 -4.6 0zM865.82 583.57a2.3 2.3 0 1 0 4.6 0a2.3 2.3 0 1 0 -4.6 0zM878.2 583.57a2.3 2.3 0 1 0 4.6 0a2.3 2.3 0 1 0 -4.6 0zM890.58 583.57a2.3 2.3 0 1 0 4.6 0a2.3 2.3 0 1 0 -4.6 0zM902.95 583.57a2.3 2.3 0 1 0 4.6 0a2.3 2.3 0 1 0 -4.6 0zM915.33 583.57a2.3 2.3 0 1 0 4.6 0a2.3 2.3 0 1 0 -4.6 0zM927.71 583.57a2.3 2.3 0 1 0 4.6 0a2.3 2.3 0 1 0 -4.6 0zM940.09 583.57a2.3 2.3 0 1 0 4.6 0a2.3 2.3 0 1 0 -4.6 0zM952.47 583.57a2.3 2.3 0 1 0 4.6 0a2.3 2.3 0 1 0 -4.6 0zM964.85 583.57a2.3 2.3 0 1 0 4.6 0a2.3 2.3 0 1 0 -4.6 0zM977.23 583.57a2.3 2.3 0 1 0 4.6 0a2.3 2.3 0 1 0 -4.6 0zM989.61 583.57a2.3 2.3 0 1 0 4.6 0a2.3 2.3 0 1 0 -4.6 0zM1001.99 583.57a2.3 2.3 0 1 0 4.6 0a2.3 2.3 0 1 0 -4.6 0zM1014.37 583.57a2.3 2.3 0 1 0 4.6 0a2.3 2.3 0 1 0 -4.6 0zM1026.75 583.57a2.3 2.3 0 1 0 4.6 0a2.3 2.3 0 1 0 -4.6 0zM1039.12 583.57a2.3 2.3 0 1 0 4.6 0a2.3 2.3 0 1 0 -4.6 0zM1051.5 583.57a2.3 2.3 0 1 0 4.6 0a2.3 2.3 0 1 0 -4.6 0zM1063.88 583.57a2.3 2.3 0 1 0 4.6 0a2.3 2.3 0 1 0 -4.6 0zM1076.26 583.57a2.3 2.3 0 1 0 4.6 0a2.3 2.3 0 1 0 -4.6 0zM1088.64 583.57a2.3 2.3 0 1 0 4.6 0a2.3 2.3 0 1 0 -4.6 0zM1101.02 583.57a2.3 2.3 0 1 0 4.6 0a2.3 2.3 0 1 0 -4.6 0zM1113.4 583.57a2.3 2.3 0 1 0 4.6 0a2.3 2.3 0 1 0 -4.6 0zM345.9 595.94a2.3 2.3 0 1 0 4.6 0a2.3 2.3 0 1 0 -4.6 0zM358.28 595.94a2.3 2.3 0 1 0 4.6 0a2.3 2.3 0 1 0 -4.6 0zM370.66 595.94a2.3 2.3 0 1 0 4.6 0a2.3 2.3 0 1 0 -4.6 0zM383.04 595.94a2.3 2.3 0 1 0 4.6 0a2.3 2.3 0 1 0 -4.6 0zM395.42 595.94a2.3 2.3 0 1 0 4.6 0a2.3 2.3 0 1 0 -4.6 0zM407.79 595.94a2.3 2.3 0 1 0 4.6 0a2.3 2.3 0 1 0 -4.6 0zM420.17 595.94a2.3 2.3 0 1 0 4.6 0a2.3 2.3 0 1 0 -4.6 0zM432.55 595.94a2.3 2.3 0 1 0 4.6 0a2.3 2.3 0 1 0 -4.6 0zM444.93 595.94a2.3 2.3 0 1 0 4.6 0a2.3 2.3 0 1 0 -4.6 0zM457.31 595.94a2.3 2.3 0 1 0 4.6 0a2.3 2.3 0 1 0 -4.6 0zM469.69 595.94a2.3 2.3 0 1 0 4.6 0a2.3 2.3 0 1 0 -4.6 0zM482.07 595.94a2.3 2.3 0 1 0 4.6 0a2.3 2.3 0 1 0 -4.6 0zM494.45 595.94a2.3 2.3 0 1 0 4.6 0a2.3 2.3 0 1 0 -4.6 0zM506.83 595.94a2.3 2.3 0 1 0 4.6 0a2.3 2.3 0 1 0 -4.6 0zM519.21 595.94a2.3 2.3 0 1 0 4.6 0a2.3 2.3 0 1 0 -4.6 0zM531.59 595.94a2.3 2.3 0 1 0 4.6 0a2.3 2.3 0 1 0 -4.6 0zM543.96 595.94a2.3 2.3 0 1 0 4.6 0a2.3 2.3 0 1 0 -4.6 0zM556.34 595.94a2.3 2.3 0 1 0 4.6 0a2.3 2.3 0 1 0 -4.6 0zM568.72 595.94a2.3 2.3 0 1 0 4.6 0a2.3 2.3 0 1 0 -4.6 0zM581.1 595.94a2.3 2.3 0 1 0 4.6 0a2.3 2.3 0 1 0 -4.6 0zM593.48 595.94a2.3 2.3 0 1 0 4.6 0a2.3 2.3 0 1 0 -4.6 0zM605.86 595.94a2.3 2.3 0 1 0 4.6 0a2.3 2.3 0 1 0 -4.6 0zM618.24 595.94a2.3 2.3 0 1 0 4.6 0a2.3 2.3 0 1 0 -4.6 0zM630.62 595.94a2.3 2.3 0 1 0 4.6 0a2.3 2.3 0 1 0 -4.6 0zM643 595.94a2.3 2.3 0 1 0 4.6 0a2.3 2.3 0 1 0 -4.6 0zM655.38 595.94a2.3 2.3 0 1 0 4.6 0a2.3 2.3 0 1 0 -4.6 0zM667.75 595.94a2.3 2.3 0 1 0 4.6 0a2.3 2.3 0 1 0 -4.6 0zM680.13 595.94a2.3 2.3 0 1 0 4.6 0a2.3 2.3 0 1 0 -4.6 0zM692.51 595.94a2.3 2.3 0 1 0 4.6 0a2.3 2.3 0 1 0 -4.6 0zM704.89 595.94a2.3 2.3 0 1 0 4.6 0a2.3 2.3 0 1 0 -4.6 0zM717.27 595.94a2.3 2.3 0 1 0 4.6 0a2.3 2.3 0 1 0 -4.6 0zM729.65 595.94a2.3 2.3 0 1 0 4.6 0a2.3 2.3 0 1 0 -4.6 0zM742.03 595.94a2.3 2.3 0 1 0 4.6 0a2.3 2.3 0 1 0 -4.6 0zM754.41 595.94a2.3 2.3 0 1 0 4.6 0a2.3 2.3 0 1 0 -4.6 0zM766.79 595.94a2.3 2.3 0 1 0 4.6 0a2.3 2.3 0 1 0 -4.6 0zM779.16 595.94a2.3 2.3 0 1 0 4.6 0a2.3 2.3 0 1 0 -4.6 0zM791.54 595.94a2.3 2.3 0 1 0 4.6 0a2.3 2.3 0 1 0 -4.6 0zM803.92 595.94a2.3 2.3 0 1 0 4.6 0a2.3 2.3 0 1 0 -4.6 0zM816.3 595.94a2.3 2.3 0 1 0 4.6 0a2.3 2.3 0 1 0 -4.6 0zM828.68 595.94a2.3 2.3 0 1 0 4.6 0a2.3 2.3 0 1 0 -4.6 0zM841.06 595.94a2.3 2.3 0 1 0 4.6 0a2.3 2.3 0 1 0 -4.6 0zM853.44 595.94a2.3 2.3 0 1 0 4.6 0a2.3 2.3 0 1 0 -4.6 0zM865.82 595.94a2.3 2.3 0 1 0 4.6 0a2.3 2.3 0 1 0 -4.6 0zM878.2 595.94a2.3 2.3 0 1 0 4.6 0a2.3 2.3 0 1 0 -4.6 0zM890.58 595.94a2.3 2.3 0 1 0 4.6 0a2.3 2.3 0 1 0 -4.6 0zM902.95 595.94a2.3 2.3 0 1 0 4.6 0a2.3 2.3 0 1 0 -4.6 0zM915.33 595.94a2.3 2.3 0 1 0 4.6 0a2.3 2.3 0 1 0 -4.6 0zM927.71 595.94a2.3 2.3 0 1 0 4.6 0a2.3 2.3 0 1 0 -4.6 0zM940.09 595.94a2.3 2.3 0 1 0 4.6 0a2.3 2.3 0 1 0 -4.6 0zM952.47 595.94a2.3 2.3 0 1 0 4.6 0a2.3 2.3 0 1 0 -4.6 0zM964.85 595.94a2.3 2.3 0 1 0 4.6 0a2.3 2.3 0 1 0 -4.6 0zM977.23 595.94a2.3 2.3 0 1 0 4.6 0a2.3 2.3 0 1 0 -4.6 0zM989.61 595.94a2.3 2.3 0 1 0 4.6 0a2.3 2.3 0 1 0 -4.6 0zM1001.99 595.94a2.3 2.3 0 1 0 4.6 0a2.3 2.3 0 1 0 -4.6 0zM1014.37 595.94a2.3 2.3 0 1 0 4.6 0a2.3 2.3 0 1 0 -4.6 0zM1026.75 595.94a2.3 2.3 0 1 0 4.6 0a2.3 2.3 0 1 0 -4.6 0zM1039.12 595.94a2.3 2.3 0 1 0 4.6 0a2.3 2.3 0 1 0 -4.6 0zM1051.5 595.94a2.3 2.3 0 1 0 4.6 0a2.3 2.3 0 1 0 -4.6 0zM1063.88 595.94a2.3 2.3 0 1 0 4.6 0a2.3 2.3 0 1 0 -4.6 0zM1076.26 595.94a2.3 2.3 0 1 0 4.6 0a2.3 2.3 0 1 0 -4.6 0zM1088.64 595.94a2.3 2.3 0 1 0 4.6 0a2.3 2.3 0 1 0 -4.6 0zM1101.02 595.94a2.3 2.3 0 1 0 4.6 0a2.3 2.3 0 1 0 -4.6 0zM1113.4 595.94a2.3 2.3 0 1 0 4.6 0a2.3 2.3 0 1 0 -4.6 0zM345.9 608.31a2.3 2.3 0 1 0 4.6 0a2.3 2.3 0 1 0 -4.6 0zM358.28 608.31a2.3 2.3 0 1 0 4.6 0a2.3 2.3 0 1 0 -4.6 0zM370.66 608.31a2.3 2.3 0 1 0 4.6 0a2.3 2.3 0 1 0 -4.6 0zM383.04 608.31a2.3 2.3 0 1 0 4.6 0a2.3 2.3 0 1 0 -4.6 0zM395.42 608.31a2.3 2.3 0 1 0 4.6 0a2.3 2.3 0 1 0 -4.6 0zM407.79 608.31a2.3 2.3 0 1 0 4.6 0a2.3 2.3 0 1 0 -4.6 0zM420.17 608.31a2.3 2.3 0 1 0 4.6 0a2.3 2.3 0 1 0 -4.6 0zM432.55 608.31a2.3 2.3 0 1 0 4.6 0a2.3 2.3 0 1 0 -4.6 0zM444.93 608.31a2.3 2.3 0 1 0 4.6 0a2.3 2.3 0 1 0 -4.6 0zM457.31 608.31a2.3 2.3 0 1 0 4.6 0a2.3 2.3 0 1 0 -4.6 0zM469.69 608.31a2.3 2.3 0 1 0 4.6 0a2.3 2.3 0 1 0 -4.6 0zM482.07 608.31a2.3 2.3 0 1 0 4.6 0a2.3 2.3 0 1 0 -4.6 0zM494.45 608.31a2.3 2.3 0 1 0 4.6 0a2.3 2.3 0 1 0 -4.6 0zM506.83 608.31a2.3 2.3 0 1 0 4.6 0a2.3 2.3 0 1 0 -4.6 0zM519.21 608.31a2.3 2.3 0 1 0 4.6 0a2.3 2.3 0 1 0 -4.6 0zM531.59 608.31a2.3 2.3 0 1 0 4.6 0a2.3 2.3 0 1 0 -4.6 0zM543.96 608.31a2.3 2.3 0 1 0 4.6 0a2.3 2.3 0 1 0 -4.6 0zM556.34 608.31a2.3 2.3 0 1 0 4.6 0a2.3 2.3 0 1 0 -4.6 0zM568.72 608.31a2.3 2.3 0 1 0 4.6 0a2.3 2.3 0 1 0 -4.6 0zM581.1 608.31a2.3 2.3 0 1 0 4.6 0a2.3 2.3 0 1 0 -4.6 0zM593.48 608.31a2.3 2.3 0 1 0 4.6 0a2.3 2.3 0 1 0 -4.6 0zM605.86 608.31a2.3 2.3 0 1 0 4.6 0a2.3 2.3 0 1 0 -4.6 0zM618.24 608.31a2.3 2.3 0 1 0 4.6 0a2.3 2.3 0 1 0 -4.6 0zM630.62 608.31a2.3 2.3 0 1 0 4.6 0a2.3 2.3 0 1 0 -4.6 0zM643 608.31a2.3 2.3 0 1 0 4.6 0a2.3 2.3 0 1 0 -4.6 0zM655.38 608.31a2.3 2.3 0 1 0 4.6 0a2.3 2.3 0 1 0 -4.6 0zM667.75 608.31a2.3 2.3 0 1 0 4.6 0a2.3 2.3 0 1 0 -4.6 0zM680.13 608.31a2.3 2.3 0 1 0 4.6 0a2.3 2.3 0 1 0 -4.6 0zM692.51 608.31a2.3 2.3 0 1 0 4.6 0a2.3 2.3 0 1 0 -4.6 0zM704.89 608.31a2.3 2.3 0 1 0 4.6 0a2.3 2.3 0 1 0 -4.6 0zM717.27 608.31a2.3 2.3 0 1 0 4.6 0a2.3 2.3 0 1 0 -4.6 0zM729.65 608.31a2.3 2.3 0 1 0 4.6 0a2.3 2.3 0 1 0 -4.6 0zM742.03 608.31a2.3 2.3 0 1 0 4.6 0a2.3 2.3 0 1 0 -4.6 0zM754.41 608.31a2.3 2.3 0 1 0 4.6 0a2.3 2.3 0 1 0 -4.6 0zM766.79 608.31a2.3 2.3 0 1 0 4.6 0a2.3 2.3 0 1 0 -4.6 0zM779.16 608.31a2.3 2.3 0 1 0 4.6 0a2.3 2.3 0 1 0 -4.6 0zM791.54 608.31a2.3 2.3 0 1 0 4.6 0a2.3 2.3 0 1 0 -4.6 0zM803.92 608.31a2.3 2.3 0 1 0 4.6 0a2.3 2.3 0 1 0 -4.6 0zM816.3 608.31a2.3 2.3 0 1 0 4.6 0a2.3 2.3 0 1 0 -4.6 0zM828.68 608.31a2.3 2.3 0 1 0 4.6 0a2.3 2.3 0 1 0 -4.6 0zM841.06 608.31a2.3 2.3 0 1 0 4.6 0a2.3 2.3 0 1 0 -4.6 0zM853.44 608.31a2.3 2.3 0 1 0 4.6 0a2.3 2.3 0 1 0 -4.6 0zM865.82 608.31a2.3 2.3 0 1 0 4.6 0a2.3 2.3 0 1 0 -4.6 0zM878.2 608.31a2.3 2.3 0 1 0 4.6 0a2.3 2.3 0 1 0 -4.6 0zM890.58 608.31a2.3 2.3 0 1 0 4.6 0a2.3 2.3 0 1 0 -4.6 0zM902.95 608.31a2.3 2.3 0 1 0 4.6 0a2.3 2.3 0 1 0 -4.6 0zM915.33 608.31a2.3 2.3 0 1 0 4.6 0a2.3 2.3 0 1 0 -4.6 0zM927.71 608.31a2.3 2.3 0 1 0 4.6 0a2.3 2.3 0 1 0 -4.6 0zM940.09 608.31a2.3 2.3 0 1 0 4.6 0a2.3 2.3 0 1 0 -4.6 0zM952.47 608.31a2.3 2.3 0 1 0 4.6 0a2.3 2.3 0 1 0 -4.6 0zM964.85 608.31a2.3 2.3 0 1 0 4.6 0a2.3 2.3 0 1 0 -4.6 0zM977.23 608.31a2.3 2.3 0 1 0 4.6 0a2.3 2.3 0 1 0 -4.6 0zM989.61 608.31a2.3 2.3 0 1 0 4.6 0a2.3 2.3 0 1 0 -4.6 0zM1001.99 608.31a2.3 2.3 0 1 0 4.6 0a2.3 2.3 0 1 0 -4.6 0zM1014.37 608.31a2.3 2.3 0 1 0 4.6 0a2.3 2.3 0 1 0 -4.6 0zM1026.75 608.31a2.3 2.3 0 1 0 4.6 0a2.3 2.3 0 1 0 -4.6 0zM1039.12 608.31a2.3 2.3 0 1 0 4.6 0a2.3 2.3 0 1 0 -4.6 0zM1051.5 608.31a2.3 2.3 0 1 0 4.6 0a2.3 2.3 0 1 0 -4.6 0zM1063.88 608.31a2.3 2.3 0 1 0 4.6 0a2.3 2.3 0 1 0 -4.6 0zM1076.26 608.31a2.3 2.3 0 1 0 4.6 0a2.3 2.3 0 1 0 -4.6 0zM1088.64 608.31a2.3 2.3 0 1 0 4.6 0a2.3 2.3 0 1 0 -4.6 0zM1101.02 608.31a2.3 2.3 0 1 0 4.6 0a2.3 2.3 0 1 0 -4.6 0zM1113.4 608.31a2.3 2.3 0 1 0 4.6 0a2.3 2.3 0 1 0 -4.6 0zM345.9 620.68a2.3 2.3 0 1 0 4.6 0a2.3 2.3 0 1 0 -4.6 0zM358.28 620.68a2.3 2.3 0 1 0 4.6 0a2.3 2.3 0 1 0 -4.6 0zM370.66 620.68a2.3 2.3 0 1 0 4.6 0a2.3 2.3 0 1 0 -4.6 0zM383.04 620.68a2.3 2.3 0 1 0 4.6 0a2.3 2.3 0 1 0 -4.6 0zM395.42 620.68a2.3 2.3 0 1 0 4.6 0a2.3 2.3 0 1 0 -4.6 0zM407.79 620.68a2.3 2.3 0 1 0 4.6 0a2.3 2.3 0 1 0 -4.6 0zM420.17 620.68a2.3 2.3 0 1 0 4.6 0a2.3 2.3 0 1 0 -4.6 0zM432.55 620.68a2.3 2.3 0 1 0 4.6 0a2.3 2.3 0 1 0 -4.6 0zM444.93 620.68a2.3 2.3 0 1 0 4.6 0a2.3 2.3 0 1 0 -4.6 0zM457.31 620.68a2.3 2.3 0 1 0 4.6 0a2.3 2.3 0 1 0 -4.6 0zM469.69 620.68a2.3 2.3 0 1 0 4.6 0a2.3 2.3 0 1 0 -4.6 0zM482.07 620.68a2.3 2.3 0 1 0 4.6 0a2.3 2.3 0 1 0 -4.6 0zM494.45 620.68a2.3 2.3 0 1 0 4.6 0a2.3 2.3 0 1 0 -4.6 0zM506.83 620.68a2.3 2.3 0 1 0 4.6 0a2.3 2.3 0 1 0 -4.6 0zM519.21 620.68a2.3 2.3 0 1 0 4.6 0a2.3 2.3 0 1 0 -4.6 0zM531.59 620.68a2.3 2.3 0 1 0 4.6 0a2.3 2.3 0 1 0 -4.6 0zM543.96 620.68a2.3 2.3 0 1 0 4.6 0a2.3 2.3 0 1 0 -4.6 0zM556.34 620.68a2.3 2.3 0 1 0 4.6 0a2.3 2.3 0 1 0 -4.6 0zM568.72 620.68a2.3 2.3 0 1 0 4.6 0a2.3 2.3 0 1 0 -4.6 0zM581.1 620.68a2.3 2.3 0 1 0 4.6 0a2.3 2.3 0 1 0 -4.6 0zM593.48 620.68a2.3 2.3 0 1 0 4.6 0a2.3 2.3 0 1 0 -4.6 0zM605.86 620.68a2.3 2.3 0 1 0 4.6 0a2.3 2.3 0 1 0 -4.6 0zM618.24 620.68a2.3 2.3 0 1 0 4.6 0a2.3 2.3 0 1 0 -4.6 0zM630.62 620.68a2.3 2.3 0 1 0 4.6 0a2.3 2.3 0 1 0 -4.6 0zM643 620.68a2.3 2.3 0 1 0 4.6 0a2.3 2.3 0 1 0 -4.6 0zM655.38 620.68a2.3 2.3 0 1 0 4.6 0a2.3 2.3 0 1 0 -4.6 0zM667.75 620.68a2.3 2.3 0 1 0 4.6 0a2.3 2.3 0 1 0 -4.6 0zM680.13 620.68a2.3 2.3 0 1 0 4.6 0a2.3 2.3 0 1 0 -4.6 0zM692.51 620.68a2.3 2.3 0 1 0 4.6 0a2.3 2.3 0 1 0 -4.6 0zM704.89 620.68a2.3 2.3 0 1 0 4.6 0a2.3 2.3 0 1 0 -4.6 0zM717.27 620.68a2.3 2.3 0 1 0 4.6 0a2.3 2.3 0 1 0 -4.6 0zM729.65 620.68a2.3 2.3 0 1 0 4.6 0a2.3 2.3 0 1 0 -4.6 0zM742.03 620.68a2.3 2.3 0 1 0 4.6 0a2.3 2.3 0 1 0 -4.6 0zM754.41 620.68a2.3 2.3 0 1 0 4.6 0a2.3 2.3 0 1 0 -4.6 0zM766.79 620.68a2.3 2.3 0 1 0 4.6 0a2.3 2.3 0 1 0 -4.6 0zM779.16 620.68a2.3 2.3 0 1 0 4.6 0a2.3 2.3 0 1 0 -4.6 0zM791.54 620.68a2.3 2.3 0 1 0 4.6 0a2.3 2.3 0 1 0 -4.6 0zM803.92 620.68a2.3 2.3 0 1 0 4.6 0a2.3 2.3 0 1 0 -4.6 0zM816.3 620.68a2.3 2.3 0 1 0 4.6 0a2.3 2.3 0 1 0 -4.6 0zM828.68 620.68a2.3 2.3 0 1 0 4.6 0a2.3 2.3 0 1 0 -4.6 0zM841.06 620.68a2.3 2.3 0 1 0 4.6 0a2.3 2.3 0 1 0 -4.6 0zM853.44 620.68a2.3 2.3 0 1 0 4.6 0a2.3 2.3 0 1 0 -4.6 0zM865.82 620.68a2.3 2.3 0 1 0 4.6 0a2.3 2.3 0 1 0 -4.6 0zM878.2 620.68a2.3 2.3 0 1 0 4.6 0a2.3 2.3 0 1 0 -4.6 0zM890.58 620.68a2.3 2.3 0 1 0 4.6 0a2.3 2.3 0 1 0 -4.6 0zM902.95 620.68a2.3 2.3 0 1 0 4.6 0a2.3 2.3 0 1 0 -4.6 0zM915.33 620.68a2.3 2.3 0 1 0 4.6 0a2.3 2.3 0 1 0 -4.6 0zM927.71 620.68a2.3 2.3 0 1 0 4.6 0a2.3 2.3 0 1 0 -4.6 0zM940.09 620.68a2.3 2.3 0 1 0 4.6 0a2.3 2.3 0 1 0 -4.6 0zM952.47 620.68a2.3 2.3 0 1 0 4.6 0a2.3 2.3 0 1 0 -4.6 0zM964.85 620.68a2.3 2.3 0 1 0 4.6 0a2.3 2.3 0 1 0 -4.6 0zM977.23 620.68a2.3 2.3 0 1 0 4.6 0a2.3 2.3 0 1 0 -4.6 0zM989.61 620.68a2.3 2.3 0 1 0 4.6 0a2.3 2.3 0 1 0 -4.6 0zM1001.99 620.68a2.3 2.3 0 1 0 4.6 0a2.3 2.3 0 1 0 -4.6 0zM1014.37 620.68a2.3 2.3 0 1 0 4.6 0a2.3 2.3 0 1 0 -4.6 0zM1026.75 620.68a2.3 2.3 0 1 0 4.6 0a2.3 2.3 0 1 0 -4.6 0zM1039.12 620.68a2.3 2.3 0 1 0 4.6 0a2.3 2.3 0 1 0 -4.6 0zM1051.5 620.68a2.3 2.3 0 1 0 4.6 0a2.3 2.3 0 1 0 -4.6 0zM1063.88 620.68a2.3 2.3 0 1 0 4.6 0a2.3 2.3 0 1 0 -4.6 0zM1076.26 620.68a2.3 2.3 0 1 0 4.6 0a2.3 2.3 0 1 0 -4.6 0zM1088.64 620.68a2.3 2.3 0 1 0 4.6 0a2.3 2.3 0 1 0 -4.6 0zM1101.02 620.68a2.3 2.3 0 1 0 4.6 0a2.3 2.3 0 1 0 -4.6 0zM1113.4 620.68a2.3 2.3 0 1 0 4.6 0a2.3 2.3 0 1 0 -4.6 0zM345.9 657.9a2.3 2.3 0 1 0 4.6 0a2.3 2.3 0 1 0 -4.6 0zM358.28 657.9a2.3 2.3 0 1 0 4.6 0a2.3 2.3 0 1 0 -4.6 0zM370.66 657.9a2.3 2.3 0 1 0 4.6 0a2.3 2.3 0 1 0 -4.6 0zM383.04 657.9a2.3 2.3 0 1 0 4.6 0a2.3 2.3 0 1 0 -4.6 0zM395.42 657.9a2.3 2.3 0 1 0 4.6 0a2.3 2.3 0 1 0 -4.6 0zM407.79 657.9a2.3 2.3 0 1 0 4.6 0a2.3 2.3 0 1 0 -4.6 0zM420.17 657.9a2.3 2.3 0 1 0 4.6 0a2.3 2.3 0 1 0 -4.6 0zM432.55 657.9a2.3 2.3 0 1 0 4.6 0a2.3 2.3 0 1 0 -4.6 0zM444.93 657.9a2.3 2.3 0 1 0 4.6 0a2.3 2.3 0 1 0 -4.6 0zM457.31 657.9a2.3 2.3 0 1 0 4.6 0a2.3 2.3 0 1 0 -4.6 0zM469.69 657.9a2.3 2.3 0 1 0 4.6 0a2.3 2.3 0 1 0 -4.6 0zM482.07 657.9a2.3 2.3 0 1 0 4.6 0a2.3 2.3 0 1 0 -4.6 0zM494.45 657.9a2.3 2.3 0 1 0 4.6 0a2.3 2.3 0 1 0 -4.6 0zM506.83 657.9a2.3 2.3 0 1 0 4.6 0a2.3 2.3 0 1 0 -4.6 0zM519.21 657.9a2.3 2.3 0 1 0 4.6 0a2.3 2.3 0 1 0 -4.6 0zM531.59 657.9a2.3 2.3 0 1 0 4.6 0a2.3 2.3 0 1 0 -4.6 0zM543.96 657.9a2.3 2.3 0 1 0 4.6 0a2.3 2.3 0 1 0 -4.6 0zM556.34 657.9a2.3 2.3 0 1 0 4.6 0a2.3 2.3 0 1 0 -4.6 0zM568.72 657.9a2.3 2.3 0 1 0 4.6 0a2.3 2.3 0 1 0 -4.6 0zM581.1 657.9a2.3 2.3 0 1 0 4.6 0a2.3 2.3 0 1 0 -4.6 0zM593.48 657.9a2.3 2.3 0 1 0 4.6 0a2.3 2.3 0 1 0 -4.6 0zM605.86 657.9a2.3 2.3 0 1 0 4.6 0a2.3 2.3 0 1 0 -4.6 0zM618.24 657.9a2.3 2.3 0 1 0 4.6 0a2.3 2.3 0 1 0 -4.6 0zM630.62 657.9a2.3 2.3 0 1 0 4.6 0a2.3 2.3 0 1 0 -4.6 0zM643 657.9a2.3 2.3 0 1 0 4.6 0a2.3 2.3 0 1 0 -4.6 0zM655.38 657.9a2.3 2.3 0 1 0 4.6 0a2.3 2.3 0 1 0 -4.6 0zM667.75 657.9a2.3 2.3 0 1 0 4.6 0a2.3 2.3 0 1 0 -4.6 0zM680.13 657.9a2.3 2.3 0 1 0 4.6 0a2.3 2.3 0 1 0 -4.6 0zM692.51 657.9a2.3 2.3 0 1 0 4.6 0a2.3 2.3 0 1 0 -4.6 0zM704.89 657.9a2.3 2.3 0 1 0 4.6 0a2.3 2.3 0 1 0 -4.6 0zM717.27 657.9a2.3 2.3 0 1 0 4.6 0a2.3 2.3 0 1 0 -4.6 0zM729.65 657.9a2.3 2.3 0 1 0 4.6 0a2.3 2.3 0 1 0 -4.6 0zM742.03 657.9a2.3 2.3 0 1 0 4.6 0a2.3 2.3 0 1 0 -4.6 0zM754.41 657.9a2.3 2.3 0 1 0 4.6 0a2.3 2.3 0 1 0 -4.6 0zM766.79 657.9a2.3 2.3 0 1 0 4.6 0a2.3 2.3 0 1 0 -4.6 0zM779.16 657.9a2.3 2.3 0 1 0 4.6 0a2.3 2.3 0 1 0 -4.6 0zM791.54 657.9a2.3 2.3 0 1 0 4.6 0a2.3 2.3 0 1 0 -4.6 0zM803.92 657.9a2.3 2.3 0 1 0 4.6 0a2.3 2.3 0 1 0 -4.6 0zM816.3 657.9a2.3 2.3 0 1 0 4.6 0a2.3 2.3 0 1 0 -4.6 0zM828.68 657.9a2.3 2.3 0 1 0 4.6 0a2.3 2.3 0 1 0 -4.6 0zM841.06 657.9a2.3 2.3 0 1 0 4.6 0a2.3 2.3 0 1 0 -4.6 0zM853.44 657.9a2.3 2.3 0 1 0 4.6 0a2.3 2.3 0 1 0 -4.6 0zM865.82 657.9a2.3 2.3 0 1 0 4.6 0a2.3 2.3 0 1 0 -4.6 0zM878.2 657.9a2.3 2.3 0 1 0 4.6 0a2.3 2.3 0 1 0 -4.6 0zM890.58 657.9a2.3 2.3 0 1 0 4.6 0a2.3 2.3 0 1 0 -4.6 0zM902.95 657.9a2.3 2.3 0 1 0 4.6 0a2.3 2.3 0 1 0 -4.6 0zM915.33 657.9a2.3 2.3 0 1 0 4.6 0a2.3 2.3 0 1 0 -4.6 0zM927.71 657.9a2.3 2.3 0 1 0 4.6 0a2.3 2.3 0 1 0 -4.6 0zM940.09 657.9a2.3 2.3 0 1 0 4.6 0a2.3 2.3 0 1 0 -4.6 0zM952.47 657.9a2.3 2.3 0 1 0 4.6 0a2.3 2.3 0 1 0 -4.6 0zM964.85 657.9a2.3 2.3 0 1 0 4.6 0a2.3 2.3 0 1 0 -4.6 0zM977.23 657.9a2.3 2.3 0 1 0 4.6 0a2.3 2.3 0 1 0 -4.6 0zM989.61 657.9a2.3 2.3 0 1 0 4.6 0a2.3 2.3 0 1 0 -4.6 0zM1001.99 657.9a2.3 2.3 0 1 0 4.6 0a2.3 2.3 0 1 0 -4.6 0zM1014.37 657.9a2.3 2.3 0 1 0 4.6 0a2.3 2.3 0 1 0 -4.6 0zM1026.75 657.9a2.3 2.3 0 1 0 4.6 0a2.3 2.3 0 1 0 -4.6 0zM1039.12 657.9a2.3 2.3 0 1 0 4.6 0a2.3 2.3 0 1 0 -4.6 0zM1051.5 657.9a2.3 2.3 0 1 0 4.6 0a2.3 2.3 0 1 0 -4.6 0zM1063.88 657.9a2.3 2.3 0 1 0 4.6 0a2.3 2.3 0 1 0 -4.6 0zM1076.26 657.9a2.3 2.3 0 1 0 4.6 0a2.3 2.3 0 1 0 -4.6 0zM1088.64 657.9a2.3 2.3 0 1 0 4.6 0a2.3 2.3 0 1 0 -4.6 0zM1101.02 657.9a2.3 2.3 0 1 0 4.6 0a2.3 2.3 0 1 0 -4.6 0zM1113.4 657.9a2.3 2.3 0 1 0 4.6 0a2.3 2.3 0 1 0 -4.6 0zM345.9 670.27a2.3 2.3 0 1 0 4.6 0a2.3 2.3 0 1 0 -4.6 0zM358.28 670.27a2.3 2.3 0 1 0 4.6 0a2.3 2.3 0 1 0 -4.6 0zM370.66 670.27a2.3 2.3 0 1 0 4.6 0a2.3 2.3 0 1 0 -4.6 0zM383.04 670.27a2.3 2.3 0 1 0 4.6 0a2.3 2.3 0 1 0 -4.6 0zM395.42 670.27a2.3 2.3 0 1 0 4.6 0a2.3 2.3 0 1 0 -4.6 0zM407.79 670.27a2.3 2.3 0 1 0 4.6 0a2.3 2.3 0 1 0 -4.6 0zM420.17 670.27a2.3 2.3 0 1 0 4.6 0a2.3 2.3 0 1 0 -4.6 0zM432.55 670.27a2.3 2.3 0 1 0 4.6 0a2.3 2.3 0 1 0 -4.6 0zM444.93 670.27a2.3 2.3 0 1 0 4.6 0a2.3 2.3 0 1 0 -4.6 0zM457.31 670.27a2.3 2.3 0 1 0 4.6 0a2.3 2.3 0 1 0 -4.6 0zM469.69 670.27a2.3 2.3 0 1 0 4.6 0a2.3 2.3 0 1 0 -4.6 0zM482.07 670.27a2.3 2.3 0 1 0 4.6 0a2.3 2.3 0 1 0 -4.6 0zM494.45 670.27a2.3 2.3 0 1 0 4.6 0a2.3 2.3 0 1 0 -4.6 0zM506.83 670.27a2.3 2.3 0 1 0 4.6 0a2.3 2.3 0 1 0 -4.6 0zM519.21 670.27a2.3 2.3 0 1 0 4.6 0a2.3 2.3 0 1 0 -4.6 0zM531.59 670.27a2.3 2.3 0 1 0 4.6 0a2.3 2.3 0 1 0 -4.6 0zM543.96 670.27a2.3 2.3 0 1 0 4.6 0a2.3 2.3 0 1 0 -4.6 0zM556.34 670.27a2.3 2.3 0 1 0 4.6 0a2.3 2.3 0 1 0 -4.6 0zM568.72 670.27a2.3 2.3 0 1 0 4.6 0a2.3 2.3 0 1 0 -4.6 0zM581.1 670.27a2.3 2.3 0 1 0 4.6 0a2.3 2.3 0 1 0 -4.6 0zM593.48 670.27a2.3 2.3 0 1 0 4.6 0a2.3 2.3 0 1 0 -4.6 0zM605.86 670.27a2.3 2.3 0 1 0 4.6 0a2.3 2.3 0 1 0 -4.6 0zM618.24 670.27a2.3 2.3 0 1 0 4.6 0a2.3 2.3 0 1 0 -4.6 0zM630.62 670.27a2.3 2.3 0 1 0 4.6 0a2.3 2.3 0 1 0 -4.6 0zM643 670.27a2.3 2.3 0 1 0 4.6 0a2.3 2.3 0 1 0 -4.6 0zM655.38 670.27a2.3 2.3 0 1 0 4.6 0a2.3 2.3 0 1 0 -4.6 0zM667.75 670.27a2.3 2.3 0 1 0 4.6 0a2.3 2.3 0 1 0 -4.6 0zM680.13 670.27a2.3 2.3 0 1 0 4.6 0a2.3 2.3 0 1 0 -4.6 0zM692.51 670.27a2.3 2.3 0 1 0 4.6 0a2.3 2.3 0 1 0 -4.6 0zM704.89 670.27a2.3 2.3 0 1 0 4.6 0a2.3 2.3 0 1 0 -4.6 0zM717.27 670.27a2.3 2.3 0 1 0 4.6 0a2.3 2.3 0 1 0 -4.6 0zM729.65 670.27a2.3 2.3 0 1 0 4.6 0a2.3 2.3 0 1 0 -4.6 0zM742.03 670.27a2.3 2.3 0 1 0 4.6 0a2.3 2.3 0 1 0 -4.6 0zM754.41 670.27a2.3 2.3 0 1 0 4.6 0a2.3 2.3 0 1 0 -4.6 0zM766.79 670.27a2.3 2.3 0 1 0 4.6 0a2.3 2.3 0 1 0 -4.6 0zM779.16 670.27a2.3 2.3 0 1 0 4.6 0a2.3 2.3 0 1 0 -4.6 0zM791.54 670.27a2.3 2.3 0 1 0 4.6 0a2.3 2.3 0 1 0 -4.6 0zM803.92 670.27a2.3 2.3 0 1 0 4.6 0a2.3 2.3 0 1 0 -4.6 0zM816.3 670.27a2.3 2.3 0 1 0 4.6 0a2.3 2.3 0 1 0 -4.6 0zM828.68 670.27a2.3 2.3 0 1 0 4.6 0a2.3 2.3 0 1 0 -4.6 0zM841.06 670.27a2.3 2.3 0 1 0 4.6 0a2.3 2.3 0 1 0 -4.6 0zM853.44 670.27a2.3 2.3 0 1 0 4.6 0a2.3 2.3 0 1 0 -4.6 0zM865.82 670.27a2.3 2.3 0 1 0 4.6 0a2.3 2.3 0 1 0 -4.6 0zM878.2 670.27a2.3 2.3 0 1 0 4.6 0a2.3 2.3 0 1 0 -4.6 0zM890.58 670.27a2.3 2.3 0 1 0 4.6 0a2.3 2.3 0 1 0 -4.6 0zM902.95 670.27a2.3 2.3 0 1 0 4.6 0a2.3 2.3 0 1 0 -4.6 0zM915.33 670.27a2.3 2.3 0 1 0 4.6 0a2.3 2.3 0 1 0 -4.6 0zM927.71 670.27a2.3 2.3 0 1 0 4.6 0a2.3 2.3 0 1 0 -4.6 0zM940.09 670.27a2.3 2.3 0 1 0 4.6 0a2.3 2.3 0 1 0 -4.6 0zM952.47 670.27a2.3 2.3 0 1 0 4.6 0a2.3 2.3 0 1 0 -4.6 0zM964.85 670.27a2.3 2.3 0 1 0 4.6 0a2.3 2.3 0 1 0 -4.6 0zM977.23 670.27a2.3 2.3 0 1 0 4.6 0a2.3 2.3 0 1 0 -4.6 0zM989.61 670.27a2.3 2.3 0 1 0 4.6 0a2.3 2.3 0 1 0 -4.6 0zM1001.99 670.27a2.3 2.3 0 1 0 4.6 0a2.3 2.3 0 1 0 -4.6 0zM1014.37 670.27a2.3 2.3 0 1 0 4.6 0a2.3 2.3 0 1 0 -4.6 0zM1026.75 670.27a2.3 2.3 0 1 0 4.6 0a2.3 2.3 0 1 0 -4.6 0zM1039.12 670.27a2.3 2.3 0 1 0 4.6 0a2.3 2.3 0 1 0 -4.6 0zM1051.5 670.27a2.3 2.3 0 1 0 4.6 0a2.3 2.3 0 1 0 -4.6 0zM1063.88 670.27a2.3 2.3 0 1 0 4.6 0a2.3 2.3 0 1 0 -4.6 0zM1076.26 670.27a2.3 2.3 0 1 0 4.6 0a2.3 2.3 0 1 0 -4.6 0zM1088.64 670.27a2.3 2.3 0 1 0 4.6 0a2.3 2.3 0 1 0 -4.6 0zM1101.02 670.27a2.3 2.3 0 1 0 4.6 0a2.3 2.3 0 1 0 -4.6 0zM1113.4 670.27a2.3 2.3 0 1 0 4.6 0a2.3 2.3 0 1 0 -4.6 0zM345.9 682.64a2.3 2.3 0 1 0 4.6 0a2.3 2.3 0 1 0 -4.6 0zM358.28 682.64a2.3 2.3 0 1 0 4.6 0a2.3 2.3 0 1 0 -4.6 0zM370.66 682.64a2.3 2.3 0 1 0 4.6 0a2.3 2.3 0 1 0 -4.6 0zM383.04 682.64a2.3 2.3 0 1 0 4.6 0a2.3 2.3 0 1 0 -4.6 0zM395.42 682.64a2.3 2.3 0 1 0 4.6 0a2.3 2.3 0 1 0 -4.6 0zM407.79 682.64a2.3 2.3 0 1 0 4.6 0a2.3 2.3 0 1 0 -4.6 0zM420.17 682.64a2.3 2.3 0 1 0 4.6 0a2.3 2.3 0 1 0 -4.6 0zM432.55 682.64a2.3 2.3 0 1 0 4.6 0a2.3 2.3 0 1 0 -4.6 0zM444.93 682.64a2.3 2.3 0 1 0 4.6 0a2.3 2.3 0 1 0 -4.6 0zM457.31 682.64a2.3 2.3 0 1 0 4.6 0a2.3 2.3 0 1 0 -4.6 0zM469.69 682.64a2.3 2.3 0 1 0 4.6 0a2.3 2.3 0 1 0 -4.6 0zM482.07 682.64a2.3 2.3 0 1 0 4.6 0a2.3 2.3 0 1 0 -4.6 0zM494.45 682.64a2.3 2.3 0 1 0 4.6 0a2.3 2.3 0 1 0 -4.6 0zM506.83 682.64a2.3 2.3 0 1 0 4.6 0a2.3 2.3 0 1 0 -4.6 0zM519.21 682.64a2.3 2.3 0 1 0 4.6 0a2.3 2.3 0 1 0 -4.6 0zM531.59 682.64a2.3 2.3 0 1 0 4.6 0a2.3 2.3 0 1 0 -4.6 0zM543.96 682.64a2.3 2.3 0 1 0 4.6 0a2.3 2.3 0 1 0 -4.6 0zM556.34 682.64a2.3 2.3 0 1 0 4.6 0a2.3 2.3 0 1 0 -4.6 0zM568.72 682.64a2.3 2.3 0 1 0 4.6 0a2.3 2.3 0 1 0 -4.6 0zM581.1 682.64a2.3 2.3 0 1 0 4.6 0a2.3 2.3 0 1 0 -4.6 0zM593.48 682.64a2.3 2.3 0 1 0 4.6 0a2.3 2.3 0 1 0 -4.6 0zM605.86 682.64a2.3 2.3 0 1 0 4.6 0a2.3 2.3 0 1 0 -4.6 0zM618.24 682.64a2.3 2.3 0 1 0 4.6 0a2.3 2.3 0 1 0 -4.6 0zM630.62 682.64a2.3 2.3 0 1 0 4.6 0a2.3 2.3 0 1 0 -4.6 0zM643 682.64a2.3 2.3 0 1 0 4.6 0a2.3 2.3 0 1 0 -4.6 0zM655.38 682.64a2.3 2.3 0 1 0 4.6 0a2.3 2.3 0 1 0 -4.6 0zM667.75 682.64a2.3 2.3 0 1 0 4.6 0a2.3 2.3 0 1 0 -4.6 0zM680.13 682.64a2.3 2.3 0 1 0 4.6 0a2.3 2.3 0 1 0 -4.6 0zM692.51 682.64a2.3 2.3 0 1 0 4.6 0a2.3 2.3 0 1 0 -4.6 0zM704.89 682.64a2.3 2.3 0 1 0 4.6 0a2.3 2.3 0 1 0 -4.6 0zM717.27 682.64a2.3 2.3 0 1 0 4.6 0a2.3 2.3 0 1 0 -4.6 0zM729.65 682.64a2.3 2.3 0 1 0 4.6 0a2.3 2.3 0 1 0 -4.6 0zM742.03 682.64a2.3 2.3 0 1 0 4.6 0a2.3 2.3 0 1 0 -4.6 0zM754.41 682.64a2.3 2.3 0 1 0 4.6 0a2.3 2.3 0 1 0 -4.6 0zM766.79 682.64a2.3 2.3 0 1 0 4.6 0a2.3 2.3 0 1 0 -4.6 0zM779.16 682.64a2.3 2.3 0 1 0 4.6 0a2.3 2.3 0 1 0 -4.6 0zM791.54 682.64a2.3 2.3 0 1 0 4.6 0a2.3 2.3 0 1 0 -4.6 0zM803.92 682.64a2.3 2.3 0 1 0 4.6 0a2.3 2.3 0 1 0 -4.6 0zM816.3 682.64a2.3 2.3 0 1 0 4.6 0a2.3 2.3 0 1 0 -4.6 0zM828.68 682.64a2.3 2.3 0 1 0 4.6 0a2.3 2.3 0 1 0 -4.6 0zM841.06 682.64a2.3 2.3 0 1 0 4.6 0a2.3 2.3 0 1 0 -4.6 0zM853.44 682.64a2.3 2.3 0 1 0 4.6 0a2.3 2.3 0 1 0 -4.6 0zM865.82 682.64a2.3 2.3 0 1 0 4.6 0a2.3 2.3 0 1 0 -4.6 0zM878.2 682.64a2.3 2.3 0 1 0 4.6 0a2.3 2.3 0 1 0 -4.6 0zM890.58 682.64a2.3 2.3 0 1 0 4.6 0a2.3 2.3 0 1 0 -4.6 0zM902.95 682.64a2.3 2.3 0 1 0 4.6 0a2.3 2.3 0 1 0 -4.6 0zM915.33 682.64a2.3 2.3 0 1 0 4.6 0a2.3 2.3 0 1 0 -4.6 0zM927.71 682.64a2.3 2.3 0 1 0 4.6 0a2.3 2.3 0 1 0 -4.6 0zM940.09 682.64a2.3 2.3 0 1 0 4.6 0a2.3 2.3 0 1 0 -4.6 0zM952.47 682.64a2.3 2.3 0 1 0 4.6 0a2.3 2.3 0 1 0 -4.6 0zM964.85 682.64a2.3 2.3 0 1 0 4.6 0a2.3 2.3 0 1 0 -4.6 0zM977.23 682.64a2.3 2.3 0 1 0 4.6 0a2.3 2.3 0 1 0 -4.6 0zM989.61 682.64a2.3 2.3 0 1 0 4.6 0a2.3 2.3 0 1 0 -4.6 0zM1001.99 682.64a2.3 2.3 0 1 0 4.6 0a2.3 2.3 0 1 0 -4.6 0zM1014.37 682.64a2.3 2.3 0 1 0 4.6 0a2.3 2.3 0 1 0 -4.6 0zM1026.75 682.64a2.3 2.3 0 1 0 4.6 0a2.3 2.3 0 1 0 -4.6 0zM1039.12 682.64a2.3 2.3 0 1 0 4.6 0a2.3 2.3 0 1 0 -4.6 0zM1051.5 682.64a2.3 2.3 0 1 0 4.6 0a2.3 2.3 0 1 0 -4.6 0zM1063.88 682.64a2.3 2.3 0 1 0 4.6 0a2.3 2.3 0 1 0 -4.6 0zM1076.26 682.64a2.3 2.3 0 1 0 4.6 0a2.3 2.3 0 1 0 -4.6 0zM1088.64 682.64a2.3 2.3 0 1 0 4.6 0a2.3 2.3 0 1 0 -4.6 0zM1101.02 682.64a2.3 2.3 0 1 0 4.6 0a2.3 2.3 0 1 0 -4.6 0zM1113.4 682.64a2.3 2.3 0 1 0 4.6 0a2.3 2.3 0 1 0 -4.6 0zM345.9 695.01a2.3 2.3 0 1 0 4.6 0a2.3 2.3 0 1 0 -4.6 0zM358.28 695.01a2.3 2.3 0 1 0 4.6 0a2.3 2.3 0 1 0 -4.6 0zM370.66 695.01a2.3 2.3 0 1 0 4.6 0a2.3 2.3 0 1 0 -4.6 0zM383.04 695.01a2.3 2.3 0 1 0 4.6 0a2.3 2.3 0 1 0 -4.6 0zM395.42 695.01a2.3 2.3 0 1 0 4.6 0a2.3 2.3 0 1 0 -4.6 0zM407.79 695.01a2.3 2.3 0 1 0 4.6 0a2.3 2.3 0 1 0 -4.6 0zM420.17 695.01a2.3 2.3 0 1 0 4.6 0a2.3 2.3 0 1 0 -4.6 0zM432.55 695.01a2.3 2.3 0 1 0 4.6 0a2.3 2.3 0 1 0 -4.6 0zM444.93 695.01a2.3 2.3 0 1 0 4.6 0a2.3 2.3 0 1 0 -4.6 0zM457.31 695.01a2.3 2.3 0 1 0 4.6 0a2.3 2.3 0 1 0 -4.6 0zM469.69 695.01a2.3 2.3 0 1 0 4.6 0a2.3 2.3 0 1 0 -4.6 0zM482.07 695.01a2.3 2.3 0 1 0 4.6 0a2.3 2.3 0 1 0 -4.6 0zM494.45 695.01a2.3 2.3 0 1 0 4.6 0a2.3 2.3 0 1 0 -4.6 0zM506.83 695.01a2.3 2.3 0 1 0 4.6 0a2.3 2.3 0 1 0 -4.6 0zM519.21 695.01a2.3 2.3 0 1 0 4.6 0a2.3 2.3 0 1 0 -4.6 0zM531.59 695.01a2.3 2.3 0 1 0 4.6 0a2.3 2.3 0 1 0 -4.6 0zM543.96 695.01a2.3 2.3 0 1 0 4.6 0a2.3 2.3 0 1 0 -4.6 0zM556.34 695.01a2.3 2.3 0 1 0 4.6 0a2.3 2.3 0 1 0 -4.6 0zM568.72 695.01a2.3 2.3 0 1 0 4.6 0a2.3 2.3 0 1 0 -4.6 0zM581.1 695.01a2.3 2.3 0 1 0 4.6 0a2.3 2.3 0 1 0 -4.6 0zM593.48 695.01a2.3 2.3 0 1 0 4.6 0a2.3 2.3 0 1 0 -4.6 0zM605.86 695.01a2.3 2.3 0 1 0 4.6 0a2.3 2.3 0 1 0 -4.6 0zM618.24 695.01a2.3 2.3 0 1 0 4.6 0a2.3 2.3 0 1 0 -4.6 0zM630.62 695.01a2.3 2.3 0 1 0 4.6 0a2.3 2.3 0 1 0 -4.6 0zM643 695.01a2.3 2.3 0 1 0 4.6 0a2.3 2.3 0 1 0 -4.6 0zM655.38 695.01a2.3 2.3 0 1 0 4.6 0a2.3 2.3 0 1 0 -4.6 0zM667.75 695.01a2.3 2.3 0 1 0 4.6 0a2.3 2.3 0 1 0 -4.6 0zM680.13 695.01a2.3 2.3 0 1 0 4.6 0a2.3 2.3 0 1 0 -4.6 0zM692.51 695.01a2.3 2.3 0 1 0 4.6 0a2.3 2.3 0 1 0 -4.6 0zM704.89 695.01a2.3 2.3 0 1 0 4.6 0a2.3 2.3 0 1 0 -4.6 0zM717.27 695.01a2.3 2.3 0 1 0 4.6 0a2.3 2.3 0 1 0 -4.6 0zM729.65 695.01a2.3 2.3 0 1 0 4.6 0a2.3 2.3 0 1 0 -4.6 0zM742.03 695.01a2.3 2.3 0 1 0 4.6 0a2.3 2.3 0 1 0 -4.6 0zM754.41 695.01a2.3 2.3 0 1 0 4.6 0a2.3 2.3 0 1 0 -4.6 0zM766.79 695.01a2.3 2.3 0 1 0 4.6 0a2.3 2.3 0 1 0 -4.6 0zM779.16 695.01a2.3 2.3 0 1 0 4.6 0a2.3 2.3 0 1 0 -4.6 0zM791.54 695.01a2.3 2.3 0 1 0 4.6 0a2.3 2.3 0 1 0 -4.6 0zM803.92 695.01a2.3 2.3 0 1 0 4.6 0a2.3 2.3 0 1 0 -4.6 0zM816.3 695.01a2.3 2.3 0 1 0 4.6 0a2.3 2.3 0 1 0 -4.6 0zM828.68 695.01a2.3 2.3 0 1 0 4.6 0a2.3 2.3 0 1 0 -4.6 0zM841.06 695.01a2.3 2.3 0 1 0 4.6 0a2.3 2.3 0 1 0 -4.6 0zM853.44 695.01a2.3 2.3 0 1 0 4.6 0a2.3 2.3 0 1 0 -4.6 0zM865.82 695.01a2.3 2.3 0 1 0 4.6 0a2.3 2.3 0 1 0 -4.6 0zM878.2 695.01a2.3 2.3 0 1 0 4.6 0a2.3 2.3 0 1 0 -4.6 0zM890.58 695.01a2.3 2.3 0 1 0 4.6 0a2.3 2.3 0 1 0 -4.6 0zM902.95 695.01a2.3 2.3 0 1 0 4.6 0a2.3 2.3 0 1 0 -4.6 0zM915.33 695.01a2.3 2.3 0 1 0 4.6 0a2.3 2.3 0 1 0 -4.6 0zM927.71 695.01a2.3 2.3 0 1 0 4.6 0a2.3 2.3 0 1 0 -4.6 0zM940.09 695.01a2.3 2.3 0 1 0 4.6 0a2.3 2.3 0 1 0 -4.6 0zM952.47 695.01a2.3 2.3 0 1 0 4.6 0a2.3 2.3 0 1 0 -4.6 0zM964.85 695.01a2.3 2.3 0 1 0 4.6 0a2.3 2.3 0 1 0 -4.6 0zM977.23 695.01a2.3 2.3 0 1 0 4.6 0a2.3 2.3 0 1 0 -4.6 0zM989.61 695.01a2.3 2.3 0 1 0 4.6 0a2.3 2.3 0 1 0 -4.6 0zM1001.99 695.01a2.3 2.3 0 1 0 4.6 0a2.3 2.3 0 1 0 -4.6 0zM1014.37 695.01a2.3 2.3 0 1 0 4.6 0a2.3 2.3 0 1 0 -4.6 0zM1026.75 695.01a2.3 2.3 0 1 0 4.6 0a2.3 2.3 0 1 0 -4.6 0zM1039.12 695.01a2.3 2.3 0 1 0 4.6 0a2.3 2.3 0 1 0 -4.6 0zM1051.5 695.01a2.3 2.3 0 1 0 4.6 0a2.3 2.3 0 1 0 -4.6 0zM1063.88 695.01a2.3 2.3 0 1 0 4.6 0a2.3 2.3 0 1 0 -4.6 0zM1076.26 695.01a2.3 2.3 0 1 0 4.6 0a2.3 2.3 0 1 0 -4.6 0zM1088.64 695.01a2.3 2.3 0 1 0 4.6 0a2.3 2.3 0 1 0 -4.6 0zM1101.02 695.01a2.3 2.3 0 1 0 4.6 0a2.3 2.3 0 1 0 -4.6 0zM1113.4 695.01a2.3 2.3 0 1 0 4.6 0a2.3 2.3 0 1 0 -4.6 0zM345.9 707.38a2.3 2.3 0 1 0 4.6 0a2.3 2.3 0 1 0 -4.6 0zM358.28 707.38a2.3 2.3 0 1 0 4.6 0a2.3 2.3 0 1 0 -4.6 0zM370.66 707.38a2.3 2.3 0 1 0 4.6 0a2.3 2.3 0 1 0 -4.6 0zM383.04 707.38a2.3 2.3 0 1 0 4.6 0a2.3 2.3 0 1 0 -4.6 0zM395.42 707.38a2.3 2.3 0 1 0 4.6 0a2.3 2.3 0 1 0 -4.6 0zM407.79 707.38a2.3 2.3 0 1 0 4.6 0a2.3 2.3 0 1 0 -4.6 0zM420.17 707.38a2.3 2.3 0 1 0 4.6 0a2.3 2.3 0 1 0 -4.6 0zM432.55 707.38a2.3 2.3 0 1 0 4.6 0a2.3 2.3 0 1 0 -4.6 0zM444.93 707.38a2.3 2.3 0 1 0 4.6 0a2.3 2.3 0 1 0 -4.6 0zM457.31 707.38a2.3 2.3 0 1 0 4.6 0a2.3 2.3 0 1 0 -4.6 0zM469.69 707.38a2.3 2.3 0 1 0 4.6 0a2.3 2.3 0 1 0 -4.6 0zM482.07 707.38a2.3 2.3 0 1 0 4.6 0a2.3 2.3 0 1 0 -4.6 0zM494.45 707.38a2.3 2.3 0 1 0 4.6 0a2.3 2.3 0 1 0 -4.6 0zM506.83 707.38a2.3 2.3 0 1 0 4.6 0a2.3 2.3 0 1 0 -4.6 0zM519.21 707.38a2.3 2.3 0 1 0 4.6 0a2.3 2.3 0 1 0 -4.6 0zM531.59 707.38a2.3 2.3 0 1 0 4.6 0a2.3 2.3 0 1 0 -4.6 0zM543.96 707.38a2.3 2.3 0 1 0 4.6 0a2.3 2.3 0 1 0 -4.6 0zM556.34 707.38a2.3 2.3 0 1 0 4.6 0a2.3 2.3 0 1 0 -4.6 0zM568.72 707.38a2.3 2.3 0 1 0 4.6 0a2.3 2.3 0 1 0 -4.6 0zM581.1 707.38a2.3 2.3 0 1 0 4.6 0a2.3 2.3 0 1 0 -4.6 0zM593.48 707.38a2.3 2.3 0 1 0 4.6 0a2.3 2.3 0 1 0 -4.6 0zM605.86 707.38a2.3 2.3 0 1 0 4.6 0a2.3 2.3 0 1 0 -4.6 0zM618.24 707.38a2.3 2.3 0 1 0 4.6 0a2.3 2.3 0 1 0 -4.6 0zM630.62 707.38a2.3 2.3 0 1 0 4.6 0a2.3 2.3 0 1 0 -4.6 0zM643 707.38a2.3 2.3 0 1 0 4.6 0a2.3 2.3 0 1 0 -4.6 0zM655.38 707.38a2.3 2.3 0 1 0 4.6 0a2.3 2.3 0 1 0 -4.6 0zM667.75 707.38a2.3 2.3 0 1 0 4.6 0a2.3 2.3 0 1 0 -4.6 0zM680.13 707.38a2.3 2.3 0 1 0 4.6 0a2.3 2.3 0 1 0 -4.6 0zM692.51 707.38a2.3 2.3 0 1 0 4.6 0a2.3 2.3 0 1 0 -4.6 0zM704.89 707.38a2.3 2.3 0 1 0 4.6 0a2.3 2.3 0 1 0 -4.6 0zM717.27 707.38a2.3 2.3 0 1 0 4.6 0a2.3 2.3 0 1 0 -4.6 0zM729.65 707.38a2.3 2.3 0 1 0 4.6 0a2.3 2.3 0 1 0 -4.6 0zM742.03 707.38a2.3 2.3 0 1 0 4.6 0a2.3 2.3 0 1 0 -4.6 0zM754.41 707.38a2.3 2.3 0 1 0 4.6 0a2.3 2.3 0 1 0 -4.6 0zM766.79 707.38a2.3 2.3 0 1 0 4.6 0a2.3 2.3 0 1 0 -4.6 0zM779.16 707.38a2.3 2.3 0 1 0 4.6 0a2.3 2.3 0 1 0 -4.6 0zM791.54 707.38a2.3 2.3 0 1 0 4.6 0a2.3 2.3 0 1 0 -4.6 0zM803.92 707.38a2.3 2.3 0 1 0 4.6 0a2.3 2.3 0 1 0 -4.6 0zM816.3 707.38a2.3 2.3 0 1 0 4.6 0a2.3 2.3 0 1 0 -4.6 0zM828.68 707.38a2.3 2.3 0 1 0 4.6 0a2.3 2.3 0 1 0 -4.6 0zM841.06 707.38a2.3 2.3 0 1 0 4.6 0a2.3 2.3 0 1 0 -4.6 0zM853.44 707.38a2.3 2.3 0 1 0 4.6 0a2.3 2.3 0 1 0 -4.6 0zM865.82 707.38a2.3 2.3 0 1 0 4.6 0a2.3 2.3 0 1 0 -4.6 0zM878.2 707.38a2.3 2.3 0 1 0 4.6 0a2.3 2.3 0 1 0 -4.6 0zM890.58 707.38a2.3 2.3 0 1 0 4.6 0a2.3 2.3 0 1 0 -4.6 0zM902.95 707.38a2.3 2.3 0 1 0 4.6 0a2.3 2.3 0 1 0 -4.6 0zM915.33 707.38a2.3 2.3 0 1 0 4.6 0a2.3 2.3 0 1 0 -4.6 0zM927.71 707.38a2.3 2.3 0 1 0 4.6 0a2.3 2.3 0 1 0 -4.6 0zM940.09 707.38a2.3 2.3 0 1 0 4.6 0a2.3 2.3 0 1 0 -4.6 0zM952.47 707.38a2.3 2.3 0 1 0 4.6 0a2.3 2.3 0 1 0 -4.6 0zM964.85 707.38a2.3 2.3 0 1 0 4.6 0a2.3 2.3 0 1 0 -4.6 0zM977.23 707.38a2.3 2.3 0 1 0 4.6 0a2.3 2.3 0 1 0 -4.6 0zM989.61 707.38a2.3 2.3 0 1 0 4.6 0a2.3 2.3 0 1 0 -4.6 0zM1001.99 707.38a2.3 2.3 0 1 0 4.6 0a2.3 2.3 0 1 0 -4.6 0zM1014.37 707.38a2.3 2.3 0 1 0 4.6 0a2.3 2.3 0 1 0 -4.6 0zM1026.75 707.38a2.3 2.3 0 1 0 4.6 0a2.3 2.3 0 1 0 -4.6 0zM1039.12 707.38a2.3 2.3 0 1 0 4.6 0a2.3 2.3 0 1 0 -4.6 0zM1051.5 707.38a2.3 2.3 0 1 0 4.6 0a2.3 2.3 0 1 0 -4.6 0zM1063.88 707.38a2.3 2.3 0 1 0 4.6 0a2.3 2.3 0 1 0 -4.6 0zM1076.26 707.38a2.3 2.3 0 1 0 4.6 0a2.3 2.3 0 1 0 -4.6 0zM1088.64 707.38a2.3 2.3 0 1 0 4.6 0a2.3 2.3 0 1 0 -4.6 0zM1101.02 707.38a2.3 2.3 0 1 0 4.6 0a2.3 2.3 0 1 0 -4.6 0zM1113.4 707.38a2.3 2.3 0 1 0 4.6 0a2.3 2.3 0 1 0 -4.6 0zM370.66 744.6a2.3 2.3 0 1 0 4.6 0a2.3 2.3 0 1 0 -4.6 0zM383.04 744.6a2.3 2.3 0 1 0 4.6 0a2.3 2.3 0 1 0 -4.6 0zM395.42 744.6a2.3 2.3 0 1 0 4.6 0a2.3 2.3 0 1 0 -4.6 0zM407.79 744.6a2.3 2.3 0 1 0 4.6 0a2.3 2.3 0 1 0 -4.6 0zM420.17 744.6a2.3 2.3 0 1 0 4.6 0a2.3 2.3 0 1 0 -4.6 0zM444.93 744.6a2.3 2.3 0 1 0 4.6 0a2.3 2.3 0 1 0 -4.6 0zM457.31 744.6a2.3 2.3 0 1 0 4.6 0a2.3 2.3 0 1 0 -4.6 0zM469.69 744.6a2.3 2.3 0 1 0 4.6 0a2.3 2.3 0 1 0 -4.6 0zM482.07 744.6a2.3 2.3 0 1 0 4.6 0a2.3 2.3 0 1 0 -4.6 0zM494.45 744.6a2.3 2.3 0 1 0 4.6 0a2.3 2.3 0 1 0 -4.6 0zM519.21 744.6a2.3 2.3 0 1 0 4.6 0a2.3 2.3 0 1 0 -4.6 0zM531.59 744.6a2.3 2.3 0 1 0 4.6 0a2.3 2.3 0 1 0 -4.6 0zM543.96 744.6a2.3 2.3 0 1 0 4.6 0a2.3 2.3 0 1 0 -4.6 0zM556.34 744.6a2.3 2.3 0 1 0 4.6 0a2.3 2.3 0 1 0 -4.6 0zM568.72 744.6a2.3 2.3 0 1 0 4.6 0a2.3 2.3 0 1 0 -4.6 0zM593.48 744.6a2.3 2.3 0 1 0 4.6 0a2.3 2.3 0 1 0 -4.6 0zM605.86 744.6a2.3 2.3 0 1 0 4.6 0a2.3 2.3 0 1 0 -4.6 0zM618.24 744.6a2.3 2.3 0 1 0 4.6 0a2.3 2.3 0 1 0 -4.6 0zM630.62 744.6a2.3 2.3 0 1 0 4.6 0a2.3 2.3 0 1 0 -4.6 0zM643 744.6a2.3 2.3 0 1 0 4.6 0a2.3 2.3 0 1 0 -4.6 0zM667.75 744.6a2.3 2.3 0 1 0 4.6 0a2.3 2.3 0 1 0 -4.6 0zM680.13 744.6a2.3 2.3 0 1 0 4.6 0a2.3 2.3 0 1 0 -4.6 0zM692.51 744.6a2.3 2.3 0 1 0 4.6 0a2.3 2.3 0 1 0 -4.6 0zM704.89 744.6a2.3 2.3 0 1 0 4.6 0a2.3 2.3 0 1 0 -4.6 0zM717.27 744.6a2.3 2.3 0 1 0 4.6 0a2.3 2.3 0 1 0 -4.6 0zM742.03 744.6a2.3 2.3 0 1 0 4.6 0a2.3 2.3 0 1 0 -4.6 0zM754.41 744.6a2.3 2.3 0 1 0 4.6 0a2.3 2.3 0 1 0 -4.6 0zM766.79 744.6a2.3 2.3 0 1 0 4.6 0a2.3 2.3 0 1 0 -4.6 0zM779.16 744.6a2.3 2.3 0 1 0 4.6 0a2.3 2.3 0 1 0 -4.6 0zM791.54 744.6a2.3 2.3 0 1 0 4.6 0a2.3 2.3 0 1 0 -4.6 0zM816.3 744.6a2.3 2.3 0 1 0 4.6 0a2.3 2.3 0 1 0 -4.6 0zM828.68 744.6a2.3 2.3 0 1 0 4.6 0a2.3 2.3 0 1 0 -4.6 0zM841.06 744.6a2.3 2.3 0 1 0 4.6 0a2.3 2.3 0 1 0 -4.6 0zM853.44 744.6a2.3 2.3 0 1 0 4.6 0a2.3 2.3 0 1 0 -4.6 0zM865.82 744.6a2.3 2.3 0 1 0 4.6 0a2.3 2.3 0 1 0 -4.6 0zM890.58 744.6a2.3 2.3 0 1 0 4.6 0a2.3 2.3 0 1 0 -4.6 0zM902.95 744.6a2.3 2.3 0 1 0 4.6 0a2.3 2.3 0 1 0 -4.6 0zM915.33 744.6a2.3 2.3 0 1 0 4.6 0a2.3 2.3 0 1 0 -4.6 0zM927.71 744.6a2.3 2.3 0 1 0 4.6 0a2.3 2.3 0 1 0 -4.6 0zM940.09 744.6a2.3 2.3 0 1 0 4.6 0a2.3 2.3 0 1 0 -4.6 0zM964.85 744.6a2.3 2.3 0 1 0 4.6 0a2.3 2.3 0 1 0 -4.6 0zM977.23 744.6a2.3 2.3 0 1 0 4.6 0a2.3 2.3 0 1 0 -4.6 0zM989.61 744.6a2.3 2.3 0 1 0 4.6 0a2.3 2.3 0 1 0 -4.6 0zM1001.99 744.6a2.3 2.3 0 1 0 4.6 0a2.3 2.3 0 1 0 -4.6 0zM1014.37 744.6a2.3 2.3 0 1 0 4.6 0a2.3 2.3 0 1 0 -4.6 0zM1039.12 744.6a2.3 2.3 0 1 0 4.6 0a2.3 2.3 0 1 0 -4.6 0zM1051.5 744.6a2.3 2.3 0 1 0 4.6 0a2.3 2.3 0 1 0 -4.6 0zM1063.88 744.6a2.3 2.3 0 1 0 4.6 0a2.3 2.3 0 1 0 -4.6 0zM1076.26 744.6a2.3 2.3 0 1 0 4.6 0a2.3 2.3 0 1 0 -4.6 0zM1088.64 744.6a2.3 2.3 0 1 0 4.6 0a2.3 2.3 0 1 0 -4.6 0zM370.66 756.9a2.3 2.3 0 1 0 4.6 0a2.3 2.3 0 1 0 -4.6 0zM383.04 756.9a2.3 2.3 0 1 0 4.6 0a2.3 2.3 0 1 0 -4.6 0zM395.42 756.9a2.3 2.3 0 1 0 4.6 0a2.3 2.3 0 1 0 -4.6 0zM407.79 756.9a2.3 2.3 0 1 0 4.6 0a2.3 2.3 0 1 0 -4.6 0zM420.17 756.9a2.3 2.3 0 1 0 4.6 0a2.3 2.3 0 1 0 -4.6 0zM444.93 756.9a2.3 2.3 0 1 0 4.6 0a2.3 2.3 0 1 0 -4.6 0zM457.31 756.9a2.3 2.3 0 1 0 4.6 0a2.3 2.3 0 1 0 -4.6 0zM469.69 756.9a2.3 2.3 0 1 0 4.6 0a2.3 2.3 0 1 0 -4.6 0zM482.07 756.9a2.3 2.3 0 1 0 4.6 0a2.3 2.3 0 1 0 -4.6 0zM494.45 756.9a2.3 2.3 0 1 0 4.6 0a2.3 2.3 0 1 0 -4.6 0zM519.21 756.9a2.3 2.3 0 1 0 4.6 0a2.3 2.3 0 1 0 -4.6 0zM531.59 756.9a2.3 2.3 0 1 0 4.6 0a2.3 2.3 0 1 0 -4.6 0zM543.96 756.9a2.3 2.3 0 1 0 4.6 0a2.3 2.3 0 1 0 -4.6 0zM556.34 756.9a2.3 2.3 0 1 0 4.6 0a2.3 2.3 0 1 0 -4.6 0zM568.72 756.9a2.3 2.3 0 1 0 4.6 0a2.3 2.3 0 1 0 -4.6 0zM593.48 756.9a2.3 2.3 0 1 0 4.6 0a2.3 2.3 0 1 0 -4.6 0zM605.86 756.9a2.3 2.3 0 1 0 4.6 0a2.3 2.3 0 1 0 -4.6 0zM618.24 756.9a2.3 2.3 0 1 0 4.6 0a2.3 2.3 0 1 0 -4.6 0zM630.62 756.9a2.3 2.3 0 1 0 4.6 0a2.3 2.3 0 1 0 -4.6 0zM643 756.9a2.3 2.3 0 1 0 4.6 0a2.3 2.3 0 1 0 -4.6 0zM667.75 756.9a2.3 2.3 0 1 0 4.6 0a2.3 2.3 0 1 0 -4.6 0zM680.13 756.9a2.3 2.3 0 1 0 4.6 0a2.3 2.3 0 1 0 -4.6 0zM692.51 756.9a2.3 2.3 0 1 0 4.6 0a2.3 2.3 0 1 0 -4.6 0zM704.89 756.9a2.3 2.3 0 1 0 4.6 0a2.3 2.3 0 1 0 -4.6 0zM717.27 756.9a2.3 2.3 0 1 0 4.6 0a2.3 2.3 0 1 0 -4.6 0zM742.03 756.9a2.3 2.3 0 1 0 4.6 0a2.3 2.3 0 1 0 -4.6 0zM754.41 756.9a2.3 2.3 0 1 0 4.6 0a2.3 2.3 0 1 0 -4.6 0zM766.79 756.9a2.3 2.3 0 1 0 4.6 0a2.3 2.3 0 1 0 -4.6 0zM779.16 756.9a2.3 2.3 0 1 0 4.6 0a2.3 2.3 0 1 0 -4.6 0zM791.54 756.9a2.3 2.3 0 1 0 4.6 0a2.3 2.3 0 1 0 -4.6 0zM816.3 756.9a2.3 2.3 0 1 0 4.6 0a2.3 2.3 0 1 0 -4.6 0zM828.68 756.9a2.3 2.3 0 1 0 4.6 0a2.3 2.3 0 1 0 -4.6 0zM841.06 756.9a2.3 2.3 0 1 0 4.6 0a2.3 2.3 0 1 0 -4.6 0zM853.44 756.9a2.3 2.3 0 1 0 4.6 0a2.3 2.3 0 1 0 -4.6 0zM865.82 756.9a2.3 2.3 0 1 0 4.6 0a2.3 2.3 0 1 0 -4.6 0zM890.58 756.9a2.3 2.3 0 1 0 4.6 0a2.3 2.3 0 1 0 -4.6 0zM902.95 756.9a2.3 2.3 0 1 0 4.6 0a2.3 2.3 0 1 0 -4.6 0zM915.33 756.9a2.3 2.3 0 1 0 4.6 0a2.3 2.3 0 1 0 -4.6 0zM927.71 756.9a2.3 2.3 0 1 0 4.6 0a2.3 2.3 0 1 0 -4.6 0zM940.09 756.9a2.3 2.3 0 1 0 4.6 0a2.3 2.3 0 1 0 -4.6 0zM964.85 756.9a2.3 2.3 0 1 0 4.6 0a2.3 2.3 0 1 0 -4.6 0zM977.23 756.9a2.3 2.3 0 1 0 4.6 0a2.3 2.3 0 1 0 -4.6 0zM989.61 756.9a2.3 2.3 0 1 0 4.6 0a2.3 2.3 0 1 0 -4.6 0zM1001.99 756.9a2.3 2.3 0 1 0 4.6 0a2.3 2.3 0 1 0 -4.6 0zM1014.37 756.9a2.3 2.3 0 1 0 4.6 0a2.3 2.3 0 1 0 -4.6 0zM1039.12 756.9a2.3 2.3 0 1 0 4.6 0a2.3 2.3 0 1 0 -4.6 0zM1051.5 756.9a2.3 2.3 0 1 0 4.6 0a2.3 2.3 0 1 0 -4.6 0zM1063.88 756.9a2.3 2.3 0 1 0 4.6 0a2.3 2.3 0 1 0 -4.6 0zM1076.26 756.9a2.3 2.3 0 1 0 4.6 0a2.3 2.3 0 1 0 -4.6 0zM1088.64 756.9a2.3 2.3 0 1 0 4.6 0a2.3 2.3 0 1 0 -4.6 0z" fill="#333333"/>
<path d="M369.16 521.6a3.8 3.8 0 1 0 7.6 0a3.8 3.8 0 1 0 -7.6 0zM381.54 521.6a3.8 3.8 0 1 0 7.6 0a3.8 3.8 0 1 0 -7.6 0zM393.92 521.6a3.8 3.8 0 1 0 7.6 0a3.8 3.8 0 1 0 -7.6 0zM406.29 521.6a3.8 3.8 0 1 0 7.6 0a3.8 3.8 0 1 0 -7.6 0zM418.67 521.6a3.8 3.8 0 1 0 7.6 0a3.8 3.8 0 1 0 -7.6 0zM443.43 521.6a3.8 3.8 0 1 0 7.6 0a3.8 3.8 0 1 0 -7.6 0zM455.81 521.6a3.8 3.8 0 1 0 7.6 0a3.8 3.8 0 1 0 -7.6 0zM468.19 521.6a3.8 3.8 0 1 0 7.6 0a3.8 3.8 0 1 0 -7.6 0zM480.57 521.6a3.8 3.8 0 1 0 7.6 0a3.8 3.8 0 1 0 -7.6 0zM492.95 521.6a3.8 3.8 0 1 0 7.6 0a3.8 3.8 0 1 0 -7.6 0zM517.71 521.6a3.8 3.8 0 1 0 7.6 0a3.8 3.8 0 1 0 -7.6 0zM530.09 521.6a3.8 3.8 0 1 0 7.6 0a3.8 3.8 0 1 0 -7.6 0zM542.46 521.6a3.8 3.8 0 1 0 7.6 0a3.8 3.8 0 1 0 -7.6 0zM554.84 521.6a3.8 3.8 0 1 0 7.6 0a3.8 3.8 0 1 0 -7.6 0zM567.22 521.6a3.8 3.8 0 1 0 7.6 0a3.8 3.8 0 1 0 -7.6 0zM591.98 521.6a3.8 3.8 0 1 0 7.6 0a3.8 3.8 0 1 0 -7.6 0zM604.36 521.6a3.8 3.8 0 1 0 7.6 0a3.8 3.8 0 1 0 -7.6 0zM616.74 521.6a3.8 3.8 0 1 0 7.6 0a3.8 3.8 0 1 0 -7.6 0zM629.12 521.6a3.8 3.8 0 1 0 7.6 0a3.8 3.8 0 1 0 -7.6 0zM641.5 521.6a3.8 3.8 0 1 0 7.6 0a3.8 3.8 0 1 0 -7.6 0zM666.25 521.6a3.8 3.8 0 1 0 7.6 0a3.8 3.8 0 1 0 -7.6 0zM678.63 521.6a3.8 3.8 0 1 0 7.6 0a3.8 3.8 0 1 0 -7.6 0zM691.01 521.6a3.8 3.8 0 1 0 7.6 0a3.8 3.8 0 1 0 -7.6 0zM703.39 521.6a3.8 3.8 0 1 0 7.6 0a3.8 3.8 0 1 0 -7.6 0zM715.77 521.6a3.8 3.8 0 1 0 7.6 0a3.8 3.8 0 1 0 -7.6 0zM740.53 521.6a3.8 3.8 0 1 0 7.6 0a3.8 3.8 0 1 0 -7.6 0zM752.91 521.6a3.8 3.8 0 1 0 7.6 0a3.8 3.8 0 1 0 -7.6 0zM765.29 521.6a3.8 3.8 0 1 0 7.6 0a3.8 3.8 0 1 0 -7.6 0zM777.66 521.6a3.8 3.8 0 1 0 7.6 0a3.8 3.8 0 1 0 -7.6 0zM790.04 521.6a3.8 3.8 0 1 0 7.6 0a3.8 3.8 0 1 0 -7.6 0zM814.8 521.6a3.8 3.8 0 1 0 7.6 0a3.8 3.8 0 1 0 -7.6 0zM827.18 521.6a3.8 3.8 0 1 0 7.6 0a3.8 3.8 0 1 0 -7.6 0zM839.56 521.6a3.8 3.8 0 1 0 7.6 0a3.8 3.8 0 1 0 -7.6 0zM851.94 521.6a3.8 3.8 0 1 0 7.6 0a3.8 3.8 0 1 0 -7.6 0zM864.32 521.6a3.8 3.8 0 1 0 7.6 0a3.8 3.8 0 1 0 -7.6 0zM889.08 521.6a3.8 3.8 0 1 0 7.6 0a3.8 3.8 0 1 0 -7.6 0zM901.45 521.6a3.8 3.8 0 1 0 7.6 0a3.8 3.8 0 1 0 -7.6 0zM913.83 521.6a3.8 3.8 0 1 0 7.6 0a3.8 3.8 0 1 0 -7.6 0zM926.21 521.6a3.8 3.8 0 1 0 7.6 0a3.8 3.8 0 1 0 -7.6 0zM938.59 521.6a3.8 3.8 0 1 0 7.6 0a3.8 3.8 0 1 0 -7.6 0zM963.35 521.6a3.8 3.8 0 1 0 7.6 0a3.8 3.8 0 1 0 -7.6 0zM975.73 521.6a3.8 3.8 0 1 0 7.6 0a3.8 3.8 0 1 0 -7.6 0zM988.11 521.6a3.8 3.8 0 1 0 7.6 0a3.8 3.8 0 1 0 -7.6 0zM1000.49 521.6a3.8 3.8 0 1 0 7.6 0a3.8 3.8 0 1 0 -7.6 0zM1012.87 521.6a3.8 3.8 0 1 0 7.6 0a3.8 3.8 0 1 0 -7.6 0zM1037.62 521.6a3.8 3.8 0 1 0 7.6 0a3.8 3.8 0 1 0 -7.6 0zM1050 521.6a3.8 3.8 0 1 0 7.6 0a3.8 3.8 0 1 0 -7.6 0zM1062.38 521.6a3.8 3.8 0 1 0 7.6 0a3.8 3.8 0 1 0 -7.6 0zM1074.76 521.6a3.8 3.8 0 1 0 7.6 0a3.8 3.8 0 1 0 -7.6 0zM1087.14 521.6a3.8 3.8 0 1 0 7.6 0a3.8 3.8 0 1 0 -7.6 0zM369.16 533.8a3.8 3.8 0 1 0 7.6 0a3.8 3.8 0 1 0 -7.6 0zM381.54 533.8a3.8 3.8 0 1 0 7.6 0a3.8 3.8 0 1 0 -7.6 0zM393.92 533.8a3.8 3.8 0 1 0 7.6 0a3.8 3.8 0 1 0 -7.6 0zM406.29 533.8a3.8 3.8 0 1 0 7.6 0a3.8 3.8 0 1 0 -7.6 0zM418.67 533.8a3.8 3.8 0 1 0 7.6 0a3.8 3.8 0 1 0 -7.6 0zM443.43 533.8a3.8 3.8 0 1 0 7.6 0a3.8 3.8 0 1 0 -7.6 0zM455.81 533.8a3.8 3.8 0 1 0 7.6 0a3.8 3.8 0 1 0 -7.6 0zM468.19 533.8a3.8 3.8 0 1 0 7.6 0a3.8 3.8 0 1 0 -7.6 0zM480.57 533.8a3.8 3.8 0 1 0 7.6 0a3.8 3.8 0 1 0 -7.6 0zM492.95 533.8a3.8 3.8 0 1 0 7.6 0a3.8 3.8 0 1 0 -7.6 0zM517.71 533.8a3.8 3.8 0 1 0 7.6 0a3.8 3.8 0 1 0 -7.6 0zM530.09 533.8a3.8 3.8 0 1 0 7.6 0a3.8 3.8 0 1 0 -7.6 0zM542.46 533.8a3.8 3.8 0 1 0 7.6 0a3.8 3.8 0 1 0 -7.6 0zM554.84 533.8a3.8 3.8 0 1 0 7.6 0a3.8 3.8 0 1 0 -7.6 0zM567.22 533.8a3.8 3.8 0 1 0 7.6 0a3.8 3.8 0 1 0 -7.6 0zM591.98 533.8a3.8 3.8 0 1 0 7.6 0a3.8 3.8 0 1 0 -7.6 0zM604.36 533.8a3.8 3.8 0 1 0 7.6 0a3.8 3.8 0 1 0 -7.6 0zM616.74 533.8a3.8 3.8 0 1 0 7.6 0a3.8 3.8 0 1 0 -7.6 0zM629.12 533.8a3.8 3.8 0 1 0 7.6 0a3.8 3.8 0 1 0 -7.6 0zM641.5 533.8a3.8 3.8 0 1 0 7.6 0a3.8 3.8 0 1 0 -7.6 0zM666.25 533.8a3.8 3.8 0 1 0 7.6 0a3.8 3.8 0 1 0 -7.6 0zM678.63 533.8a3.8 3.8 0 1 0 7.6 0a3.8 3.8 0 1 0 -7.6 0zM691.01 533.8a3.8 3.8 0 1 0 7.6 0a3.8 3.8 0 1 0 -7.6 0zM703.39 533.8a3.8 3.8 0 1 0 7.6 0a3.8 3.8 0 1 0 -7.6 0zM715.77 533.8a3.8 3.8 0 1 0 7.6 0a3.8 3.8 0 1 0 -7.6 0zM740.53 533.8a3.8 3.8 0 1 0 7.6 0a3.8 3.8 0 1 0 -7.6 0zM752.91 533.8a3.8 3.8 0 1 0 7.6 0a3.8 3.8 0 1 0 -7.6 0zM765.29 533.8a3.8 3.8 0 1 0 7.6 0a3.8 3.8 0 1 0 -7.6 0zM777.66 533.8a3.8 3.8 0 1 0 7.6 0a3.8 3.8 0 1 0 -7.6 0zM790.04 533.8a3.8 3.8 0 1 0 7.6 0a3.8 3.8 0 1 0 -7.6 0zM814.8 533.8a3.8 3.8 0 1 0 7.6 0a3.8 3.8 0 1 0 -7.6 0zM827.18 533.8a3.8 3.8 0 1 0 7.6 0a3.8 3.8 0 1 0 -7.6 0zM839.56 533.8a3.8 3.8 0 1 0 7.6 0a3.8 3.8 0 1 0 -7.6 0zM851.94 533.8a3.8 3.8 0 1 0 7.6 0a3.8 3.8 0 1 0 -7.6 0zM864.32 533.8a3.8 3.8 0 1 0 7.6 0a3.8 3.8 0 1 0 -7.6 0zM889.08 533.8a3.8 3.8 0 1 0 7.6 0a3.8 3.8 0 1 0 -7.6 0zM901.45 533.8a3.8 3.8 0 1 0 7.6 0a3.8 3.8 0 1 0 -7.6 0zM913.83 533.8a3.8 3.8 0 1 0 7.6 0a3.8 3.8 0 1 0 -7.6 0zM926.21 533.8a3.8 3.8 0 1 0 7.6 0a3.8 3.8 0 1 0 -7.6 0zM938.59 533.8a3.8 3.8 0 1 0 7.6 0a3.8 3.8 0 1 0 -7.6 0zM963.35 533.8a3.8 3.8 0 1 0 7.6 0a3.8 3.8 0 1 0 -7.6 0zM975.73 533.8a3.8 3.8 0 1 0 7.6 0a3.8 3.8 0 1 0 -7.6 0zM988.11 533.8a3.8 3.8 0 1 0 7.6 0a3.8 3.8 0 1 0 -7.6 0zM1000.49 533.8a3.8 3.8 0 1 0 7.6 0a3.8 3.8 0 1 0 -7.6 0zM1012.87 533.8a3.8 3.8 0 1 0 7.6 0a3.8 3.8 0 1 0 -7.6 0zM1037.62 533.8a3.8 3.8 0 1 0 7.6 0a3.8 3.8 0 1 0 -7.6 0zM1050 533.8a3.8 3.8 0 1 0 7.6 0a3.8 3.8 0 1 0 -7.6 0zM1062.38 533.8a3.8 3.8 0 1 0 7.6 0a3.8 3.8 0 1 0 -7.6 0zM1074.76 533.8a3.8 3.8 0 1 0 7.6 0a3.8 3.8 0 1 0 -7.6 0zM1087.14 533.8a3.8 3.8 0 1 0 7.6 0a3.8 3.8 0 1 0 -7.6 0z" fill="#a8dca8"/>
<path d="M370.66 521.6a2.3 2.3 0 1 0 4.6 0a2.3 2.3 0 1 0 -4.6 0zM383.04 521.6a2.3 2.3 0 1 0 4.6 0a2.3 2.3 0 1 0 -4.6 0zM395.42 521.6a2.3 2.3 0 1 0 4.6 0a2.3 2.3 0 1 0 -4.6 0zM407.79 521.6a2.3 2.3 0 1 0 4.6 0a2.3 2.3 0 1 0 -4.6 0zM420.17 521.6a2.3 2.3 0 1 0 4.6 0a2.3 2.3 0 1 0 -4.6 0zM444.93 521.6a2.3 2.3 0 1 0 4.6 0a2.3 2.3 0 1 0 -4.6 0zM457.31 521.6a2.3 2.3 0 1 0 4.6 0a2.3 2.3 0 1 0 -4.6 0zM469.69 521.6a2.3 2.3 0 1 0 4.6 0a2.3 2.3 0 1 0 -4.6 0zM482.07 521.6a2.3 2.3 0 1 0 4.6 0a2.3 2.3 0 1 0 -4.6 0zM494.45 521.6a2.3 2.3 0 1 0 4.6 0a2.3 2.3 0 1 0 -4.6 0zM519.21 521.6a2.3 2.3 0 1 0 4.6 0a2.3 2.3 0 1 0 -4.6 0zM531.59 521.6a2.3 2.3 0 1 0 4.6 0a2.3 2.3 0 1 0 -4.6 0zM543.96 521.6a2.3 2.3 0 1 0 4.6 0a2.3 2.3 0 1 0 -4.6 0zM556.34 521.6a2.3 2.3 0 1 0 4.6 0a2.3 2.3 0 1 0 -4.6 0zM568.72 521.6a2.3 2.3 0 1 0 4.6 0a2.3 2.3 0 1 0 -4.6 0zM593.48 521.6a2.3 2.3 0 1 0 4.6 0a2.3 2.3 0 1 0 -4.6 0zM605.86 521.6a2.3 2.3 0 1 0 4.6 0a2.3 2.3 0 1 0 -4.6 0zM618.24 521.6a2.3 2.3 0 1 0 4.6 0a2.3 2.3 0 1 0 -4.6 0zM630.62 521.6a2.3 2.3 0 1 0 4.6 0a2.3 2.3 0 1 0 -4.6 0zM643 521.6a2.3 2.3 0 1 0 4.6 0a2.3 2.3 0 1 0 -4.6 0zM667.75 521.6a2.3 2.3 0 1 0 4.6 0a2.3 2.3 0 1 0 -4.6 0zM680.13 521.6a2.3 2.3 0 1 0 4.6 0a2.3 2.3 0 1 0 -4.6 0zM692.51 521.6a2.3 2.3 0 1 0 4.6 0a2.3 2.3 0 1 0 -4.6 0zM704.89 521.6a2.3 2.3 0 1 0 4.6 0a2.3 2.3 0 1 0 -4.6 0zM717.27 521.6a2.3 2.3 0 1 0 4.6 0a2.3 2.3 0 1 0 -4.6 0zM742.03 521.6a2.3 2.3 0 1 0 4.6 0a2.3 2.3 0 1 0 -4.6 0zM754.41 521.6a2.3 2.3 0 1 0 4.6 0a2.3 2.3 0 1 0 -4.6 0zM766.79 521.6a2.3 2.3 0 1 0 4.6 0a2.3 2.3 0 1 0 -4.6 0zM779.16 521.6a2.3 2.3 0 1 0 4.6 0a2.3 2.3 0 1 0 -4.6 0zM791.54 521.6a2.3 2.3 0 1 0 4.6 0a2.3 2.3 0 1 0 -4.6 0zM816.3 521.6a2.3 2.3 0 1 0 4.6 0a2.3 2.3 0 1 0 -4.6 0zM828.68 521.6a2.3 2.3 0 1 0 4.6 0a2.3 2.3 0 1 0 -4.6 0zM841.06 521.6a2.3 2.3 0 1 0 4.6 0a2.3 2.3 0 1 0 -4.6 0zM853.44 521.6a2.3 2.3 0 1 0 4.6 0a2.3 2.3 0 1 0 -4.6 0zM865.82 521.6a2.3 2.3 0 1 0 4.6 0a2.3 2.3 0 1 0 -4.6 0zM890.58 521.6a2.3 2.3 0 1 0 4.6 0a2.3 2.3 0 1 0 -4.6 0zM902.95 521.6a2.3 2.3 0 1 0 4.6 0a2.3 2.3 0 1 0 -4.6 0zM915.33 521.6a2.3 2.3 0 1 0 4.6 0a2.3 2.3 0 1 0 -4.6 0zM927.71 521.6a2.3 2.3 0 1 0 4.6 0a2.3 2.3 0 1 0 -4.6 0zM940.09 521.6a2.3 2.3 0 1 0 4.6 0a2.3 2.3 0 1 0 -4.6 0zM964.85 521.6a2.3 2.3 0 1 0 4.6 0a2.3 2.3 0 1 0 -4.6 0zM977.23 521.6a2.3 2.3 0 1 0 4.6 0a2.3 2.3 0 1 0 -4.6 0zM989.61 521.6a2.3 2.3 0 1 0 4.6 0a2.3 2.3 0 1 0 -4.6 0zM1001.99 521.6a2.3 2.3 0 1 0 4.6 0a2.3 2.3 0 1 0 -4.6 0zM1014.37 521.6a2.3 2.3 0 1 0 4.6 0a2.3 2.3 0 1 0 -4.6 0zM1039.12 521.6a2.3 2.3 0 1 0 4.6 0a2.3 2.3 0 1 0 -4.6 0zM1051.5 521.6a2.3 2.3 0 1 0 4.6 0a2.3 2.3 0 1 0 -4.6 0zM1063.88 521.6a2.3 2.3 0 1 0 4.6 0a2.3 2.3 0 1 0 -4.6 0zM1076.26 521.6a2.3 2.3 0 1 0 4.6 0a2.3 2.3 0 1 0 -4.6 0zM1088.64 521.6a2.3 2.3 0 1 0 4.6 0a2.3 2.3 0 1 0 -4.6 0zM370.66 533.8a2.3 2.3 0 1 0 4.6 0a2.3 2.3 0 1 0 -4.6 0zM383.04 533.8a2.3 2.3 0 1 0 4.6 0a2.3 2.3 0 1 0 -4.6 0zM395.42 533.8a2.3 2.3 0 1 0 4.6 0a2.3 2.3 0 1 0 -4.6 0zM407.79 533.8a2.3 2.3 0 1 0 4.6 0a2.3 2.3 0 1 0 -4.6 0zM420.17 533.8a2.3 2.3 0 1 0 4.6 0a2.3 2.3 0 1 0 -4.6 0zM444.93 533.8a2.3 2.3 0 1 0 4.6 0a2.3 2.3 0 1 0 -4.6 0zM457.31 533.8a2.3 2.3 0 1 0 4.6 0a2.3 2.3 0 1 0 -4.6 0zM469.69 533.8a2.3 2.3 0 1 0 4.6 0a2.3 2.3 0 1 0 -4.6 0zM482.07 533.8a2.3 2.3 0 1 0 4.6 0a2.3 2.3 0 1 0 -4.6 0zM494.45 533.8a2.3 2.3 0 1 0 4.6 0a2.3 2.3 0 1 0 -4.6 0zM519.21 533.8a2.3 2.3 0 1 0 4.6 0a2.3 2.3 0 1 0 -4.6 0zM531.59 533.8a2.3 2.3 0 1 0 4.6 0a2.3 2.3 0 1 0 -4.6 0zM543.96 533.8a2.3 2.3 0 1 0 4.6 0a2.3 2.3 0 1 0 -4.6 0zM556.34 533.8a2.3 2.3 0 1 0 4.6 0a2.3 2.3 0 1 0 -4.6 0zM568.72 533.8a2.3 2.3 0 1 0 4.6 0a2.3 2.3 0 1 0 -4.6 0zM593.48 533.8a2.3 2.3 0 1 0 4.6 0a2.3 2.3 0 1 0 -4.6 0zM605.86 533.8a2.3 2.3 0 1 0 4.6 0a2.3 2.3 0 1 0 -4.6 0zM618.24 533.8a2.3 2.3 0 1 0 4.6 0a2.3 2.3 0 1 0 -4.6 0zM630.62 533.8a2.3 2.3 0 1 0 4.6 0a2.3 2.3 0 1 0 -4.6 0zM643 533.8a2.3 2.3 0 1 0 4.6 0a2.3 2.3 0 1 0 -4.6 0zM667.75 533.8a2.3 2.3 0 1 0 4.6 0a2.3 2.3 0 1 0 -4.6 0zM680.13 533.8a2.3 2.3 0 1 0 4.6 0a2.3 2.3 0 1 0 -4.6 0zM692.51 533.8a2.3 2.3 0 1 0 4.6 0a2.3 2.3 0 1 0 -4.6 0zM704.89 533.8a2.3 2.3 0 1 0 4.6 0a2.3 2.3 0 1 0 -4.6 0zM717.27 533.8a2.3 2.3 0 1 0 4.6 0a2.3 2.3 0 1 0 -4.6 0zM742.03 533.8a2.3 2.3 0 1 0 4.6 0a2.3 2.3 0 1 0 -4.6 0zM754.41 533.8a2.3 2.3 0 1 0 4.6 0a2.3 2.3 0 1 0 -4.6 0zM766.79 533.8a2.3 2.3 0 1 0 4.6 0a2.3 2.3 0 1 0 -4.6 0zM779.16 533.8a2.3 2.3 0 1 0 4.6 0a2.3 2.3 0 1 0 -4.6 0zM791.54 533.8a2.3 2.3 0 1 0 4.6 0a2.3 2.3 0 1 0 -4.6 0zM816.3 533.8a2.3 2.3 0 1 0 4.6 0a2.3 2.3 0 1 0 -4.6 0zM828.68 533.8a2.3 2.3 0 1 0 4.6 0a2.3 2.3 0 1 0 -4.6 0zM841.06 533.8a2.3 2.3 0 1 0 4.6 0a2.3 2.3 0 1 0 -4.6 0zM853.44 533.8a2.3 2.3 0 1 0 4.6 0a2.3 2.3 0 1 0 -4.6 0zM865.82 533.8a2.3 2.3 0 1 0 4.6 0a2.3 2.3 0 1 0 -4.6 0zM890.58 533.8a2.3 2.3 0 1 0 4.6 0a2.3 2.3 0 1 0 -4.6 0zM902.95 533.8a2.3 2.3 0 1 0 4.6 0a2.3 2.3 0 1 0 -4.6 0zM915.33 533.8a2.3 2.3 0 1 0 4.6 0a2.3 2.3 0 1 0 -4.6 0zM927.71 533.8a2.3 2.3 0 1 0 4.6 0a2.3 2.3 0 1 0 -4.6 0zM940.09 533.8a2.3 2.3 0 1 0 4.6 0a2.3 2.3 0 1 0 -4.6 0zM964.85 533.8a2.3 2.3 0 1 0 4.6 0a2.3 2.3 0 1 0 -4.6 0zM977.23 533.8a2.3 2.3 0 1 0 4.6 0a2.3 2.3 0 1 0 -4.6 0zM989.61 533.8a2.3 2.3 0 1 0 4.6 0a2.3 2.3 0 1 0 -4.6 0zM1001.99 533.8a2.3 2.3 0 1 0 4.6 0a2.3 2.3 0 1 0 -4.6 0zM1014.37 533.8a2.3 2.3 0 1 0 4.6 0a2.3 2.3 0 1 0 -4.6 0zM1039.12 533.8a2.3 2.3 0 1 0 4.6 0a2.3 2.3 0 1 0 -4.6 0zM1051.5 533.8a2.3 2.3 0 1 0 4.6 0a2.3 2.3 0 1 0 -4.6 0zM1063.88 533.8a2.3 2.3 0 1 0 4.6 0a2.3 2.3 0 1 0 -4.6 0zM1076.26 533.8a2.3 2.3 0 1 0 4.6 0a2.3 2.3 0 1 0 -4.6 0zM1088.64 533.8a2.3 2.3 0 1 0 4.6 0a2.3 2.3 0 1 0 -4.6 0z" fill="#1e6e2a"/>
<g font-family="Liberation Mono" font-size="7.5" fill="#bdbdbd"><text transform="translate(348.2 557.5) rotate(-90)" text-anchor="middle" dy="2.5">1</text><text transform="translate(348.2 724.2) rotate(-90)" text-anchor="middle" dy="2.5">1</text><text transform="translate(397.72 557.5) rotate(-90)" text-anchor="middle" dy="2.5">5</text><text transform="translate(397.72 724.2) rotate(-90)" text-anchor="middle" dy="2.5">5</text><text transform="translate(459.61 557.5) rotate(-90)" text-anchor="middle" dy="2.5">10</text><text transform="translate(459.61 724.2) rotate(-90)" text-anchor="middle" dy="2.5">10</text><text transform="translate(521.51 557.5) rotate(-90)" text-anchor="middle" dy="2.5">15</text><text transform="translate(521.51 724.2) rotate(-90)" text-anchor="middle" dy="2.5">15</text><text transform="translate(583.4 557.5) rotate(-90)" text-anchor="middle" dy="2.5">20</text><text transform="translate(583.4 724.2) rotate(-90)" text-anchor="middle" dy="2.5">20</text><text transform="translate(645.3 557.5) rotate(-90)" text-anchor="middle" dy="2.5">25</text><text transform="translate(645.3 724.2) rotate(-90)" text-anchor="middle" dy="2.5">25</text><text transform="translate(707.19 557.5) rotate(-90)" text-anchor="middle" dy="2.5">30</text><text transform="translate(707.19 724.2) rotate(-90)" text-anchor="middle" dy="2.5">30</text><text transform="translate(769.09 557.5) rotate(-90)" text-anchor="middle" dy="2.5">35</text><text transform="translate(769.09 724.2) rotate(-90)" text-anchor="middle" dy="2.5">35</text><text transform="translate(830.98 557.5) rotate(-90)" text-anchor="middle" dy="2.5">40</text><text transform="translate(830.98 724.2) rotate(-90)" text-anchor="middle" dy="2.5">40</text><text transform="translate(892.88 557.5) rotate(-90)" text-anchor="middle" dy="2.5">45</text><text transform="translate(892.88 724.2) rotate(-90)" text-anchor="middle" dy="2.5">45</text><text transform="translate(954.77 557.5) rotate(-90)" text-anchor="middle" dy="2.5">50</text><text transform="translate(954.77 724.2) rotate(-90)" text-anchor="middle" dy="2.5">50</text><text transform="translate(1016.67 557.5) rotate(-90)" text-anchor="middle" dy="2.5">55</text><text transform="translate(1016.67 724.2) rotate(-90)" text-anchor="middle" dy="2.5">55</text><text transform="translate(1078.56 557.5) rotate(-90)" text-anchor="middle" dy="2.5">60</text><text transform="translate(1078.56 724.2) rotate(-90)" text-anchor="middle" dy="2.5">60</text><text transform="translate(337 571.2) rotate(-90)" text-anchor="middle" dy="2.5">J</text><text transform="translate(1126 571.2) rotate(-90)" text-anchor="middle" dy="2.5">J</text><text transform="translate(337 583.57) rotate(-90)" text-anchor="middle" dy="2.5">I</text><text transform="translate(1126 583.57) rotate(-90)" text-anchor="middle" dy="2.5">I</text><text transform="translate(337 595.94) rotate(-90)" text-anchor="middle" dy="2.5">H</text><text transform="translate(1126 595.94) rotate(-90)" text-anchor="middle" dy="2.5">H</text><text transform="translate(337 608.31) rotate(-90)" text-anchor="middle" dy="2.5">G</text><text transform="translate(1126 608.31) rotate(-90)" text-anchor="middle" dy="2.5">G</text><text transform="translate(337 620.68) rotate(-90)" text-anchor="middle" dy="2.5">F</text><text transform="translate(1126 620.68) rotate(-90)" text-anchor="middle" dy="2.5">F</text><text transform="translate(337 657.9) rotate(-90)" text-anchor="middle" dy="2.5">E</text><text transform="translate(1126 657.9) rotate(-90)" text-anchor="middle" dy="2.5">E</text><text transform="translate(337 670.27) rotate(-90)" text-anchor="middle" dy="2.5">D</text><text transform="translate(1126 670.27) rotate(-90)" text-anchor="middle" dy="2.5">D</text><text transform="translate(337 682.64) rotate(-90)" text-anchor="middle" dy="2.5">C</text><text transform="translate(1126 682.64) rotate(-90)" text-anchor="middle" dy="2.5">C</text><text transform="translate(337 695.01) rotate(-90)" text-anchor="middle" dy="2.5">B</text><text transform="translate(1126 695.01) rotate(-90)" text-anchor="middle" dy="2.5">B</text><text transform="translate(337 707.38) rotate(-90)" text-anchor="middle" dy="2.5">A</text><text transform="translate(1126 707.38) rotate(-90)" text-anchor="middle" dy="2.5">A</text></g>
</g>
<g id="arduino"><path d="M824.2 101.3H1133.3L1140 107.8V163.3L1152.5 176.7V336L1140.8 348.4V357.5Q1140.8 360.5 1137.8 360.5H824.2Q819.2 360.5 819.2 355.5V106.3Q819.2 101.3 824.2 101.3ZM885.2 113.3a7.8 7.8 0 1 0 15.6 0a7.8 7.8 0 1 0 -15.6 0zM1132.7 187.8a7.8 7.8 0 1 0 15.6 0a7.8 7.8 0 1 0 -15.6 0zM878.9 348.5a7.8 7.8 0 1 0 15.6 0a7.8 7.8 0 1 0 -15.6 0zM1132.6 323.4a7.8 7.8 0 1 0 15.6 0a7.8 7.8 0 1 0 -15.6 0z" fill="#107291" fill-rule="evenodd"/><rect x="818.7" y="140.8" width="8" height="69.2" fill="#a3a3a3"/><rect x="788" y="147.5" width="76.2" height="55.5" fill="#b4b4b4"/><rect x="788" y="147.5" width="12.8" height="55.5" fill="#9a9a9a"/><rect x="825.6" y="106.3" width="45.4" height="4" fill="#e6e6e6"/><rect x="825.6" y="116.7" width="45.4" height="4" fill="#e6e6e6"/><rect x="825.6" y="127.5" width="45.4" height="4" fill="#e6e6e6"/><rect x="830" y="103" width="35.8" height="31.7" fill="#d2d2d2"/><circle cx="847.8" cy="118.7" r="8.6" fill="#9e1c1c" stroke="#7a1414" stroke-width="0.6"/><rect x="904" y="108" width="123.5" height="10.8" fill="#3f3f3f"/><rect x="907.7" y="111.1" width="4.6" height="4.6" fill="#0e0e0e"/><rect x="920.07" y="111.1" width="4.6" height="4.6" fill="#0e0e0e"/><rect x="932.44" y="111.1" width="4.6" height="4.6" fill="#0e0e0e"/><rect x="944.81" y="111.1" width="4.6" height="4.6" fill="#1f5a1f"/><rect x="957.18" y="111.1" width="4.6" height="4.6" fill="#0e0e0e"/><rect x="969.55" y="111.1" width="4.6" height="4.6" fill="#0e0e0e"/><rect x="981.92" y="111.1" width="4.6" height="4.6" fill="#0e0e0e"/><rect x="994.29" y="111.1" width="4.6" height="4.6" fill="#0e0e0e"/><rect x="1006.66" y="111.1" width="4.6" height="4.6" fill="#0e0e0e"/><rect x="1019.03" y="111.1" width="4.6" height="4.6" fill="#0e0e0e"/><rect x="1035.8" y="108" width="97.5" height="10.8" fill="#3f3f3f"/><rect x="1038.5" y="111.1" width="4.6" height="4.6" fill="#0e0e0e"/><rect x="1050.87" y="111.1" width="4.6" height="4.6" fill="#0e0e0e"/><rect x="1063.24" y="111.1" width="4.6" height="4.6" fill="#0e0e0e"/><rect x="1075.61" y="111.1" width="4.6" height="4.6" fill="#0e0e0e"/><rect x="1087.98" y="111.1" width="4.6" height="4.6" fill="#0e0e0e"/><rect x="1100.35" y="111.1" width="4.6" height="4.6" fill="#0e0e0e"/><rect x="1112.72" y="111.1" width="4.6" height="4.6" fill="#0e0e0e"/><rect x="1125.09" y="111.1" width="4.6" height="4.6" fill="#0e0e0e"/><rect x="949.4" y="343.2" width="98.3" height="10.8" fill="#3f3f3f"/><rect x="952.5" y="346.3" width="4.6" height="4.6" fill="#0e0e0e"/><rect x="964.87" y="346.3" width="4.6" height="4.6" fill="#0e0e0e"/><rect x="977.24" y="346.3" width="4.6" height="4.6" fill="#0e0e0e"/><rect x="989.61" y="346.3" width="4.6" height="4.6" fill="#0e0e0e"/><rect x="1001.98" y="346.3" width="4.6" height="4.6" fill="#0e0e0e"/><rect x="1014.35" y="346.3" width="4.6" height="4.6" fill="#1f5a1f"/><rect x="1026.72" y="346.3" width="4.6" height="4.6" fill="#1f5a1f"/><rect x="1039.09" y="346.3" width="4.6" height="4.6" fill="#0e0e0e"/><rect x="1060.3" y="343.2" width="73.2" height="10.8" fill="#3f3f3f"/><rect x="1063.7" y="346.3" width="4.6" height="4.6" fill="#0e0e0e"/><rect x="1076.07" y="346.3" width="4.6" height="4.6" fill="#0e0e0e"/><rect x="1088.44" y="346.3" width="4.6" height="4.6" fill="#0e0e0e"/><rect x="1100.81" y="346.3" width="4.6" height="4.6" fill="#0e0e0e"/><rect x="1113.18" y="346.3" width="4.6" height="4.6" fill="#0e0e0e"/><rect x="1125.55" y="346.3" width="4.6" height="4.6" fill="#0e0e0e"/><rect x="889.7" y="124" width="35.6" height="23" rx="2" fill="#3f3f3f"/><rect x="893.2" y="127.5" width="4.2" height="4.2" fill="#c9bda0"/><rect x="893.2" y="139.9" width="4.2" height="4.2" fill="#c9bda0"/><rect x="905.6" y="127.5" width="4.2" height="4.2" fill="#c9bda0"/><rect x="905.6" y="139.9" width="4.2" height="4.2" fill="#c9bda0"/><rect x="917.9" y="127.5" width="4.2" height="4.2" fill="#c9bda0"/><rect x="917.9" y="139.9" width="4.2" height="4.2" fill="#c9bda0"/><circle cx="926.6" cy="123.2" r="1.1" fill="#fff"/><rect x="1124" y="206.7" width="22.7" height="36.3" rx="2" fill="#3f3f3f"/><rect x="1127.2" y="209.7" width="4.2" height="4.2" fill="#c9bda0"/><rect x="1139.5" y="209.7" width="4.2" height="4.2" fill="#58b048"/><rect x="1127.2" y="222.2" width="4.2" height="4.2" fill="#c9bda0"/><rect x="1139.5" y="222.2" width="4.2" height="4.2" fill="#c9bda0"/><rect x="1127.2" y="234.6" width="4.2" height="4.2" fill="#c9bda0"/><rect x="1139.5" y="234.6" width="4.2" height="4.2" fill="#58b048"/><rect x="904" y="180" width="24" height="24" fill="#333333"/><rect x="954.8" y="268.2" width="179.9" height="26.3" fill="#333333"/><rect x="838.6" y="267.7" width="10" height="17.1" fill="#a9a9a9"/><rect x="864" y="262" width="9.2" height="6.3" fill="#a9a9a9"/><rect x="864" y="273" width="9.2" height="6.3" fill="#a9a9a9"/><rect x="864" y="284.8" width="9.2" height="6.3" fill="#a9a9a9"/><rect x="848.1" y="260.5" width="16.5" height="32" fill="#333333"/><rect x="874" y="315" width="3" height="15" fill="#555"/><rect x="810.4" y="301" width="64.1" height="43.5" fill="#262626"/><rect x="810.4" y="301" width="13.6" height="43.5" fill="#1c1c1c"/><rect x="824" y="303" width="50.5" height="2" fill="#333"/><rect x="892.6" y="300.2" width="31.6" height="32.2" rx="3" fill="#2b2f33"/><circle cx="908.4" cy="316.2" r="14.8" fill="#e8e8e8"/><path d="M896 324.3A14.8 14.8 0 0 0 920.8 324.3Z" fill="#0e0e0e"/><rect x="907.8" y="298.6" width="1.2" height="1.6" fill="#dfe" /><rect x="907.8" y="332.6" width="1.2" height="1.6" fill="#dfe"/><rect x="927.3" y="300.2" width="31.6" height="32.2" rx="3" fill="#2b2f33"/><circle cx="943.1" cy="316.2" r="14.8" fill="#e8e8e8"/><path d="M930.7 324.3A14.8 14.8 0 0 0 955.5 324.3Z" fill="#0e0e0e"/><rect x="942.5" y="298.6" width="1.2" height="1.6" fill="#dfe" /><rect x="942.5" y="332.6" width="1.2" height="1.6" fill="#dfe"/><rect x="947.5" y="156.3" width="13.3" height="7" fill="#f0efe2" stroke="#d8d8cc" stroke-width="0.8"/><rect x="947.5" y="179" width="13.3" height="7" fill="#f0efe2" stroke="#d8d8cc" stroke-width="0.8"/><rect x="947.5" y="190.3" width="13.3" height="7" fill="#f0efe2" stroke="#d8d8cc" stroke-width="0.8"/><rect x="1101.3" y="180" width="12.4" height="6.7" fill="#f0efe2" stroke="#d8d8cc" stroke-width="0.8"/><path d="M946.7 151.3H1131.7M985 318.1H1048M1062.4 318.1H1131.7" stroke="#e8f4f8" stroke-width="1.3"/><path d="M1004.4 170.2C999 163 994.5 158.5 988.5 158.5C982 158.5 977 163.5 977 170.2C977 177 982 181.9 988.5 181.9C994.5 181.9 999 177.4 1004.4 170.2C1009.8 163 1014.2 158.5 1020.2 158.5C1026.7 158.5 1031.8 163.5 1031.8 170.2C1031.8 177 1026.7 181.9 1020.2 181.9C1014.2 181.9 1009.8 177.4 1004.4 170.2Z" fill="none" stroke="#fff" stroke-width="4.6"/><path d="M984.9 168.1h9.2v3.1h-9.2zM1014.1 168h9.7v3.1h-9.7zM1017.4 164.9h3.1v9.2h-3.1z" fill="#fff"/><rect x="1038.8" y="156.9" width="57.4" height="26" rx="13" fill="none" stroke="#fff" stroke-width="1.2" stroke-dasharray="1.2 1.2"/><path d="M1046.4 162.2V171.6Q1046.4 177.4 1050.2 177.4Q1053.6 177.4 1053.6 171.6V162.2M1060.1 177.8V162.2L1070 177.8V162.2" fill="none" stroke="#fff" stroke-width="1.6"/><ellipse cx="1082.5" cy="170" rx="6.4" ry="7.8" fill="none" stroke="#fff" stroke-width="1.6"/><text x="976.3" y="195.9" font-family="Liberation Mono" font-size="12" fill="#fff" textLength="51" lengthAdjust="spacingAndGlyphs">Arduino</text><text x="1028" y="189.5" font-family="Liberation Sans" font-size="4" fill="#fff">TM</text><path d="M1115.02 128.9L1112.42 133.6H1117.62 Z" fill="#e4f2f7"/><path d="M1127.39 133.6L1124.79 128.9H1129.99 Z" fill="#e4f2f7"/><g font-family="Liberation Mono" fill="#e4f2f7"><text x="847.7" y="141.4" text-anchor="middle" font-size="7.8">RESET</text><text x="903" y="156.3" text-anchor="middle" font-size="7.8">ICSP2</text><text x="940.2" y="163.3" font-size="7.8">L</text><text x="933.8" y="186.1" font-size="7.8" letter-spacing="0.9">TX</text><text x="933.8" y="197.4" font-size="7.8" letter-spacing="0.9">RX</text><text x="1116.6" y="186.2" text-anchor="start" font-size="8.4">ON</text><text x="1104.5" y="148" text-anchor="end" font-size="7.4">DIGITAL (PWM=~)</text><text x="1047.7" y="326" text-anchor="end" font-size="7.4">POWER</text><text x="1131" y="326" text-anchor="end" font-size="7.4">ANALOG IN</text><text transform="translate(937.34 122.5) rotate(-90)" text-anchor="end" font-size="7.4">AREF</text><text transform="translate(949.71 122.5) rotate(-90)" text-anchor="end" font-size="7.4">GND</text><text transform="translate(962.08 122.5) rotate(-90)" text-anchor="end" font-size="7.4">13</text><text transform="translate(974.45 122.5) rotate(-90)" text-anchor="end" font-size="7.4">12</text><text transform="translate(986.82 122.5) rotate(-90)" text-anchor="end" font-size="7.4">~11</text><text transform="translate(999.19 122.5) rotate(-90)" text-anchor="end" font-size="7.4">~10</text><text transform="translate(1011.56 122.5) rotate(-90)" text-anchor="end" font-size="7.4">~9</text><text transform="translate(1023.93 122.5) rotate(-90)" text-anchor="end" font-size="7.4">8</text><text transform="translate(1043.4 122.5) rotate(-90)" text-anchor="end" font-size="7.4">7</text><text transform="translate(1055.77 122.5) rotate(-90)" text-anchor="end" font-size="7.4">~6</text><text transform="translate(1068.14 122.5) rotate(-90)" text-anchor="end" font-size="7.4">~5</text><text transform="translate(1080.51 122.5) rotate(-90)" text-anchor="end" font-size="7.4">4</text><text transform="translate(1092.88 122.5) rotate(-90)" text-anchor="end" font-size="7.4">~3</text><text transform="translate(1105.25 122.5) rotate(-90)" text-anchor="end" font-size="7.4">2</text><text transform="translate(1117.62 147.7) rotate(-90)" text-anchor="start" font-size="7.4">TX0</text><text transform="translate(1117.62 122.5) rotate(-90)" text-anchor="end" font-size="7.4">1</text><text transform="translate(1129.99 147.7) rotate(-90)" text-anchor="start" font-size="7.4">RX0</text><text transform="translate(1129.99 122.5) rotate(-90)" text-anchor="end" font-size="7.4">0</text><text transform="translate(969.77 339.3) rotate(-90)" text-anchor="start" font-size="7.4">IOREF</text><text transform="translate(982.14 339.3) rotate(-90)" text-anchor="start" font-size="7.4">RESET</text><text transform="translate(994.51 339.3) rotate(-90)" text-anchor="start" font-size="7.4">3V3</text><text transform="translate(1006.88 339.3) rotate(-90)" text-anchor="start" font-size="7.4">5V</text><text transform="translate(1019.25 339.3) rotate(-90)" text-anchor="start" font-size="7.4">GND</text><text transform="translate(1031.62 339.3) rotate(-90)" text-anchor="start" font-size="7.4">GND</text><text transform="translate(1043.99 339.3) rotate(-90)" text-anchor="start" font-size="7.4">VIN</text><text transform="translate(1068.6 339.3) rotate(-90)" text-anchor="start" font-size="7.4">A0</text><text transform="translate(1080.97 339.3) rotate(-90)" text-anchor="start" font-size="7.4">A1</text><text transform="translate(1093.34 339.3) rotate(-90)" text-anchor="start" font-size="7.4">A2</text><text transform="translate(1105.71 339.3) rotate(-90)" text-anchor="start" font-size="7.4">A3</text><text transform="translate(1118.08 339.3) rotate(-90)" text-anchor="start" font-size="7.4">A4</text><text transform="translate(1130.45 339.3) rotate(-90)" text-anchor="start" font-size="7.4">A5</text><text transform="translate(1121 243) rotate(-90)" text-anchor="start" font-size="7.8">ICSP</text><text x="1117.2" y="212.6" text-anchor="start" font-size="7.4">1</text></g></g>
<g transform="translate(0 0)"><path d="M47.4 337.2H61.2L67.7 347.7V349H47.4Z" fill="#9a9a9a"/><rect x="47.4" y="348.9" width="20.3" height="2" fill="#555"/><path d="M173.8 337.2H187.7V349H167.7V343.5Z" fill="#9a9a9a"/><rect x="167.7" y="348.9" width="20" height="2" fill="#555"/><path d="M61.2 303.4L66.8 297.9H167.7L173.8 303.8V320.3L167.7 326.2H67.7L61.2 319.2Z" fill="#999999"/><path d="M61.2 319.2L67.7 325.8V394.6L61.2 388.5Z" fill="#000000"/><path d="M167.7 326.2L173.8 320.3V389.2L167.7 394.6Z" fill="#777777"/><rect x="67.7" y="325.8" width="100" height="68.8" fill="#333333"/><path d="M47.4 337.2H61.2L67.7 347.7V349H47.4Z" fill="#9a9a9a"/><rect x="47.4" y="348.9" width="20.3" height="2" fill="#555"/><path d="M173.8 337.2H187.7V349H167.7V343.5Z" fill="#9a9a9a"/><rect x="167.7" y="348.9" width="20" height="2" fill="#555"/><path d="M55.5 284.5C58 281.5 64 281.5 66.5 284.5L95 296.2C103 297.5 107 301 107 306.5C107 313 100 317 91.5 317C86 317 80.5 315 77 311.5L54.5 292C52 289.5 53 286.5 55.5 284.5Z" fill="#cfcfcf" transform="translate(0 1.6)"/><path d="M55.5 284.5C58 281.5 64 281.5 66.5 284.5L95 296.2C103 297.5 107 301 107 306.5C107 313 100 317 91.5 317C86 317 80.5 315 77 311.5L54.5 292C52 289.5 53 286.5 55.5 284.5Z" fill="#ffffff"/><path d="M56 285.5C58 283 63.5 283 65.5 285.5" fill="none" stroke="#b8b8b8" stroke-width="0.8"/><ellipse cx="91" cy="305.8" rx="9.8" ry="5.9" fill="#8f8f8f"/><text transform="translate(113.8 313.9) scale(1.2 1)" font-family="Liberation Sans" font-weight="bold" font-size="9.6" fill="#e9c23a" stroke="#e9c23a" stroke-width="0.5" textLength="38.8" lengthAdjust="spacing">SERVO</text></g>
<g transform="translate(0 161)"><path d="M47.4 337.2H61.2L67.7 347.7V349H47.4Z" fill="#9a9a9a"/><rect x="47.4" y="348.9" width="20.3" height="2" fill="#555"/><path d="M173.8 337.2H187.7V349H167.7V343.5Z" fill="#9a9a9a"/><rect x="167.7" y="348.9" width="20" height="2" fill="#555"/><path d="M61.2 303.4L66.8 297.9H167.7L173.8 303.8V320.3L167.7 326.2H67.7L61.2 319.2Z" fill="#999999"/><path d="M61.2 319.2L67.7 325.8V394.6L61.2 388.5Z" fill="#000000"/><path d="M167.7 326.2L173.8 320.3V389.2L167.7 394.6Z" fill="#777777"/><rect x="67.7" y="325.8" width="100" height="68.8" fill="#333333"/><path d="M47.4 337.2H61.2L67.7 347.7V349H47.4Z" fill="#9a9a9a"/><rect x="47.4" y="348.9" width="20.3" height="2" fill="#555"/><path d="M173.8 337.2H187.7V349H167.7V343.5Z" fill="#9a9a9a"/><rect x="167.7" y="348.9" width="20" height="2" fill="#555"/><path d="M55.5 284.5C58 281.5 64 281.5 66.5 284.5L95 296.2C103 297.5 107 301 107 306.5C107 313 100 317 91.5 317C86 317 80.5 315 77 311.5L54.5 292C52 289.5 53 286.5 55.5 284.5Z" fill="#cfcfcf" transform="translate(0 1.6)"/><path d="M55.5 284.5C58 281.5 64 281.5 66.5 284.5L95 296.2C103 297.5 107 301 107 306.5C107 313 100 317 91.5 317C86 317 80.5 315 77 311.5L54.5 292C52 289.5 53 286.5 55.5 284.5Z" fill="#ffffff"/><path d="M56 285.5C58 283 63.5 283 65.5 285.5" fill="none" stroke="#b8b8b8" stroke-width="0.8"/><ellipse cx="91" cy="305.8" rx="9.8" ry="5.9" fill="#8f8f8f"/><text transform="translate(113.8 313.9) scale(1.2 1)" font-family="Liberation Sans" font-weight="bold" font-size="9.6" fill="#e9c23a" stroke="#e9c23a" stroke-width="0.5" textLength="38.8" lengthAdjust="spacing">SERVO</text></g>
<g transform="translate(0 0)"><rect x="519.4" y="390" width="4.4" height="9" fill="#66bb66"/><rect x="544" y="390" width="4.4" height="9" fill="#66bb66"/><rect x="568.8" y="390" width="4.4" height="9" fill="#66bb66"/><rect x="510" y="371" width="73.2" height="20.6" fill="#7e7e7e"/><rect x="510" y="371" width="73.2" height="2.2" fill="#8e8e8e"/><rect x="526" y="373.2" width="14" height="12.3" fill="#8a8a8a"/><rect x="510" y="385" width="73.2" height="1.3" fill="#5e5e5e"/><rect x="510" y="386.3" width="73.2" height="5.3" fill="#777777"/><rect x="511.8" y="361.1" width="69.2" height="9.6" rx="2" fill="#2e2e2e"/><rect x="528" y="361" width="36.5" height="11.6" rx="1" fill="#505050"/><rect x="528.1" y="345.9" width="36.4" height="15.2" rx="1" fill="#0a0a0a"/><path d="M532.9 346V263L536.6 259.2H556L559.7 263V346Z" fill="#393939"/><rect x="537.2" y="262" width="1" height="84" fill="#4f4f4f"/><rect x="540.8" y="262" width="1.4" height="84" fill="#555555"/><rect x="544.1" y="262" width="1" height="84" fill="#222222"/><rect x="546.2" y="262" width="1.2" height="84" fill="#5a5a5a"/><rect x="548.3" y="262" width="1" height="84" fill="#4a4a4a"/><rect x="551.1" y="262" width="1.2" height="84" fill="#1e1e1e"/><rect x="554.3" y="262" width="1" height="84" fill="#222222"/><rect x="533" y="262" width="1.2" height="84" fill="#2e2e2e"/><path d="M532.9 263L536.6 259.2H556L559.7 263V264H532.9Z" fill="#262626"/></g>
<g transform="translate(136.3 0)"><rect x="519.4" y="390" width="4.4" height="9" fill="#66bb66"/><rect x="544" y="390" width="4.4" height="9" fill="#66bb66"/><rect x="568.8" y="390" width="4.4" height="9" fill="#66bb66"/><rect x="510" y="371" width="73.2" height="20.6" fill="#7e7e7e"/><rect x="510" y="371" width="73.2" height="2.2" fill="#8e8e8e"/><rect x="526" y="373.2" width="14" height="12.3" fill="#8a8a8a"/><rect x="510" y="385" width="73.2" height="1.3" fill="#5e5e5e"/><rect x="510" y="386.3" width="73.2" height="5.3" fill="#777777"/><rect x="511.8" y="361.1" width="69.2" height="9.6" rx="2" fill="#2e2e2e"/><rect x="528" y="361" width="36.5" height="11.6" rx="1" fill="#505050"/><rect x="528.1" y="345.9" width="36.4" height="15.2" rx="1" fill="#0a0a0a"/><path d="M532.9 346V263L536.6 259.2H556L559.7 263V346Z" fill="#393939"/><rect x="537.2" y="262" width="1" height="84" fill="#4f4f4f"/><rect x="540.8" y="262" width="1.4" height="84" fill="#555555"/><rect x="544.1" y="262" width="1" height="84" fill="#222222"/><rect x="546.2" y="262" width="1.2" height="84" fill="#5a5a5a"/><rect x="548.3" y="262" width="1" height="84" fill="#4a4a4a"/><rect x="551.1" y="262" width="1.2" height="84" fill="#1e1e1e"/><rect x="554.3" y="262" width="1" height="84" fill="#222222"/><rect x="533" y="262" width="1.2" height="84" fill="#2e2e2e"/><path d="M532.9 263L536.6 259.2H556L559.7 263V264H532.9Z" fill="#262626"/></g>
<path d="M175 364.6Q178.5 360.6 190 360.2L258.3 359.2L259.2 35.8L1009.4 38.8L1009.2 114" fill="none" stroke="#f4f414" stroke-width="4.2" stroke-linecap="round" stroke-linejoin="round"/>
<path d="M176 524.8L284.2 493.7L287.8 54.2L997.4 54.1L996.8 114" fill="none" stroke="#f4f414" stroke-width="4.2" stroke-linecap="round" stroke-linejoin="round"/>
<path d="M546.3 397.5L546.3 448L1078.7 447.7L1078.4 349" fill="none" stroke="#f4f414" stroke-width="4.2" stroke-linecap="round" stroke-linejoin="round"/>
<path d="M682.6 397.5L682.6 422.6L1066.4 422.6L1066 349" fill="none" stroke="#f4f414" stroke-width="4.2" stroke-linecap="round" stroke-linejoin="round"/>
<path d="M175.5 367.6Q181 368.8 186.2 373.3" fill="none" stroke="#ee1414" stroke-width="3.2" stroke-linecap="round"/>
<path d="M186.2 373.3L409.8 373.3L409.9 533.8" fill="none" stroke="#860c0c" stroke-width="5" stroke-linecap="round" stroke-linejoin="round"/>
<path d="M186.2 373.3L409.8 373.3L409.9 533.8" fill="none" stroke="#c01818" stroke-width="3.4" stroke-linecap="round" stroke-linejoin="round"/>
<path d="M175.5 528.7L186.2 534.1L366 534.1" fill="none" stroke="#ee1414" stroke-width="3.2" stroke-linecap="round" stroke-linejoin="round"/>
<path d="M366 534.1H374.5" stroke="#7f9f7f" stroke-width="3.6"/>
<path d="M571.1 398L596 533.6" fill="none" stroke="#860c0c" stroke-width="5" stroke-linecap="round" stroke-linejoin="round"/>
<path d="M571.1 398L596 533.6" fill="none" stroke="#c01818" stroke-width="3.4" stroke-linecap="round" stroke-linejoin="round"/>
<path d="M707.3 398L719.4 533.6" fill="none" stroke="#860c0c" stroke-width="5" stroke-linecap="round" stroke-linejoin="round"/>
<path d="M707.3 398L719.4 533.6" fill="none" stroke="#c01818" stroke-width="3.4" stroke-linecap="round" stroke-linejoin="round"/>
<path d="M1004.3 349L1004.3 533.8" fill="none" stroke="#860c0c" stroke-width="5" stroke-linecap="round" stroke-linejoin="round"/>
<path d="M1004.3 349L1004.3 533.8" fill="none" stroke="#c01818" stroke-width="3.4" stroke-linecap="round" stroke-linejoin="round"/>
<path d="M175.5 375.6L185.4 384.8" fill="none" stroke="#101010" stroke-width="3.3" stroke-linecap="round" stroke-linejoin="round"/>
<path d="M185.4 384.8L397.9 389.3L397.9 521.6" fill="none" stroke="#1c1c1c" stroke-width="4.5" stroke-linecap="round" stroke-linejoin="round"/>
<path d="M175.5 537.7L185.2 545.8L251.3 545.7L252.6 521.4L366 521.4" fill="none" stroke="#101010" stroke-width="3.3" stroke-linecap="round" stroke-linejoin="round"/>
<path d="M366 521.4H374.5" stroke="#7f9f7f" stroke-width="3.6"/>
<path d="M521.5 398L497 521.6" fill="none" stroke="#1c1c1c" stroke-width="4.5" stroke-linecap="round" stroke-linejoin="round"/>
<path d="M657.7 398L645.5 521.6" fill="none" stroke="#1c1c1c" stroke-width="4.5" stroke-linecap="round" stroke-linejoin="round"/>
<path d="M1029 349L1041.3 521.6" fill="none" stroke="#1c1c1c" stroke-width="4.5" stroke-linecap="round" stroke-linejoin="round"/>
<circle cx="259.2" cy="35.8" r="1.6" fill="#9a9a30"/><circle cx="1009.4" cy="38.8" r="1.6" fill="#9a9a30"/><circle cx="287.8" cy="54.2" r="1.6" fill="#9a9a30"/><circle cx="997.4" cy="54.1" r="1.6" fill="#9a9a30"/><circle cx="258.3" cy="359.2" r="1.6" fill="#9a9a30"/><circle cx="284.2" cy="493.7" r="1.6" fill="#9a9a30"/><circle cx="546.3" cy="448" r="1.6" fill="#9a9a30"/><circle cx="1078.7" cy="447.7" r="1.6" fill="#9a9a30"/><circle cx="682.6" cy="422.6" r="1.6" fill="#9a9a30"/><circle cx="1066.4" cy="422.6" r="1.6" fill="#9a9a30"/><circle cx="397.9" cy="389.3" r="1.5" fill="#555"/><circle cx="252.6" cy="521.4" r="1.5" fill="#555"/><circle cx="251.3" cy="545.7" r="1.5" fill="#555"/><circle cx="409.8" cy="373.3" r="1.8" fill="#6a1010"/><circle cx="409.9" cy="533.8" r="2" fill="#7a4a14"/><circle cx="596" cy="533.6" r="2" fill="#7a4a14"/><circle cx="719.4" cy="533.6" r="2" fill="#7a4a14"/><circle cx="1004.3" cy="533.8" r="2" fill="#7a4a14"/><circle cx="497" cy="521.6" r="2" fill="#1e5a22"/><circle cx="645.5" cy="521.6" r="2" fill="#1e5a22"/><circle cx="1041.3" cy="521.6" r="2" fill="#1e5a22"/><path d="M397.9 513.5V521.6" stroke="#6f946f" stroke-width="3.6" stroke-linecap="round"/><circle cx="186.2" cy="373.3" r="2" fill="#7a4a14"/>
<rect x="994.7" y="109" width="4.2" height="8" fill="#8fbf78" opacity="0.9"/><rect x="1007.1" y="109" width="4.2" height="8" fill="#8fbf78" opacity="0.9"/><circle cx="1066" cy="349" r="2.2" fill="#b8e048"/><circle cx="1078.4" cy="349" r="2.2" fill="#b8e048"/><circle cx="1004.3" cy="349" r="2.3" fill="#7a5a20"/><circle cx="1029" cy="349" r="2.3" fill="#2a5a22"/>
</svg>
</body></html>
